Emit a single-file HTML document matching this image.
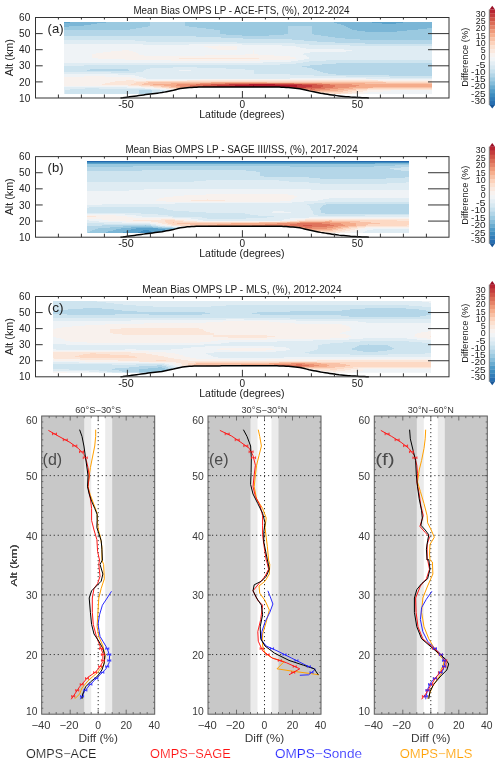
<!DOCTYPE html>
<html><head><meta charset="utf-8"><style>
html,body{margin:0;padding:0;background:#fff;width:500px;height:763px;overflow:hidden}
svg{display:block;font-family:"Liberation Sans", sans-serif;will-change:transform}
</style></head><body>
<svg width="500" height="763" viewBox="0 0 500 763">
<defs></defs>
<g shape-rendering="crispEdges">
<rect x="64.15" y="21.52" width="6.33" height="1" fill="#5aa2cb"/>
<rect x="70.48" y="21.52" width="35.65" height="1" fill="#7bb6d6"/>
<rect x="106.13" y="21.52" width="43.7" height="1" fill="#9ac9e0"/>
<rect x="149.83" y="21.52" width="35.65" height="1" fill="#b4d6e8"/>
<rect x="185.48" y="21.52" width="148.35" height="1" fill="#9ac9e0"/>
<rect x="333.82" y="21.52" width="37.95" height="1" fill="#7bb6d6"/>
<rect x="371.77" y="21.52" width="31.05" height="1" fill="#5aa2cb"/>
<rect x="402.82" y="21.52" width="28.87" height="1" fill="#7bb6d6"/>
<rect x="64.15" y="22.52" width="32.78" height="1" fill="#7bb6d6"/>
<rect x="96.93" y="22.52" width="52.9" height="1" fill="#9ac9e0"/>
<rect x="149.83" y="22.52" width="35.65" height="1" fill="#b4d6e8"/>
<rect x="185.48" y="22.52" width="151.8" height="1" fill="#9ac9e0"/>
<rect x="337.27" y="22.52" width="44.85" height="1" fill="#7bb6d6"/>
<rect x="382.12" y="22.52" width="13.8" height="1" fill="#5aa2cb"/>
<rect x="395.92" y="22.52" width="35.77" height="1" fill="#7bb6d6"/>
<rect x="64.15" y="23.52" width="27.03" height="1" fill="#7bb6d6"/>
<rect x="91.18" y="23.52" width="58.65" height="1" fill="#9ac9e0"/>
<rect x="149.83" y="23.52" width="35.65" height="1" fill="#b4d6e8"/>
<rect x="185.48" y="23.52" width="155.25" height="1" fill="#9ac9e0"/>
<rect x="340.73" y="23.52" width="90.96" height="1" fill="#7bb6d6"/>
<rect x="64.15" y="24.52" width="20.12" height="1" fill="#7bb6d6"/>
<rect x="84.28" y="24.52" width="65.55" height="1" fill="#9ac9e0"/>
<rect x="149.83" y="24.52" width="35.65" height="1" fill="#b4d6e8"/>
<rect x="185.48" y="24.52" width="158.7" height="1" fill="#9ac9e0"/>
<rect x="344.18" y="24.52" width="87.51" height="1" fill="#7bb6d6"/>
<rect x="64.15" y="25.52" width="5.18" height="1" fill="#7bb6d6"/>
<rect x="69.33" y="25.52" width="78.2" height="1" fill="#9ac9e0"/>
<rect x="147.53" y="25.52" width="41.4" height="1" fill="#b4d6e8"/>
<rect x="188.93" y="25.52" width="98.9" height="1" fill="#9ac9e0"/>
<rect x="287.82" y="25.52" width="24.15" height="1" fill="#b4d6e8"/>
<rect x="311.98" y="25.52" width="34.5" height="1" fill="#9ac9e0"/>
<rect x="346.48" y="25.52" width="85.21" height="1" fill="#7bb6d6"/>
<rect x="64.15" y="26.52" width="77.63" height="1" fill="#9ac9e0"/>
<rect x="141.78" y="26.52" width="55.2" height="1" fill="#b4d6e8"/>
<rect x="196.98" y="26.52" width="90.85" height="1" fill="#9ac9e0"/>
<rect x="287.82" y="26.52" width="24.15" height="1" fill="#b4d6e8"/>
<rect x="311.98" y="26.52" width="35.65" height="1" fill="#9ac9e0"/>
<rect x="347.62" y="26.52" width="84.06" height="1" fill="#7bb6d6"/>
<rect x="64.15" y="27.52" width="71.88" height="1" fill="#9ac9e0"/>
<rect x="136.03" y="27.52" width="70.15" height="1" fill="#b4d6e8"/>
<rect x="206.18" y="27.52" width="81.65" height="1" fill="#9ac9e0"/>
<rect x="287.82" y="27.52" width="24.15" height="1" fill="#b4d6e8"/>
<rect x="311.98" y="27.52" width="37.95" height="1" fill="#9ac9e0"/>
<rect x="349.93" y="27.52" width="77.05" height="1" fill="#7bb6d6"/>
<rect x="426.98" y="27.52" width="4.71" height="1" fill="#9ac9e0"/>
<rect x="64.15" y="28.52" width="66.13" height="1" fill="#9ac9e0"/>
<rect x="130.28" y="28.52" width="83.95" height="1" fill="#b4d6e8"/>
<rect x="214.23" y="28.52" width="73.6" height="1" fill="#9ac9e0"/>
<rect x="287.82" y="28.52" width="24.15" height="1" fill="#b4d6e8"/>
<rect x="311.98" y="28.52" width="40.25" height="1" fill="#9ac9e0"/>
<rect x="352.23" y="28.52" width="65.55" height="1" fill="#7bb6d6"/>
<rect x="417.77" y="28.52" width="13.92" height="1" fill="#9ac9e0"/>
<rect x="64.15" y="29.52" width="155.83" height="1" fill="#b4d6e8"/>
<rect x="219.98" y="29.52" width="67.85" height="1" fill="#9ac9e0"/>
<rect x="287.82" y="29.52" width="24.15" height="1" fill="#b4d6e8"/>
<rect x="311.98" y="29.52" width="44.85" height="1" fill="#9ac9e0"/>
<rect x="356.82" y="29.52" width="50.6" height="1" fill="#7bb6d6"/>
<rect x="407.42" y="29.52" width="24.27" height="1" fill="#9ac9e0"/>
<rect x="64.15" y="30.52" width="155.83" height="1" fill="#b4d6e8"/>
<rect x="219.98" y="30.52" width="67.85" height="1" fill="#9ac9e0"/>
<rect x="287.82" y="30.52" width="24.15" height="1" fill="#b4d6e8"/>
<rect x="311.98" y="30.52" width="52.9" height="1" fill="#9ac9e0"/>
<rect x="364.88" y="30.52" width="32.2" height="1" fill="#7bb6d6"/>
<rect x="397.07" y="30.52" width="34.62" height="1" fill="#9ac9e0"/>
<rect x="64.15" y="31.52" width="155.83" height="1" fill="#b4d6e8"/>
<rect x="219.98" y="31.52" width="67.85" height="1" fill="#9ac9e0"/>
<rect x="287.82" y="31.52" width="24.15" height="1" fill="#b4d6e8"/>
<rect x="311.98" y="31.52" width="119.71" height="1" fill="#9ac9e0"/>
<rect x="64.15" y="32.52" width="155.83" height="1" fill="#b4d6e8"/>
<rect x="219.98" y="32.52" width="67.85" height="1" fill="#9ac9e0"/>
<rect x="287.82" y="32.52" width="24.15" height="1" fill="#b4d6e8"/>
<rect x="311.98" y="32.52" width="119.71" height="1" fill="#9ac9e0"/>
<rect x="64.15" y="33.52" width="161.58" height="1" fill="#b4d6e8"/>
<rect x="225.73" y="33.52" width="58.65" height="1" fill="#9ac9e0"/>
<rect x="284.38" y="33.52" width="29.9" height="1" fill="#b4d6e8"/>
<rect x="314.27" y="33.52" width="117.42" height="1" fill="#9ac9e0"/>
<rect x="64.15" y="34.52" width="177.68" height="1" fill="#b4d6e8"/>
<rect x="241.83" y="34.52" width="27.6" height="1" fill="#9ac9e0"/>
<rect x="269.43" y="34.52" width="51.75" height="1" fill="#b4d6e8"/>
<rect x="321.18" y="34.52" width="110.51" height="1" fill="#9ac9e0"/>
<rect x="64.15" y="35.52" width="131.68" height="1" fill="#cee4ef"/>
<rect x="195.83" y="35.52" width="132.25" height="1" fill="#b4d6e8"/>
<rect x="328.07" y="35.52" width="103.62" height="1" fill="#9ac9e0"/>
<rect x="64.15" y="36.52" width="156.97" height="1" fill="#cee4ef"/>
<rect x="221.12" y="36.52" width="113.85" height="1" fill="#b4d6e8"/>
<rect x="334.98" y="36.52" width="96.71" height="1" fill="#9ac9e0"/>
<rect x="64.15" y="37.52" width="178.82" height="1" fill="#cee4ef"/>
<rect x="242.97" y="37.52" width="102.35" height="1" fill="#b4d6e8"/>
<rect x="345.32" y="37.52" width="86.37" height="1" fill="#9ac9e0"/>
<rect x="64.15" y="38.52" width="228.28" height="1" fill="#cee4ef"/>
<rect x="292.43" y="38.52" width="67.85" height="1" fill="#b4d6e8"/>
<rect x="360.27" y="38.52" width="71.42" height="1" fill="#9ac9e0"/>
<rect x="64.15" y="39.52" width="70.72" height="1" fill="#dfecf3"/>
<rect x="134.88" y="39.52" width="169.05" height="1" fill="#cee4ef"/>
<rect x="303.93" y="39.52" width="127.76" height="1" fill="#b4d6e8"/>
<rect x="64.15" y="40.52" width="82.22" height="1" fill="#dfecf3"/>
<rect x="146.38" y="40.52" width="170.2" height="1" fill="#cee4ef"/>
<rect x="316.57" y="40.52" width="115.12" height="1" fill="#b4d6e8"/>
<rect x="64.15" y="41.52" width="173.07" height="1" fill="#dfecf3"/>
<rect x="237.22" y="41.52" width="97.75" height="1" fill="#cee4ef"/>
<rect x="334.98" y="41.52" width="96.71" height="1" fill="#b4d6e8"/>
<rect x="64.15" y="42.52" width="230.58" height="1" fill="#dfecf3"/>
<rect x="294.73" y="42.52" width="70.15" height="1" fill="#cee4ef"/>
<rect x="364.88" y="42.52" width="66.81" height="1" fill="#b4d6e8"/>
<rect x="64.15" y="43.52" width="78.78" height="1" fill="#eff3f6"/>
<rect x="142.93" y="43.52" width="46" height="1" fill="#dfecf3"/>
<rect x="188.93" y="43.52" width="52.9" height="1" fill="#eff3f6"/>
<rect x="241.83" y="43.52" width="66.7" height="1" fill="#dfecf3"/>
<rect x="308.52" y="43.52" width="123.17" height="1" fill="#cee4ef"/>
<rect x="64.15" y="44.52" width="154.68" height="1" fill="#eff3f6"/>
<rect x="218.83" y="44.52" width="1.15" height="1" fill="#f8f1ed"/>
<rect x="219.98" y="44.52" width="62.1" height="1" fill="#eff3f6"/>
<rect x="282.07" y="44.52" width="67.85" height="1" fill="#dfecf3"/>
<rect x="349.93" y="44.52" width="81.76" height="1" fill="#cee4ef"/>
<rect x="64.15" y="45.52" width="139.72" height="1" fill="#eff3f6"/>
<rect x="203.88" y="45.52" width="33.35" height="1" fill="#f8f1ed"/>
<rect x="237.22" y="45.52" width="58.65" height="1" fill="#eff3f6"/>
<rect x="295.88" y="45.52" width="135.81" height="1" fill="#dfecf3"/>
<rect x="64.15" y="46.52" width="144.33" height="1" fill="#eff3f6"/>
<rect x="208.48" y="46.52" width="28.75" height="1" fill="#f8f1ed"/>
<rect x="237.22" y="46.52" width="63.25" height="1" fill="#eff3f6"/>
<rect x="300.48" y="46.52" width="131.21" height="1" fill="#dfecf3"/>
<rect x="64.15" y="47.52" width="147.78" height="1" fill="#eff3f6"/>
<rect x="211.93" y="47.52" width="25.3" height="1" fill="#f8f1ed"/>
<rect x="237.22" y="47.52" width="69" height="1" fill="#eff3f6"/>
<rect x="306.23" y="47.52" width="125.46" height="1" fill="#dfecf3"/>
<rect x="64.15" y="48.52" width="152.38" height="1" fill="#eff3f6"/>
<rect x="216.53" y="48.52" width="20.7" height="1" fill="#f8f1ed"/>
<rect x="237.22" y="48.52" width="106.95" height="1" fill="#eff3f6"/>
<rect x="344.18" y="48.52" width="87.51" height="1" fill="#dfecf3"/>
<rect x="64.15" y="49.52" width="58.08" height="1" fill="#eff3f6"/>
<rect x="122.23" y="49.52" width="6.9" height="1" fill="#f8f1ed"/>
<rect x="129.12" y="49.52" width="124.2" height="1" fill="#eff3f6"/>
<rect x="253.33" y="49.52" width="1.15" height="1" fill="#f8f1ed"/>
<rect x="254.47" y="49.52" width="97.75" height="1" fill="#eff3f6"/>
<rect x="352.23" y="49.52" width="79.46" height="1" fill="#dfecf3"/>
<rect x="64.15" y="50.52" width="46.58" height="1" fill="#eff3f6"/>
<rect x="110.73" y="50.52" width="21.85" height="1" fill="#f8f1ed"/>
<rect x="132.58" y="50.52" width="120.75" height="1" fill="#eff3f6"/>
<rect x="253.33" y="50.52" width="1.15" height="1" fill="#f8f1ed"/>
<rect x="254.47" y="50.52" width="92" height="1" fill="#eff3f6"/>
<rect x="346.48" y="50.52" width="85.21" height="1" fill="#dfecf3"/>
<rect x="64.15" y="51.52" width="38.53" height="1" fill="#eff3f6"/>
<rect x="102.68" y="51.52" width="33.35" height="1" fill="#f8f1ed"/>
<rect x="136.03" y="51.52" width="117.3" height="1" fill="#eff3f6"/>
<rect x="253.33" y="51.52" width="1.15" height="1" fill="#f8f1ed"/>
<rect x="254.47" y="51.52" width="55.2" height="1" fill="#eff3f6"/>
<rect x="309.68" y="51.52" width="122.01" height="1" fill="#dfecf3"/>
<rect x="64.15" y="52.52" width="31.62" height="1" fill="#eff3f6"/>
<rect x="95.78" y="52.52" width="42.55" height="1" fill="#f8f1ed"/>
<rect x="138.33" y="52.52" width="115" height="1" fill="#eff3f6"/>
<rect x="253.33" y="52.52" width="1.15" height="1" fill="#f8f1ed"/>
<rect x="254.47" y="52.52" width="49.45" height="1" fill="#eff3f6"/>
<rect x="303.93" y="52.52" width="127.76" height="1" fill="#dfecf3"/>
<rect x="64.15" y="53.52" width="28.18" height="1" fill="#eff3f6"/>
<rect x="92.33" y="53.52" width="47.15" height="1" fill="#f8f1ed"/>
<rect x="139.48" y="53.52" width="105.8" height="1" fill="#eff3f6"/>
<rect x="245.28" y="53.52" width="12.65" height="1" fill="#f8f1ed"/>
<rect x="257.93" y="53.52" width="44.85" height="1" fill="#eff3f6"/>
<rect x="302.77" y="53.52" width="128.92" height="1" fill="#dfecf3"/>
<rect x="64.15" y="54.52" width="28.18" height="1" fill="#eff3f6"/>
<rect x="92.33" y="54.52" width="51.75" height="1" fill="#f8f1ed"/>
<rect x="144.08" y="54.52" width="60.95" height="1" fill="#eff3f6"/>
<rect x="205.03" y="54.52" width="69" height="1" fill="#f8f1ed"/>
<rect x="274.02" y="54.52" width="32.2" height="1" fill="#eff3f6"/>
<rect x="306.23" y="54.52" width="125.46" height="1" fill="#dfecf3"/>
<rect x="64.15" y="55.52" width="28.18" height="1" fill="#eff3f6"/>
<rect x="92.33" y="55.52" width="197.8" height="1" fill="#f8f1ed"/>
<rect x="290.12" y="55.52" width="17.25" height="1" fill="#eff3f6"/>
<rect x="307.38" y="55.52" width="124.31" height="1" fill="#dfecf3"/>
<rect x="64.15" y="56.52" width="28.18" height="1" fill="#eff3f6"/>
<rect x="92.33" y="56.52" width="202.4" height="1" fill="#f8f1ed"/>
<rect x="294.73" y="56.52" width="13.8" height="1" fill="#eff3f6"/>
<rect x="308.52" y="56.52" width="123.17" height="1" fill="#dfecf3"/>
<rect x="64.15" y="57.52" width="33.93" height="1" fill="#eff3f6"/>
<rect x="98.08" y="57.52" width="80.5" height="1" fill="#f8f1ed"/>
<rect x="178.58" y="57.52" width="80.5" height="1" fill="#fbe6d9"/>
<rect x="259.07" y="57.52" width="36.8" height="1" fill="#f8f1ed"/>
<rect x="295.88" y="57.52" width="12.65" height="1" fill="#eff3f6"/>
<rect x="308.52" y="57.52" width="123.17" height="1" fill="#dfecf3"/>
<rect x="64.15" y="58.52" width="60.38" height="1" fill="#eff3f6"/>
<rect x="124.53" y="58.52" width="165.6" height="1" fill="#f8f1ed"/>
<rect x="290.12" y="58.52" width="13.8" height="1" fill="#eff3f6"/>
<rect x="303.93" y="58.52" width="127.76" height="1" fill="#dfecf3"/>
<rect x="64.15" y="59.52" width="106.38" height="1" fill="#eff3f6"/>
<rect x="170.53" y="59.52" width="89.7" height="1" fill="#f8f1ed"/>
<rect x="260.23" y="59.52" width="37.95" height="1" fill="#eff3f6"/>
<rect x="298.18" y="59.52" width="27.6" height="1" fill="#dfecf3"/>
<rect x="325.77" y="59.52" width="105.92" height="1" fill="#cee4ef"/>
<rect x="64.15" y="60.52" width="227.12" height="1" fill="#eff3f6"/>
<rect x="291.27" y="60.52" width="17.25" height="1" fill="#dfecf3"/>
<rect x="308.52" y="60.52" width="123.17" height="1" fill="#cee4ef"/>
<rect x="64.15" y="61.52" width="198.37" height="1" fill="#eff3f6"/>
<rect x="262.52" y="61.52" width="40.25" height="1" fill="#dfecf3"/>
<rect x="302.77" y="61.52" width="128.92" height="1" fill="#cee4ef"/>
<rect x="64.15" y="62.52" width="231.72" height="1" fill="#dfecf3"/>
<rect x="295.88" y="62.52" width="40.25" height="1" fill="#cee4ef"/>
<rect x="336.12" y="62.52" width="95.56" height="1" fill="#b4d6e8"/>
<rect x="64.15" y="63.52" width="215.62" height="1" fill="#dfecf3"/>
<rect x="279.77" y="63.52" width="42.55" height="1" fill="#cee4ef"/>
<rect x="322.32" y="63.52" width="109.37" height="1" fill="#b4d6e8"/>
<rect x="64.15" y="64.53" width="20.12" height="1" fill="#dfecf3"/>
<rect x="84.28" y="64.53" width="225.4" height="1" fill="#cee4ef"/>
<rect x="309.68" y="64.53" width="122.01" height="1" fill="#b4d6e8"/>
<rect x="64.15" y="65.53" width="237.47" height="1" fill="#cee4ef"/>
<rect x="301.62" y="65.53" width="130.06" height="1" fill="#b4d6e8"/>
<rect x="64.15" y="66.53" width="108.68" height="1" fill="#cee4ef"/>
<rect x="172.83" y="66.53" width="24.15" height="1" fill="#dfecf3"/>
<rect x="196.98" y="66.53" width="110.4" height="1" fill="#cee4ef"/>
<rect x="307.38" y="66.53" width="124.31" height="1" fill="#b4d6e8"/>
<rect x="64.15" y="67.53" width="85.68" height="1" fill="#cee4ef"/>
<rect x="149.83" y="67.53" width="75.9" height="1" fill="#dfecf3"/>
<rect x="225.73" y="67.53" width="86.25" height="1" fill="#cee4ef"/>
<rect x="311.98" y="67.53" width="119.71" height="1" fill="#b4d6e8"/>
<rect x="64.15" y="68.53" width="25.88" height="1" fill="#cee4ef"/>
<rect x="90.03" y="68.53" width="37.95" height="1" fill="#b4d6e8"/>
<rect x="127.98" y="68.53" width="18.4" height="1" fill="#cee4ef"/>
<rect x="146.38" y="68.53" width="98.9" height="1" fill="#dfecf3"/>
<rect x="245.28" y="68.53" width="69" height="1" fill="#cee4ef"/>
<rect x="314.27" y="68.53" width="117.42" height="1" fill="#b4d6e8"/>
<rect x="64.15" y="69.53" width="22.43" height="1" fill="#cee4ef"/>
<rect x="86.58" y="69.53" width="42.55" height="1" fill="#b4d6e8"/>
<rect x="129.12" y="69.53" width="14.95" height="1" fill="#cee4ef"/>
<rect x="144.08" y="69.53" width="34.5" height="1" fill="#dfecf3"/>
<rect x="178.58" y="69.53" width="12.65" height="1" fill="#eff3f6"/>
<rect x="191.23" y="69.53" width="63.25" height="1" fill="#dfecf3"/>
<rect x="254.47" y="69.53" width="62.1" height="1" fill="#cee4ef"/>
<rect x="316.57" y="69.53" width="115.12" height="1" fill="#b4d6e8"/>
<rect x="64.15" y="70.53" width="78.78" height="1" fill="#cee4ef"/>
<rect x="142.93" y="70.53" width="111.55" height="1" fill="#dfecf3"/>
<rect x="254.47" y="70.53" width="65.55" height="1" fill="#cee4ef"/>
<rect x="320.02" y="70.53" width="111.67" height="1" fill="#b4d6e8"/>
<rect x="64.15" y="71.53" width="46.58" height="1" fill="#dfecf3"/>
<rect x="110.73" y="71.53" width="25.3" height="1" fill="#cee4ef"/>
<rect x="136.03" y="71.53" width="118.45" height="1" fill="#dfecf3"/>
<rect x="254.47" y="71.53" width="69" height="1" fill="#cee4ef"/>
<rect x="323.48" y="71.53" width="108.21" height="1" fill="#b4d6e8"/>
<rect x="64.15" y="72.53" width="190.32" height="1" fill="#dfecf3"/>
<rect x="254.47" y="72.53" width="73.6" height="1" fill="#cee4ef"/>
<rect x="328.07" y="72.53" width="103.62" height="1" fill="#b4d6e8"/>
<rect x="64.15" y="73.53" width="53.48" height="1" fill="#eff3f6"/>
<rect x="117.63" y="73.53" width="172.5" height="1" fill="#dfecf3"/>
<rect x="290.12" y="73.53" width="46" height="1" fill="#cee4ef"/>
<rect x="336.12" y="73.53" width="95.56" height="1" fill="#b4d6e8"/>
<rect x="64.15" y="74.53" width="70.72" height="1" fill="#eff3f6"/>
<rect x="134.88" y="74.53" width="179.4" height="1" fill="#dfecf3"/>
<rect x="314.27" y="74.53" width="74.75" height="1" fill="#cee4ef"/>
<rect x="389.02" y="74.53" width="42.67" height="1" fill="#b4d6e8"/>
<rect x="64.15" y="75.53" width="20.12" height="1" fill="#eff3f6"/>
<rect x="84.28" y="75.53" width="20.7" height="1" fill="#f8f1ed"/>
<rect x="104.98" y="75.53" width="34.5" height="1" fill="#eff3f6"/>
<rect x="139.48" y="75.53" width="207" height="1" fill="#dfecf3"/>
<rect x="346.48" y="75.53" width="85.21" height="1" fill="#cee4ef"/>
<rect x="64.15" y="76.53" width="67.28" height="1" fill="#f8f1ed"/>
<rect x="131.43" y="76.53" width="11.5" height="1" fill="#eff3f6"/>
<rect x="142.93" y="76.53" width="247.25" height="1" fill="#dfecf3"/>
<rect x="390.17" y="76.53" width="41.52" height="1" fill="#cee4ef"/>
<rect x="64.15" y="77.53" width="71.88" height="1" fill="#f8f1ed"/>
<rect x="136.03" y="77.53" width="10.35" height="1" fill="#eff3f6"/>
<rect x="146.38" y="77.53" width="143.75" height="1" fill="#dfecf3"/>
<rect x="290.12" y="77.53" width="75.9" height="1" fill="#eff3f6"/>
<rect x="366.02" y="77.53" width="65.67" height="1" fill="#dfecf3"/>
<rect x="64.15" y="78.53" width="82.22" height="1" fill="#f8f1ed"/>
<rect x="146.38" y="78.53" width="54.05" height="1" fill="#eff3f6"/>
<rect x="200.43" y="78.53" width="171.35" height="1" fill="#f8f1ed"/>
<rect x="371.77" y="78.53" width="59.92" height="1" fill="#eff3f6"/>
<rect x="64.15" y="79.53" width="61.53" height="1" fill="#f8f1ed"/>
<rect x="125.68" y="79.53" width="8.05" height="1" fill="#fbe6d9"/>
<rect x="133.73" y="79.53" width="52.9" height="1" fill="#f8f1ed"/>
<rect x="186.62" y="79.53" width="190.9" height="1" fill="#fbe6d9"/>
<rect x="377.52" y="79.53" width="54.17" height="1" fill="#f8f1ed"/>
<rect x="64.15" y="80.53" width="51.18" height="1" fill="#f8f1ed"/>
<rect x="115.33" y="80.53" width="31.05" height="1" fill="#fbe6d9"/>
<rect x="146.38" y="80.53" width="236.9" height="1" fill="#fdd9c4"/>
<rect x="383.27" y="80.53" width="48.42" height="1" fill="#fbe6d9"/>
<rect x="64.15" y="81.53" width="45.43" height="1" fill="#f8f1ed"/>
<rect x="109.58" y="81.53" width="26.45" height="1" fill="#fbe6d9"/>
<rect x="136.03" y="81.53" width="11.5" height="1" fill="#fdd9c4"/>
<rect x="147.53" y="81.53" width="63.25" height="1" fill="#f9c2a7"/>
<rect x="210.78" y="81.53" width="56.35" height="1" fill="#f5ac8b"/>
<rect x="267.12" y="81.53" width="118.45" height="1" fill="#f9c2a7"/>
<rect x="385.57" y="81.53" width="46.12" height="1" fill="#fdd9c4"/>
<rect x="64.15" y="82.53" width="40.83" height="1" fill="#f8f1ed"/>
<rect x="104.98" y="82.53" width="28.75" height="1" fill="#fbe6d9"/>
<rect x="133.73" y="82.53" width="10.35" height="1" fill="#fdd9c4"/>
<rect x="144.08" y="82.53" width="26.45" height="1" fill="#f9c2a7"/>
<rect x="170.53" y="82.53" width="29.9" height="1" fill="#f5ac8b"/>
<rect x="200.43" y="82.53" width="24.15" height="1" fill="#eb9173"/>
<rect x="224.58" y="82.53" width="69" height="1" fill="#df745c"/>
<rect x="293.57" y="82.53" width="28.75" height="1" fill="#eb9173"/>
<rect x="322.32" y="82.53" width="42.55" height="1" fill="#f5ac8b"/>
<rect x="364.88" y="82.53" width="66.81" height="1" fill="#f9c2a7"/>
<rect x="64.15" y="83.53" width="37.38" height="1" fill="#f8f1ed"/>
<rect x="101.53" y="83.53" width="29.9" height="1" fill="#fbe6d9"/>
<rect x="131.43" y="83.53" width="10.35" height="1" fill="#fdd9c4"/>
<rect x="141.78" y="83.53" width="11.5" height="1" fill="#f9c2a7"/>
<rect x="153.28" y="83.53" width="24.15" height="1" fill="#f5ac8b"/>
<rect x="177.43" y="83.53" width="18.4" height="1" fill="#eb9173"/>
<rect x="195.83" y="83.53" width="14.95" height="1" fill="#df745c"/>
<rect x="210.78" y="83.53" width="18.4" height="1" fill="#d25749"/>
<rect x="229.18" y="83.53" width="19.55" height="1" fill="#c3393b"/>
<rect x="248.72" y="83.53" width="26.45" height="1" fill="#b31b2c"/>
<rect x="275.18" y="83.53" width="26.45" height="1" fill="#c3393b"/>
<rect x="301.62" y="83.53" width="14.95" height="1" fill="#d25749"/>
<rect x="316.57" y="83.53" width="13.8" height="1" fill="#df745c"/>
<rect x="330.38" y="83.53" width="21.85" height="1" fill="#eb9173"/>
<rect x="352.23" y="83.53" width="79.46" height="1" fill="#f5ac8b"/>
<rect x="64.15" y="84.53" width="63.83" height="1" fill="#f8f1ed"/>
<rect x="127.98" y="84.53" width="11.5" height="1" fill="#fbe6d9"/>
<rect x="139.48" y="84.53" width="10.35" height="1" fill="#fdd9c4"/>
<rect x="149.83" y="84.53" width="13.8" height="1" fill="#f9c2a7"/>
<rect x="163.62" y="84.53" width="12.65" height="1" fill="#f5ac8b"/>
<rect x="176.28" y="84.53" width="13.8" height="1" fill="#eb9173"/>
<rect x="190.08" y="84.53" width="12.65" height="1" fill="#df745c"/>
<rect x="202.73" y="84.53" width="13.8" height="1" fill="#d25749"/>
<rect x="216.53" y="84.53" width="18.4" height="1" fill="#c3393b"/>
<rect x="234.93" y="84.53" width="18.4" height="1" fill="#b31b2c"/>
<rect x="253.33" y="84.53" width="1.15" height="1" fill="#960f26"/>
<rect x="254.47" y="84.53" width="42.55" height="1" fill="#b31b2c"/>
<rect x="297.02" y="84.53" width="14.95" height="1" fill="#c3393b"/>
<rect x="311.98" y="84.53" width="11.5" height="1" fill="#d25749"/>
<rect x="323.48" y="84.53" width="11.5" height="1" fill="#df745c"/>
<rect x="334.98" y="84.53" width="24.15" height="1" fill="#eb9173"/>
<rect x="359.12" y="84.53" width="72.56" height="1" fill="#f5ac8b"/>
<rect x="64.15" y="85.53" width="64.97" height="1" fill="#eff3f6"/>
<rect x="129.12" y="85.53" width="11.5" height="1" fill="#f8f1ed"/>
<rect x="140.62" y="85.53" width="12.65" height="1" fill="#fbe6d9"/>
<rect x="153.28" y="85.53" width="8.05" height="1" fill="#fdd9c4"/>
<rect x="161.33" y="85.53" width="9.2" height="1" fill="#f9c2a7"/>
<rect x="170.53" y="85.53" width="9.2" height="1" fill="#f5ac8b"/>
<rect x="179.73" y="85.53" width="10.35" height="1" fill="#eb9173"/>
<rect x="190.08" y="85.53" width="11.5" height="1" fill="#df745c"/>
<rect x="201.58" y="85.53" width="11.5" height="1" fill="#d25749"/>
<rect x="213.08" y="85.53" width="17.25" height="1" fill="#c3393b"/>
<rect x="230.33" y="85.53" width="23" height="1" fill="#b31b2c"/>
<rect x="253.33" y="85.53" width="1.15" height="1" fill="#960f26"/>
<rect x="254.47" y="85.53" width="42.55" height="1" fill="#b31b2c"/>
<rect x="297.02" y="85.53" width="14.95" height="1" fill="#c3393b"/>
<rect x="311.98" y="85.53" width="11.5" height="1" fill="#d25749"/>
<rect x="323.48" y="85.53" width="11.5" height="1" fill="#df745c"/>
<rect x="334.98" y="85.53" width="20.7" height="1" fill="#eb9173"/>
<rect x="355.68" y="85.53" width="76.01" height="1" fill="#f5ac8b"/>
<rect x="64.15" y="86.53" width="62.68" height="1" fill="#dfecf3"/>
<rect x="126.83" y="86.53" width="16.1" height="1" fill="#eff3f6"/>
<rect x="142.93" y="86.53" width="11.5" height="1" fill="#f8f1ed"/>
<rect x="154.43" y="86.53" width="8.05" height="1" fill="#fbe6d9"/>
<rect x="162.48" y="86.53" width="6.9" height="1" fill="#fdd9c4"/>
<rect x="169.38" y="86.53" width="6.9" height="1" fill="#f9c2a7"/>
<rect x="176.28" y="86.53" width="8.05" height="1" fill="#f5ac8b"/>
<rect x="184.33" y="86.53" width="11.5" height="1" fill="#eb9173"/>
<rect x="195.83" y="86.53" width="11.5" height="1" fill="#df745c"/>
<rect x="207.33" y="86.53" width="12.65" height="1" fill="#d25749"/>
<rect x="219.98" y="86.53" width="31.05" height="1" fill="#c3393b"/>
<rect x="251.03" y="86.53" width="10.35" height="1" fill="#b31b2c"/>
<rect x="261.38" y="86.53" width="44.85" height="1" fill="#c3393b"/>
<rect x="306.23" y="86.53" width="14.95" height="1" fill="#d25749"/>
<rect x="321.18" y="86.53" width="11.5" height="1" fill="#df745c"/>
<rect x="332.68" y="86.53" width="16.1" height="1" fill="#eb9173"/>
<rect x="348.77" y="86.53" width="24.15" height="1" fill="#f5ac8b"/>
<rect x="372.92" y="86.53" width="58.77" height="1" fill="#f9c2a7"/>
<rect x="64.15" y="87.53" width="21.28" height="1" fill="#dfecf3"/>
<rect x="85.43" y="87.53" width="13.8" height="1" fill="#cee4ef"/>
<rect x="99.23" y="87.53" width="46" height="1" fill="#dfecf3"/>
<rect x="145.23" y="87.53" width="11.5" height="1" fill="#eff3f6"/>
<rect x="156.73" y="87.53" width="9.2" height="1" fill="#f8f1ed"/>
<rect x="165.93" y="87.53" width="8.05" height="1" fill="#fbe6d9"/>
<rect x="173.98" y="87.53" width="8.05" height="1" fill="#fdd9c4"/>
<rect x="182.03" y="87.53" width="14.95" height="1" fill="#f9c2a7"/>
<rect x="196.98" y="87.53" width="17.25" height="1" fill="#f5ac8b"/>
<rect x="214.23" y="87.53" width="79.35" height="1" fill="#eb9173"/>
<rect x="293.57" y="87.53" width="17.25" height="1" fill="#df745c"/>
<rect x="310.82" y="87.53" width="1.15" height="1" fill="#d25749"/>
<rect x="311.98" y="87.53" width="12.65" height="1" fill="#df745c"/>
<rect x="324.62" y="87.53" width="13.8" height="1" fill="#eb9173"/>
<rect x="338.43" y="87.53" width="14.95" height="1" fill="#f5ac8b"/>
<rect x="353.38" y="87.53" width="14.95" height="1" fill="#f9c2a7"/>
<rect x="368.32" y="87.53" width="63.37" height="1" fill="#fdd9c4"/>
<rect x="64.15" y="88.53" width="6.33" height="1" fill="#dfecf3"/>
<rect x="70.48" y="88.53" width="80.5" height="1" fill="#cee4ef"/>
<rect x="150.98" y="88.53" width="9.2" height="1" fill="#dfecf3"/>
<rect x="160.18" y="88.53" width="9.2" height="1" fill="#eff3f6"/>
<rect x="169.38" y="88.53" width="10.35" height="1" fill="#f8f1ed"/>
<rect x="179.73" y="88.53" width="19.55" height="1" fill="#fbe6d9"/>
<rect x="199.28" y="88.53" width="90.85" height="1" fill="#fdd9c4"/>
<rect x="290.12" y="88.53" width="6.9" height="1" fill="#f9c2a7"/>
<rect x="297.02" y="88.53" width="5.75" height="1" fill="#f5ac8b"/>
<rect x="302.77" y="88.53" width="6.9" height="1" fill="#eb9173"/>
<rect x="309.68" y="88.53" width="5.75" height="1" fill="#df745c"/>
<rect x="315.43" y="88.53" width="14.95" height="1" fill="#eb9173"/>
<rect x="330.38" y="88.53" width="13.8" height="1" fill="#f5ac8b"/>
<rect x="344.18" y="88.53" width="11.5" height="1" fill="#f9c2a7"/>
<rect x="355.68" y="88.53" width="11.5" height="1" fill="#fdd9c4"/>
<rect x="367.18" y="88.53" width="64.51" height="1" fill="#fbe6d9"/>
<rect x="64.15" y="89.53" width="0.58" height="1" fill="#dfecf3"/>
<rect x="64.73" y="89.53" width="74.75" height="1" fill="#cee4ef"/>
<rect x="139.48" y="89.53" width="12.65" height="1" fill="#b4d6e8"/>
<rect x="152.12" y="89.53" width="11.5" height="1" fill="#cee4ef"/>
<rect x="163.62" y="89.53" width="10.35" height="1" fill="#dfecf3"/>
<rect x="173.98" y="89.53" width="10.35" height="1" fill="#eff3f6"/>
<rect x="184.33" y="89.53" width="108.1" height="1" fill="#f8f1ed"/>
<rect x="292.43" y="89.53" width="4.6" height="1" fill="#fbe6d9"/>
<rect x="297.02" y="89.53" width="3.45" height="1" fill="#fdd9c4"/>
<rect x="300.48" y="89.53" width="4.6" height="1" fill="#f9c2a7"/>
<rect x="305.07" y="89.53" width="4.6" height="1" fill="#f5ac8b"/>
<rect x="309.68" y="89.53" width="10.35" height="1" fill="#eb9173"/>
<rect x="320.02" y="89.53" width="18.4" height="1" fill="#f5ac8b"/>
<rect x="338.43" y="89.53" width="9.2" height="1" fill="#f9c2a7"/>
<rect x="347.62" y="89.53" width="9.2" height="1" fill="#fdd9c4"/>
<rect x="356.82" y="89.53" width="10.35" height="1" fill="#fbe6d9"/>
<rect x="367.18" y="89.53" width="24.15" height="1" fill="#f8f1ed"/>
<rect x="391.32" y="89.53" width="40.37" height="1" fill="#eff3f6"/>
<rect x="64.15" y="90.53" width="0.58" height="1" fill="#dfecf3"/>
<rect x="64.73" y="90.53" width="74.75" height="1" fill="#cee4ef"/>
<rect x="139.48" y="90.53" width="12.65" height="1" fill="#b4d6e8"/>
<rect x="152.12" y="90.53" width="11.5" height="1" fill="#cee4ef"/>
<rect x="163.62" y="90.53" width="10.35" height="1" fill="#dfecf3"/>
<rect x="173.98" y="90.53" width="10.35" height="1" fill="#eff3f6"/>
<rect x="184.33" y="90.53" width="109.25" height="1" fill="#f8f1ed"/>
<rect x="293.57" y="90.53" width="5.75" height="1" fill="#fbe6d9"/>
<rect x="299.32" y="90.53" width="5.75" height="1" fill="#fdd9c4"/>
<rect x="305.07" y="90.53" width="5.75" height="1" fill="#f9c2a7"/>
<rect x="310.82" y="90.53" width="4.6" height="1" fill="#f5ac8b"/>
<rect x="315.43" y="90.53" width="27.6" height="1" fill="#f9c2a7"/>
<rect x="343.02" y="90.53" width="9.2" height="1" fill="#fdd9c4"/>
<rect x="352.23" y="90.53" width="10.35" height="1" fill="#fbe6d9"/>
<rect x="362.57" y="90.53" width="20.7" height="1" fill="#f8f1ed"/>
<rect x="383.27" y="90.53" width="48.42" height="1" fill="#eff3f6"/>
<rect x="64.15" y="91.53" width="0.58" height="1" fill="#dfecf3"/>
<rect x="64.73" y="91.53" width="74.75" height="1" fill="#cee4ef"/>
<rect x="139.48" y="91.53" width="12.65" height="1" fill="#b4d6e8"/>
<rect x="152.12" y="91.53" width="11.5" height="1" fill="#cee4ef"/>
<rect x="163.62" y="91.53" width="10.35" height="1" fill="#dfecf3"/>
<rect x="173.98" y="91.53" width="10.35" height="1" fill="#eff3f6"/>
<rect x="184.33" y="91.53" width="112.7" height="1" fill="#f8f1ed"/>
<rect x="297.02" y="91.53" width="8.05" height="1" fill="#fbe6d9"/>
<rect x="305.07" y="91.53" width="42.55" height="1" fill="#fdd9c4"/>
<rect x="347.62" y="91.53" width="10.35" height="1" fill="#fbe6d9"/>
<rect x="357.98" y="91.53" width="10.35" height="1" fill="#f8f1ed"/>
<rect x="368.32" y="91.53" width="63.37" height="1" fill="#eff3f6"/>
<rect x="64.15" y="92.53" width="0.58" height="1" fill="#dfecf3"/>
<rect x="64.73" y="92.53" width="74.75" height="1" fill="#cee4ef"/>
<rect x="139.48" y="92.53" width="12.65" height="1" fill="#b4d6e8"/>
<rect x="152.12" y="92.53" width="11.5" height="1" fill="#cee4ef"/>
<rect x="163.62" y="92.53" width="10.35" height="1" fill="#dfecf3"/>
<rect x="173.98" y="92.53" width="10.35" height="1" fill="#eff3f6"/>
<rect x="184.33" y="92.53" width="121.9" height="1" fill="#f8f1ed"/>
<rect x="306.23" y="92.53" width="27.6" height="1" fill="#fbe6d9"/>
<rect x="333.82" y="92.53" width="6.9" height="1" fill="#fdd9c4"/>
<rect x="340.73" y="92.53" width="11.5" height="1" fill="#fbe6d9"/>
<rect x="352.23" y="92.53" width="11.5" height="1" fill="#f8f1ed"/>
<rect x="363.73" y="92.53" width="67.96" height="1" fill="#eff3f6"/>
<rect x="64.15" y="93.53" width="0.58" height="0.45" fill="#dfecf3"/>
<rect x="64.73" y="93.53" width="74.75" height="0.45" fill="#cee4ef"/>
<rect x="139.48" y="93.53" width="12.65" height="0.45" fill="#b4d6e8"/>
<rect x="152.12" y="93.53" width="11.5" height="0.45" fill="#cee4ef"/>
<rect x="163.62" y="93.53" width="10.35" height="0.45" fill="#dfecf3"/>
<rect x="173.98" y="93.53" width="10.35" height="0.45" fill="#eff3f6"/>
<rect x="184.33" y="93.53" width="140.3" height="0.45" fill="#f8f1ed"/>
<rect x="324.62" y="93.53" width="23" height="0.45" fill="#fbe6d9"/>
<rect x="347.62" y="93.53" width="12.65" height="0.45" fill="#f8f1ed"/>
<rect x="360.27" y="93.53" width="71.42" height="0.45" fill="#eff3f6"/>
</g>
<polygon points="64.15,93.98 66.45,93.98 68.75,93.98 71.05,93.98 73.35,93.98 75.65,93.98 77.95,93.98 80.25,93.98 82.55,93.98 84.85,93.98 87.15,93.98 89.45,93.98 91.75,93.98 94.05,93.98 96.35,93.98 98.65,93.98 100.95,93.98 103.25,93.98 105.55,93.98 107.85,93.98 110.15,93.98 112.45,93.98 114.75,93.98 117.05,93.98 119.35,93.98 121.65,93.98 123.95,93.98 126.25,93.98 128.55,93.98 130.85,93.98 133.15,93.98 135.45,93.98 137.75,93.98 140.05,93.98 142.35,93.98 144.65,93.98 146.95,93.98 149.25,93.98 151.55,93.83 153.85,93.55 156.15,93.28 158.45,93.01 160.75,92.73 163.05,92.36 165.35,91.89 167.65,91.43 169.95,90.97 172.25,90.5 174.55,89.95 176.85,89.39 179.15,88.82 181.45,88.44 183.75,88.13 186.05,87.82 188.35,87.61 190.65,87.47 192.95,87.32 195.25,87.18 197.55,87.13 199.85,87.12 202.15,87.11 204.45,87.1 206.75,87.1 209.05,87.09 211.35,87.08 213.65,87.07 215.95,87.06 218.25,87.06 220.55,87.05 222.85,87.04 225.15,87.03 227.45,87.02 229.75,87.02 232.05,87.01 234.35,87 236.65,86.99 238.95,86.98 241.25,86.98 243.55,86.97 245.85,86.98 248.15,86.98 250.45,86.99 252.75,86.99 255.05,87 257.35,87 259.65,87.01 261.95,87.01 264.25,87.02 266.55,87.02 268.85,87.03 271.15,87.03 273.45,87.04 275.75,87.04 278.05,87.05 280.35,87.08 282.65,87.21 284.95,87.33 287.25,87.46 289.55,87.59 291.85,87.81 294.15,88.05 296.45,88.29 298.75,88.53 301.05,88.92 303.35,89.47 305.65,90.03 307.95,90.58 310.25,91.13 312.55,91.59 314.85,92.05 317.15,92.52 319.45,92.98 321.75,93.37 324.05,93.74 326.35,93.98 328.65,93.98 330.95,93.98 333.25,93.98 335.55,93.98 337.85,93.98 340.15,93.98 342.45,93.98 344.75,93.98 347.05,93.98 349.35,93.98 351.65,93.98 353.95,93.98 356.25,93.98 358.55,93.98 360.85,93.98 363.15,93.98 365.45,93.98 367.75,93.98 370.05,93.98 372.35,93.98 374.65,93.98 376.95,93.98 379.25,93.98 381.55,93.98 383.85,93.98 386.15,93.98 388.45,93.98 390.75,93.98 393.05,93.98 395.35,93.98 397.65,93.98 399.95,93.98 402.25,93.98 404.55,93.98 406.85,93.98 409.15,93.98 411.45,93.98 413.75,93.98 416.05,93.98 418.35,93.98 420.65,93.98 422.95,93.98 425.25,93.98 427.55,93.98 429.85,93.98 431.69,94.98 64.15,94.98" fill="#fff"/>
<polyline points="120.5,98 122.8,97.79 125.1,97.48 127.4,97.16 129.7,96.84 132,96.53 134.3,96.21 136.6,95.89 138.9,95.57 141.2,95.25 143.5,94.93 145.8,94.61 148.1,94.3 150.4,93.98 152.7,93.69 155,93.42 157.3,93.14 159.6,92.87 161.9,92.59 164.2,92.12 166.5,91.66 168.8,91.2 171.1,90.73 173.4,90.23 175.7,89.67 178,89.1 180.3,88.59 182.6,88.29 184.9,87.98 187.2,87.68 189.5,87.54 191.8,87.4 194.1,87.25 196.4,87.13 198.7,87.12 201,87.12 203.3,87.11 205.6,87.1 207.9,87.09 210.2,87.08 212.5,87.08 214.8,87.07 217.1,87.06 219.4,87.05 221.7,87.04 224,87.04 226.3,87.03 228.6,87.02 230.9,87.01 233.2,87 235.5,87 237.8,86.99 240.1,86.98 242.4,86.97 244.7,86.98 247,86.98 249.3,86.99 251.6,86.99 253.9,87 256.2,87 258.5,87.01 260.8,87.01 263.1,87.02 265.4,87.02 267.7,87.03 270,87.03 272.3,87.04 274.6,87.04 276.9,87.05 279.2,87.05 281.5,87.14 283.8,87.27 286.1,87.4 288.4,87.53 290.7,87.69 293,87.93 295.3,88.17 297.6,88.41 299.9,88.65 302.2,89.19 304.5,89.75 306.8,90.31 309.1,90.86 311.4,91.36 313.7,91.82 316,92.28 318.3,92.75 320.6,93.19 322.9,93.56 325.2,93.93 327.5,94.3 329.8,94.67 332.1,94.99 334.4,95.3 336.7,95.62 339,95.93 341.3,96.19 343.6,96.42 345.9,96.64 348.2,96.86 350.5,97.06 352.8,97.19 355.1,97.32 357.4,97.45 359.7,97.58 362,97.68 364.3,97.77 366.6,97.86 368.9,97.96" fill="none" stroke="#000" stroke-width="1.5"/>
<rect x="35.5" y="17.5" width="413.5" height="80.5" fill="none" stroke="#333" stroke-width="1"/>
<line x1="35.5" y1="81.9" x2="42.7" y2="81.9" stroke="#333" stroke-width="1"/>
<line x1="428" y1="81.9" x2="449" y2="81.9" stroke="#333" stroke-width="1"/>
<line x1="35.5" y1="65.8" x2="42.7" y2="65.8" stroke="#333" stroke-width="1"/>
<line x1="428" y1="65.8" x2="449" y2="65.8" stroke="#333" stroke-width="1"/>
<line x1="35.5" y1="49.7" x2="42.7" y2="49.7" stroke="#333" stroke-width="1"/>
<line x1="428" y1="49.7" x2="449" y2="49.7" stroke="#333" stroke-width="1"/>
<line x1="35.5" y1="33.6" x2="42.7" y2="33.6" stroke="#333" stroke-width="1"/>
<line x1="428" y1="33.6" x2="449" y2="33.6" stroke="#333" stroke-width="1"/>
<line x1="58.4" y1="17.5" x2="58.4" y2="19.5" stroke="#333" stroke-width="1"/>
<line x1="58.4" y1="98" x2="58.4" y2="94.5" stroke="#333" stroke-width="1"/>
<line x1="81.4" y1="17.5" x2="81.4" y2="19.5" stroke="#333" stroke-width="1"/>
<line x1="81.4" y1="98" x2="81.4" y2="94.5" stroke="#333" stroke-width="1"/>
<line x1="104.4" y1="17.5" x2="104.4" y2="19.5" stroke="#333" stroke-width="1"/>
<line x1="104.4" y1="98" x2="104.4" y2="94.5" stroke="#333" stroke-width="1"/>
<line x1="127.4" y1="17.5" x2="127.4" y2="21" stroke="#333" stroke-width="1"/>
<line x1="127.4" y1="98" x2="127.4" y2="91" stroke="#333" stroke-width="1"/>
<line x1="150.4" y1="17.5" x2="150.4" y2="19.5" stroke="#333" stroke-width="1"/>
<line x1="150.4" y1="98" x2="150.4" y2="94.5" stroke="#333" stroke-width="1"/>
<line x1="173.4" y1="17.5" x2="173.4" y2="19.5" stroke="#333" stroke-width="1"/>
<line x1="173.4" y1="98" x2="173.4" y2="94.5" stroke="#333" stroke-width="1"/>
<line x1="196.4" y1="17.5" x2="196.4" y2="19.5" stroke="#333" stroke-width="1"/>
<line x1="196.4" y1="98" x2="196.4" y2="94.5" stroke="#333" stroke-width="1"/>
<line x1="219.4" y1="17.5" x2="219.4" y2="19.5" stroke="#333" stroke-width="1"/>
<line x1="219.4" y1="98" x2="219.4" y2="94.5" stroke="#333" stroke-width="1"/>
<line x1="242.4" y1="17.5" x2="242.4" y2="21" stroke="#333" stroke-width="1"/>
<line x1="242.4" y1="98" x2="242.4" y2="91" stroke="#333" stroke-width="1"/>
<line x1="265.4" y1="17.5" x2="265.4" y2="19.5" stroke="#333" stroke-width="1"/>
<line x1="265.4" y1="98" x2="265.4" y2="94.5" stroke="#333" stroke-width="1"/>
<line x1="288.4" y1="17.5" x2="288.4" y2="19.5" stroke="#333" stroke-width="1"/>
<line x1="288.4" y1="98" x2="288.4" y2="94.5" stroke="#333" stroke-width="1"/>
<line x1="311.4" y1="17.5" x2="311.4" y2="19.5" stroke="#333" stroke-width="1"/>
<line x1="311.4" y1="98" x2="311.4" y2="94.5" stroke="#333" stroke-width="1"/>
<line x1="334.4" y1="17.5" x2="334.4" y2="19.5" stroke="#333" stroke-width="1"/>
<line x1="334.4" y1="98" x2="334.4" y2="94.5" stroke="#333" stroke-width="1"/>
<line x1="357.4" y1="17.5" x2="357.4" y2="21" stroke="#333" stroke-width="1"/>
<line x1="357.4" y1="98" x2="357.4" y2="91" stroke="#333" stroke-width="1"/>
<line x1="380.4" y1="17.5" x2="380.4" y2="19.5" stroke="#333" stroke-width="1"/>
<line x1="380.4" y1="98" x2="380.4" y2="94.5" stroke="#333" stroke-width="1"/>
<line x1="403.4" y1="17.5" x2="403.4" y2="19.5" stroke="#333" stroke-width="1"/>
<line x1="403.4" y1="98" x2="403.4" y2="94.5" stroke="#333" stroke-width="1"/>
<line x1="426.4" y1="17.5" x2="426.4" y2="19.5" stroke="#333" stroke-width="1"/>
<line x1="426.4" y1="98" x2="426.4" y2="94.5" stroke="#333" stroke-width="1"/>
<text x="30.3" y="101.6" font-size="10.4" text-anchor="end" fill="#222" textLength="11.2" lengthAdjust="spacingAndGlyphs">10</text>
<text x="30.3" y="85.5" font-size="10.4" text-anchor="end" fill="#222" textLength="11.2" lengthAdjust="spacingAndGlyphs">20</text>
<text x="30.3" y="69.4" font-size="10.4" text-anchor="end" fill="#222" textLength="11.2" lengthAdjust="spacingAndGlyphs">30</text>
<text x="30.3" y="53.3" font-size="10.4" text-anchor="end" fill="#222" textLength="11.2" lengthAdjust="spacingAndGlyphs">40</text>
<text x="30.3" y="37.2" font-size="10.4" text-anchor="end" fill="#222" textLength="11.2" lengthAdjust="spacingAndGlyphs">50</text>
<text x="30.3" y="21.1" font-size="10.4" text-anchor="end" fill="#222" textLength="11.2" lengthAdjust="spacingAndGlyphs">60</text>
<text x="13.1" y="58" font-size="10.2" text-anchor="middle" fill="#222" textLength="37" lengthAdjust="spacingAndGlyphs" transform="rotate(-90 12.8 58)">Alt (km)</text>
<text x="125.9" y="108.2" font-size="10.4" text-anchor="middle" fill="#222" textLength="15.5" lengthAdjust="spacingAndGlyphs">-50</text>
<text x="242.4" y="108.2" font-size="10.4" text-anchor="middle" fill="#222" textLength="5.6" lengthAdjust="spacingAndGlyphs">0</text>
<text x="357.4" y="108.2" font-size="10.4" text-anchor="middle" fill="#222" textLength="11.2" lengthAdjust="spacingAndGlyphs">50</text>
<text x="241.9" y="118.1" font-size="10.2" text-anchor="middle" fill="#222" textLength="85.4" lengthAdjust="spacingAndGlyphs">Latitude (degrees)</text>
<text x="241.5" y="13.9" font-size="10.2" text-anchor="middle" fill="#222" textLength="216.2" lengthAdjust="spacingAndGlyphs">Mean Bias OMPS LP - ACE-FTS, (%), 2012-2024</text>
<text x="47.6" y="32.5" font-size="12.6" text-anchor="start" fill="#222" textLength="16" lengthAdjust="spacingAndGlyphs">(a)</text>
<rect x="489.5" y="9.5" width="5.5" height="4.18" fill="#b82431"/>
<rect x="489.5" y="13.48" width="5.5" height="4.18" fill="#c43c3c"/>
<rect x="489.5" y="17.46" width="5.5" height="4.18" fill="#d05447"/>
<rect x="489.5" y="21.44" width="5.5" height="4.18" fill="#db6c56"/>
<rect x="489.5" y="25.42" width="5.5" height="4.18" fill="#e58268"/>
<rect x="489.5" y="29.4" width="5.5" height="4.18" fill="#ef9979"/>
<rect x="489.5" y="33.38" width="5.5" height="4.18" fill="#f6ae8d"/>
<rect x="489.5" y="37.35" width="5.5" height="4.18" fill="#f8c0a4"/>
<rect x="489.5" y="41.33" width="5.5" height="4.18" fill="#fcd2bb"/>
<rect x="489.5" y="45.31" width="5.5" height="4.18" fill="#fce0cf"/>
<rect x="489.5" y="49.29" width="5.5" height="4.18" fill="#fae9df"/>
<rect x="489.5" y="53.27" width="5.5" height="4.18" fill="#f8f2ef"/>
<rect x="489.5" y="57.25" width="5.5" height="4.18" fill="#f1f4f6"/>
<rect x="489.5" y="61.23" width="5.5" height="4.18" fill="#e4eef4"/>
<rect x="489.5" y="65.21" width="5.5" height="4.18" fill="#d7e8f1"/>
<rect x="489.5" y="69.19" width="5.5" height="4.18" fill="#c6e0ed"/>
<rect x="489.5" y="73.17" width="5.5" height="4.18" fill="#b2d5e7"/>
<rect x="489.5" y="77.15" width="5.5" height="4.18" fill="#9ccae1"/>
<rect x="489.5" y="81.12" width="5.5" height="4.18" fill="#85bdda"/>
<rect x="489.5" y="85.1" width="5.5" height="4.18" fill="#6aacd0"/>
<rect x="489.5" y="89.08" width="5.5" height="4.18" fill="#509bc7"/>
<rect x="489.5" y="93.06" width="5.5" height="4.18" fill="#3d8cbf"/>
<rect x="489.5" y="97.04" width="5.5" height="4.18" fill="#327db8"/>
<rect x="489.5" y="101.02" width="5.5" height="4.18" fill="#276eb0"/>
<polygon points="489.5,9.6 495,9.6 492.25,5.7" fill="#9b1127"/>
<polygon points="489.5,104.9 495,104.9 492.25,108.6" fill="#195696"/>
<line x1="489.3" y1="9.5" x2="489.3" y2="105" stroke="#666" stroke-width="0.8"/>
<text x="485.6" y="16.7" font-size="8.5" text-anchor="end" fill="#222" textLength="9.8" lengthAdjust="spacingAndGlyphs">30</text>
<text x="485.6" y="23.97" font-size="8.5" text-anchor="end" fill="#222" textLength="9.8" lengthAdjust="spacingAndGlyphs">25</text>
<text x="485.6" y="31.24" font-size="8.5" text-anchor="end" fill="#222" textLength="9.8" lengthAdjust="spacingAndGlyphs">20</text>
<text x="485.6" y="38.51" font-size="8.5" text-anchor="end" fill="#222" textLength="9.8" lengthAdjust="spacingAndGlyphs">15</text>
<text x="485.6" y="45.78" font-size="8.5" text-anchor="end" fill="#222" textLength="9.8" lengthAdjust="spacingAndGlyphs">10</text>
<text x="485.6" y="53.05" font-size="8.5" text-anchor="end" fill="#222" textLength="4.9" lengthAdjust="spacingAndGlyphs">5</text>
<text x="485.6" y="60.33" font-size="8.5" text-anchor="end" fill="#222" textLength="4.9" lengthAdjust="spacingAndGlyphs">0</text>
<text x="485.6" y="67.6" font-size="8.5" text-anchor="end" fill="#222" textLength="9.6" lengthAdjust="spacingAndGlyphs">-5</text>
<text x="485.6" y="74.87" font-size="8.5" text-anchor="end" fill="#222" textLength="14.5" lengthAdjust="spacingAndGlyphs">-10</text>
<text x="485.6" y="82.14" font-size="8.5" text-anchor="end" fill="#222" textLength="14.5" lengthAdjust="spacingAndGlyphs">-15</text>
<text x="485.6" y="89.41" font-size="8.5" text-anchor="end" fill="#222" textLength="14.5" lengthAdjust="spacingAndGlyphs">-20</text>
<text x="485.6" y="96.68" font-size="8.5" text-anchor="end" fill="#222" textLength="14.5" lengthAdjust="spacingAndGlyphs">-25</text>
<text x="485.6" y="103.95" font-size="8.5" text-anchor="end" fill="#222" textLength="14.5" lengthAdjust="spacingAndGlyphs">-30</text>
<text x="467.6" y="57.25" font-size="9.6" text-anchor="middle" fill="#222" textLength="59" lengthAdjust="spacingAndGlyphs" transform="rotate(-90 467.6 57.25)">Difference (%)</text>
<g shape-rendering="crispEdges">
<rect x="87.15" y="161.44" width="321.77" height="1" fill="#2268ad"/>
<rect x="87.15" y="162.44" width="321.77" height="1" fill="#3f8dc0"/>
<rect x="87.15" y="163.44" width="288.08" height="1" fill="#5aa2cb"/>
<rect x="375.23" y="163.44" width="33.69" height="1" fill="#7bb6d6"/>
<rect x="87.15" y="164.44" width="321.77" height="1" fill="#9ac9e0"/>
<rect x="87.15" y="165.44" width="307.62" height="1" fill="#9ac9e0"/>
<rect x="394.77" y="165.44" width="14.15" height="1" fill="#b4d6e8"/>
<rect x="87.15" y="166.44" width="45.43" height="1" fill="#9ac9e0"/>
<rect x="132.58" y="166.44" width="157.55" height="1" fill="#b4d6e8"/>
<rect x="290.12" y="166.44" width="83.95" height="1" fill="#9ac9e0"/>
<rect x="374.07" y="166.44" width="34.85" height="1" fill="#b4d6e8"/>
<rect x="87.15" y="167.44" width="313.38" height="1" fill="#b4d6e8"/>
<rect x="400.52" y="167.44" width="8.4" height="1" fill="#cee4ef"/>
<rect x="87.15" y="168.44" width="303.02" height="1" fill="#b4d6e8"/>
<rect x="390.17" y="168.44" width="18.75" height="1" fill="#cee4ef"/>
<rect x="87.15" y="169.44" width="306.48" height="1" fill="#b4d6e8"/>
<rect x="393.62" y="169.44" width="15.3" height="1" fill="#cee4ef"/>
<rect x="87.15" y="170.44" width="54.63" height="1" fill="#b4d6e8"/>
<rect x="141.78" y="170.44" width="104.65" height="1" fill="#cee4ef"/>
<rect x="246.43" y="170.44" width="154.1" height="1" fill="#b4d6e8"/>
<rect x="400.52" y="170.44" width="8.4" height="1" fill="#cee4ef"/>
<rect x="87.15" y="171.44" width="168.47" height="1" fill="#cee4ef"/>
<rect x="255.62" y="171.44" width="153.3" height="1" fill="#b4d6e8"/>
<rect x="87.15" y="172.44" width="173.08" height="1" fill="#cee4ef"/>
<rect x="260.23" y="172.44" width="148.69" height="1" fill="#b4d6e8"/>
<rect x="87.15" y="173.44" width="173.08" height="1" fill="#cee4ef"/>
<rect x="260.23" y="173.44" width="148.69" height="1" fill="#b4d6e8"/>
<rect x="87.15" y="174.44" width="173.08" height="1" fill="#cee4ef"/>
<rect x="260.23" y="174.44" width="148.69" height="1" fill="#b4d6e8"/>
<rect x="87.15" y="175.44" width="173.08" height="1" fill="#cee4ef"/>
<rect x="260.23" y="175.44" width="148.69" height="1" fill="#b4d6e8"/>
<rect x="87.15" y="176.44" width="176.53" height="1" fill="#cee4ef"/>
<rect x="263.68" y="176.44" width="145.25" height="1" fill="#b4d6e8"/>
<rect x="87.15" y="177.44" width="221.37" height="1" fill="#cee4ef"/>
<rect x="308.52" y="177.44" width="96.6" height="1" fill="#b4d6e8"/>
<rect x="405.12" y="177.44" width="3.8" height="1" fill="#cee4ef"/>
<rect x="87.15" y="178.44" width="232.87" height="1" fill="#cee4ef"/>
<rect x="320.02" y="178.44" width="65.55" height="1" fill="#b4d6e8"/>
<rect x="385.57" y="178.44" width="23.35" height="1" fill="#cee4ef"/>
<rect x="87.15" y="179.44" width="321.77" height="1" fill="#cee4ef"/>
<rect x="87.15" y="180.44" width="119.03" height="1" fill="#cee4ef"/>
<rect x="206.18" y="180.44" width="72.45" height="1" fill="#dfecf3"/>
<rect x="278.62" y="180.44" width="130.3" height="1" fill="#cee4ef"/>
<rect x="87.15" y="181.44" width="106.38" height="1" fill="#cee4ef"/>
<rect x="193.53" y="181.44" width="95.45" height="1" fill="#dfecf3"/>
<rect x="288.98" y="181.44" width="119.94" height="1" fill="#cee4ef"/>
<rect x="87.15" y="182.44" width="221.37" height="1" fill="#dfecf3"/>
<rect x="308.52" y="182.44" width="97.75" height="1" fill="#cee4ef"/>
<rect x="406.27" y="182.44" width="2.65" height="1" fill="#dfecf3"/>
<rect x="87.15" y="183.44" width="232.87" height="1" fill="#dfecf3"/>
<rect x="320.02" y="183.44" width="66.7" height="1" fill="#cee4ef"/>
<rect x="386.73" y="183.44" width="22.19" height="1" fill="#dfecf3"/>
<rect x="87.15" y="184.44" width="321.77" height="1" fill="#dfecf3"/>
<rect x="87.15" y="185.44" width="321.77" height="1" fill="#dfecf3"/>
<rect x="87.15" y="186.44" width="321.77" height="1" fill="#dfecf3"/>
<rect x="87.15" y="187.44" width="321.77" height="1" fill="#dfecf3"/>
<rect x="87.15" y="188.44" width="321.77" height="1" fill="#dfecf3"/>
<rect x="87.15" y="189.44" width="56.93" height="1" fill="#dfecf3"/>
<rect x="144.08" y="189.44" width="166.75" height="1" fill="#eff3f6"/>
<rect x="310.82" y="189.44" width="98.1" height="1" fill="#dfecf3"/>
<rect x="87.15" y="190.44" width="41.97" height="1" fill="#dfecf3"/>
<rect x="129.12" y="190.44" width="279.8" height="1" fill="#eff3f6"/>
<rect x="87.15" y="191.44" width="321.77" height="1" fill="#eff3f6"/>
<rect x="87.15" y="192.44" width="321.77" height="1" fill="#eff3f6"/>
<rect x="87.15" y="193.44" width="321.77" height="1" fill="#eff3f6"/>
<rect x="87.15" y="194.44" width="119.03" height="1" fill="#eff3f6"/>
<rect x="206.18" y="194.44" width="81.65" height="1" fill="#f8f1ed"/>
<rect x="287.82" y="194.44" width="121.1" height="1" fill="#eff3f6"/>
<rect x="87.15" y="195.44" width="97.18" height="1" fill="#eff3f6"/>
<rect x="184.33" y="195.44" width="109.25" height="1" fill="#f8f1ed"/>
<rect x="293.57" y="195.44" width="115.35" height="1" fill="#eff3f6"/>
<rect x="87.15" y="196.44" width="85.68" height="1" fill="#eff3f6"/>
<rect x="172.83" y="196.44" width="124.2" height="1" fill="#f8f1ed"/>
<rect x="297.02" y="196.44" width="111.9" height="1" fill="#eff3f6"/>
<rect x="87.15" y="197.44" width="76.47" height="1" fill="#eff3f6"/>
<rect x="163.62" y="197.44" width="131.1" height="1" fill="#f8f1ed"/>
<rect x="294.73" y="197.44" width="114.19" height="1" fill="#eff3f6"/>
<rect x="87.15" y="198.44" width="71.88" height="1" fill="#eff3f6"/>
<rect x="159.03" y="198.44" width="134.55" height="1" fill="#f8f1ed"/>
<rect x="293.57" y="198.44" width="35.65" height="1" fill="#eff3f6"/>
<rect x="329.23" y="198.44" width="79.69" height="1" fill="#dfecf3"/>
<rect x="87.15" y="199.44" width="69.58" height="1" fill="#eff3f6"/>
<rect x="156.73" y="199.44" width="50.6" height="1" fill="#f8f1ed"/>
<rect x="207.33" y="199.44" width="1.15" height="1" fill="#fbe6d9"/>
<rect x="208.48" y="199.44" width="83.95" height="1" fill="#f8f1ed"/>
<rect x="292.43" y="199.44" width="31.05" height="1" fill="#eff3f6"/>
<rect x="323.48" y="199.44" width="85.44" height="1" fill="#dfecf3"/>
<rect x="87.15" y="200.44" width="68.43" height="1" fill="#eff3f6"/>
<rect x="155.58" y="200.44" width="35.65" height="1" fill="#f8f1ed"/>
<rect x="191.23" y="200.44" width="33.35" height="1" fill="#fbe6d9"/>
<rect x="224.58" y="200.44" width="66.7" height="1" fill="#f8f1ed"/>
<rect x="291.27" y="200.44" width="26.45" height="1" fill="#eff3f6"/>
<rect x="317.73" y="200.44" width="91.19" height="1" fill="#dfecf3"/>
<rect x="87.15" y="201.44" width="78.78" height="1" fill="#eff3f6"/>
<rect x="165.93" y="201.44" width="113.85" height="1" fill="#f8f1ed"/>
<rect x="279.77" y="201.44" width="24.15" height="1" fill="#eff3f6"/>
<rect x="303.93" y="201.44" width="105" height="1" fill="#dfecf3"/>
<rect x="87.15" y="202.44" width="205.28" height="1" fill="#eff3f6"/>
<rect x="292.43" y="202.44" width="32.2" height="1" fill="#dfecf3"/>
<rect x="324.62" y="202.44" width="84.3" height="1" fill="#cee4ef"/>
<rect x="87.15" y="203.44" width="87.97" height="1" fill="#eff3f6"/>
<rect x="175.12" y="203.44" width="139.15" height="1" fill="#dfecf3"/>
<rect x="314.27" y="203.44" width="94.65" height="1" fill="#cee4ef"/>
<rect x="87.15" y="204.44" width="14.38" height="1" fill="#eff3f6"/>
<rect x="101.53" y="204.44" width="205.85" height="1" fill="#dfecf3"/>
<rect x="307.38" y="204.44" width="18.4" height="1" fill="#cee4ef"/>
<rect x="325.77" y="204.44" width="83.15" height="1" fill="#b4d6e8"/>
<rect x="87.15" y="205.44" width="221.37" height="1" fill="#dfecf3"/>
<rect x="308.52" y="205.44" width="14.95" height="1" fill="#cee4ef"/>
<rect x="323.48" y="205.44" width="85.44" height="1" fill="#b4d6e8"/>
<rect x="87.15" y="206.44" width="222.53" height="1" fill="#dfecf3"/>
<rect x="309.68" y="206.44" width="12.65" height="1" fill="#cee4ef"/>
<rect x="322.32" y="206.44" width="86.6" height="1" fill="#b4d6e8"/>
<rect x="87.15" y="207.44" width="1.73" height="1" fill="#dfecf3"/>
<rect x="88.88" y="207.44" width="70.15" height="1" fill="#cee4ef"/>
<rect x="159.03" y="207.44" width="150.65" height="1" fill="#dfecf3"/>
<rect x="309.68" y="207.44" width="11.5" height="1" fill="#cee4ef"/>
<rect x="321.18" y="207.44" width="87.75" height="1" fill="#b4d6e8"/>
<rect x="87.15" y="208.44" width="76.47" height="1" fill="#cee4ef"/>
<rect x="163.62" y="208.44" width="147.2" height="1" fill="#dfecf3"/>
<rect x="310.82" y="208.44" width="9.2" height="1" fill="#cee4ef"/>
<rect x="320.02" y="208.44" width="88.9" height="1" fill="#b4d6e8"/>
<rect x="87.15" y="209.44" width="79.93" height="1" fill="#cee4ef"/>
<rect x="167.08" y="209.44" width="143.75" height="1" fill="#dfecf3"/>
<rect x="310.82" y="209.44" width="9.2" height="1" fill="#cee4ef"/>
<rect x="320.02" y="209.44" width="88.9" height="1" fill="#b4d6e8"/>
<rect x="87.15" y="210.44" width="85.68" height="1" fill="#cee4ef"/>
<rect x="172.83" y="210.44" width="139.15" height="1" fill="#dfecf3"/>
<rect x="311.98" y="210.44" width="9.2" height="1" fill="#cee4ef"/>
<rect x="321.18" y="210.44" width="87.75" height="1" fill="#b4d6e8"/>
<rect x="87.15" y="211.44" width="101.78" height="1" fill="#cee4ef"/>
<rect x="188.93" y="211.44" width="83.95" height="1" fill="#dfecf3"/>
<rect x="272.88" y="211.44" width="11.5" height="1" fill="#eff3f6"/>
<rect x="284.38" y="211.44" width="28.75" height="1" fill="#dfecf3"/>
<rect x="313.12" y="211.44" width="8.05" height="1" fill="#cee4ef"/>
<rect x="321.18" y="211.44" width="87.75" height="1" fill="#b4d6e8"/>
<rect x="87.15" y="212.44" width="119.03" height="1" fill="#cee4ef"/>
<rect x="206.18" y="212.44" width="65.55" height="1" fill="#dfecf3"/>
<rect x="271.73" y="212.44" width="19.55" height="1" fill="#eff3f6"/>
<rect x="291.27" y="212.44" width="21.85" height="1" fill="#dfecf3"/>
<rect x="313.12" y="212.44" width="8.05" height="1" fill="#cee4ef"/>
<rect x="321.18" y="212.44" width="87.75" height="1" fill="#b4d6e8"/>
<rect x="87.15" y="213.44" width="53.47" height="1" fill="#dfecf3"/>
<rect x="140.62" y="213.44" width="104.65" height="1" fill="#cee4ef"/>
<rect x="245.28" y="213.44" width="67.85" height="1" fill="#dfecf3"/>
<rect x="313.12" y="213.44" width="11.5" height="1" fill="#cee4ef"/>
<rect x="324.62" y="213.44" width="84.3" height="1" fill="#b4d6e8"/>
<rect x="87.15" y="214.44" width="37.38" height="1" fill="#eff3f6"/>
<rect x="124.53" y="214.44" width="33.35" height="1" fill="#dfecf3"/>
<rect x="157.88" y="214.44" width="92" height="1" fill="#cee4ef"/>
<rect x="249.88" y="214.44" width="64.4" height="1" fill="#dfecf3"/>
<rect x="314.27" y="214.44" width="94.65" height="1" fill="#cee4ef"/>
<rect x="87.15" y="215.44" width="29.33" height="1" fill="#f8f1ed"/>
<rect x="116.48" y="215.44" width="19.55" height="1" fill="#eff3f6"/>
<rect x="136.03" y="215.44" width="32.2" height="1" fill="#dfecf3"/>
<rect x="168.23" y="215.44" width="89.7" height="1" fill="#cee4ef"/>
<rect x="257.93" y="215.44" width="59.8" height="1" fill="#dfecf3"/>
<rect x="317.73" y="215.44" width="47.15" height="1" fill="#cee4ef"/>
<rect x="364.88" y="215.44" width="44.05" height="1" fill="#dfecf3"/>
<rect x="87.15" y="216.44" width="8.62" height="1" fill="#fbe6d9"/>
<rect x="95.78" y="216.44" width="31.05" height="1" fill="#f8f1ed"/>
<rect x="126.83" y="216.44" width="14.95" height="1" fill="#eff3f6"/>
<rect x="141.78" y="216.44" width="31.05" height="1" fill="#dfecf3"/>
<rect x="172.83" y="216.44" width="101.2" height="1" fill="#cee4ef"/>
<rect x="274.02" y="216.44" width="134.9" height="1" fill="#dfecf3"/>
<rect x="87.15" y="217.44" width="45.43" height="1" fill="#f8f1ed"/>
<rect x="132.58" y="217.44" width="39.1" height="1" fill="#eff3f6"/>
<rect x="171.68" y="217.44" width="29.9" height="1" fill="#dfecf3"/>
<rect x="201.58" y="217.44" width="65.55" height="1" fill="#cee4ef"/>
<rect x="267.12" y="217.44" width="41.4" height="1" fill="#dfecf3"/>
<rect x="308.52" y="217.44" width="100.4" height="1" fill="#eff3f6"/>
<rect x="87.15" y="218.44" width="86.83" height="1" fill="#f8f1ed"/>
<rect x="173.98" y="218.44" width="17.25" height="1" fill="#eff3f6"/>
<rect x="191.23" y="218.44" width="16.1" height="1" fill="#dfecf3"/>
<rect x="207.33" y="218.44" width="39.1" height="1" fill="#cee4ef"/>
<rect x="246.43" y="218.44" width="43.7" height="1" fill="#dfecf3"/>
<rect x="290.12" y="218.44" width="16.1" height="1" fill="#eff3f6"/>
<rect x="306.23" y="218.44" width="102.69" height="1" fill="#f8f1ed"/>
<rect x="87.15" y="219.44" width="14.38" height="1" fill="#eff3f6"/>
<rect x="101.53" y="219.44" width="59.8" height="1" fill="#f8f1ed"/>
<rect x="161.33" y="219.44" width="13.8" height="1" fill="#fbe6d9"/>
<rect x="175.12" y="219.44" width="11.5" height="1" fill="#f8f1ed"/>
<rect x="186.62" y="219.44" width="11.5" height="1" fill="#eff3f6"/>
<rect x="198.12" y="219.44" width="86.25" height="1" fill="#dfecf3"/>
<rect x="284.38" y="219.44" width="10.35" height="1" fill="#eff3f6"/>
<rect x="294.73" y="219.44" width="10.35" height="1" fill="#f8f1ed"/>
<rect x="305.07" y="219.44" width="103.85" height="1" fill="#fbe6d9"/>
<rect x="87.15" y="220.44" width="1.73" height="1" fill="#dfecf3"/>
<rect x="88.88" y="220.44" width="19.55" height="1" fill="#eff3f6"/>
<rect x="108.43" y="220.44" width="24.15" height="1" fill="#f8f1ed"/>
<rect x="132.58" y="220.44" width="32.2" height="1" fill="#fbe6d9"/>
<rect x="164.78" y="220.44" width="10.35" height="1" fill="#fdd9c4"/>
<rect x="175.12" y="220.44" width="9.2" height="1" fill="#fbe6d9"/>
<rect x="184.33" y="220.44" width="9.2" height="1" fill="#f8f1ed"/>
<rect x="193.53" y="220.44" width="9.2" height="1" fill="#eff3f6"/>
<rect x="202.73" y="220.44" width="79.35" height="1" fill="#dfecf3"/>
<rect x="282.07" y="220.44" width="6.9" height="1" fill="#eff3f6"/>
<rect x="288.98" y="220.44" width="8.05" height="1" fill="#f8f1ed"/>
<rect x="297.02" y="220.44" width="8.05" height="1" fill="#fbe6d9"/>
<rect x="305.07" y="220.44" width="24.15" height="1" fill="#fdd9c4"/>
<rect x="329.23" y="220.44" width="2.3" height="1" fill="#f9c2a7"/>
<rect x="331.52" y="220.44" width="65.55" height="1" fill="#fdd9c4"/>
<rect x="397.07" y="220.44" width="11.85" height="1" fill="#fbe6d9"/>
<rect x="87.15" y="221.44" width="12.08" height="1" fill="#dfecf3"/>
<rect x="99.23" y="221.44" width="26.45" height="1" fill="#eff3f6"/>
<rect x="125.68" y="221.44" width="25.3" height="1" fill="#f8f1ed"/>
<rect x="150.98" y="221.44" width="13.8" height="1" fill="#fbe6d9"/>
<rect x="164.78" y="221.44" width="18.4" height="1" fill="#fdd9c4"/>
<rect x="183.18" y="221.44" width="13.8" height="1" fill="#fbe6d9"/>
<rect x="196.98" y="221.44" width="82.8" height="1" fill="#f8f1ed"/>
<rect x="279.77" y="221.44" width="10.35" height="1" fill="#fbe6d9"/>
<rect x="290.12" y="221.44" width="9.2" height="1" fill="#fdd9c4"/>
<rect x="299.32" y="221.44" width="25.3" height="1" fill="#f9c2a7"/>
<rect x="324.62" y="221.44" width="6.9" height="1" fill="#f5ac8b"/>
<rect x="331.52" y="221.44" width="28.75" height="1" fill="#f9c2a7"/>
<rect x="360.27" y="221.44" width="48.65" height="1" fill="#fdd9c4"/>
<rect x="87.15" y="222.44" width="35.08" height="1" fill="#dfecf3"/>
<rect x="122.23" y="222.44" width="27.6" height="1" fill="#eff3f6"/>
<rect x="149.83" y="222.44" width="8.05" height="1" fill="#f8f1ed"/>
<rect x="157.88" y="222.44" width="8.05" height="1" fill="#fbe6d9"/>
<rect x="165.93" y="222.44" width="6.9" height="1" fill="#fdd9c4"/>
<rect x="172.83" y="222.44" width="1.15" height="1" fill="#f9c2a7"/>
<rect x="173.98" y="222.44" width="85.1" height="1" fill="#fdd9c4"/>
<rect x="259.07" y="222.44" width="27.6" height="1" fill="#f9c2a7"/>
<rect x="286.68" y="222.44" width="13.8" height="1" fill="#f5ac8b"/>
<rect x="300.48" y="222.44" width="29.9" height="1" fill="#eb9173"/>
<rect x="330.38" y="222.44" width="19.55" height="1" fill="#f5ac8b"/>
<rect x="349.93" y="222.44" width="20.7" height="1" fill="#f9c2a7"/>
<rect x="370.62" y="222.44" width="38.3" height="1" fill="#fdd9c4"/>
<rect x="87.15" y="223.44" width="16.68" height="1" fill="#cee4ef"/>
<rect x="103.83" y="223.44" width="46" height="1" fill="#dfecf3"/>
<rect x="149.83" y="223.44" width="5.75" height="1" fill="#eff3f6"/>
<rect x="155.58" y="223.44" width="6.9" height="1" fill="#f8f1ed"/>
<rect x="162.48" y="223.44" width="5.75" height="1" fill="#fbe6d9"/>
<rect x="168.23" y="223.44" width="9.2" height="1" fill="#fdd9c4"/>
<rect x="177.43" y="223.44" width="54.05" height="1" fill="#f9c2a7"/>
<rect x="231.47" y="223.44" width="46" height="1" fill="#f5ac8b"/>
<rect x="277.48" y="223.44" width="19.55" height="1" fill="#eb9173"/>
<rect x="297.02" y="223.44" width="25.3" height="1" fill="#df745c"/>
<rect x="322.32" y="223.44" width="18.4" height="1" fill="#eb9173"/>
<rect x="340.73" y="223.44" width="14.95" height="1" fill="#f5ac8b"/>
<rect x="355.68" y="223.44" width="24.15" height="1" fill="#f9c2a7"/>
<rect x="379.82" y="223.44" width="29.1" height="1" fill="#fdd9c4"/>
<rect x="87.15" y="224.44" width="63.83" height="1" fill="#cee4ef"/>
<rect x="150.98" y="224.44" width="4.6" height="1" fill="#dfecf3"/>
<rect x="155.58" y="224.44" width="5.75" height="1" fill="#eff3f6"/>
<rect x="161.33" y="224.44" width="5.75" height="1" fill="#f8f1ed"/>
<rect x="167.08" y="224.44" width="4.6" height="1" fill="#fbe6d9"/>
<rect x="171.68" y="224.44" width="18.4" height="1" fill="#fdd9c4"/>
<rect x="190.08" y="224.44" width="26.45" height="1" fill="#f9c2a7"/>
<rect x="216.53" y="224.44" width="48.3" height="1" fill="#f5ac8b"/>
<rect x="264.82" y="224.44" width="25.3" height="1" fill="#eb9173"/>
<rect x="290.12" y="224.44" width="40.25" height="1" fill="#df745c"/>
<rect x="330.38" y="224.44" width="12.65" height="1" fill="#eb9173"/>
<rect x="343.02" y="224.44" width="12.65" height="1" fill="#f5ac8b"/>
<rect x="355.68" y="224.44" width="12.65" height="1" fill="#f9c2a7"/>
<rect x="368.32" y="224.44" width="40.6" height="1" fill="#fdd9c4"/>
<rect x="87.15" y="225.44" width="14.38" height="1" fill="#cee4ef"/>
<rect x="101.53" y="225.44" width="43.7" height="1" fill="#b4d6e8"/>
<rect x="145.23" y="225.44" width="1.15" height="1" fill="#9ac9e0"/>
<rect x="146.38" y="225.44" width="4.6" height="1" fill="#b4d6e8"/>
<rect x="150.98" y="225.44" width="4.6" height="1" fill="#cee4ef"/>
<rect x="155.58" y="225.44" width="4.6" height="1" fill="#dfecf3"/>
<rect x="160.18" y="225.44" width="5.75" height="1" fill="#eff3f6"/>
<rect x="165.93" y="225.44" width="4.6" height="1" fill="#f8f1ed"/>
<rect x="170.53" y="225.44" width="9.2" height="1" fill="#fbe6d9"/>
<rect x="179.73" y="225.44" width="13.8" height="1" fill="#fdd9c4"/>
<rect x="193.53" y="225.44" width="14.95" height="1" fill="#f9c2a7"/>
<rect x="208.48" y="225.44" width="43.7" height="1" fill="#f5ac8b"/>
<rect x="252.18" y="225.44" width="32.2" height="1" fill="#eb9173"/>
<rect x="284.38" y="225.44" width="18.4" height="1" fill="#df745c"/>
<rect x="302.77" y="225.44" width="9.2" height="1" fill="#d25749"/>
<rect x="311.98" y="225.44" width="21.85" height="1" fill="#df745c"/>
<rect x="333.82" y="225.44" width="11.5" height="1" fill="#eb9173"/>
<rect x="345.32" y="225.44" width="10.35" height="1" fill="#f5ac8b"/>
<rect x="355.68" y="225.44" width="10.35" height="1" fill="#f9c2a7"/>
<rect x="366.02" y="225.44" width="41.4" height="1" fill="#fdd9c4"/>
<rect x="407.42" y="225.44" width="1.5" height="1" fill="#fbe6d9"/>
<rect x="87.15" y="226.44" width="36.23" height="1" fill="#b4d6e8"/>
<rect x="123.38" y="226.44" width="28.75" height="1" fill="#9ac9e0"/>
<rect x="152.12" y="226.44" width="5.75" height="1" fill="#b4d6e8"/>
<rect x="157.88" y="226.44" width="6.9" height="1" fill="#cee4ef"/>
<rect x="164.78" y="226.44" width="6.9" height="1" fill="#dfecf3"/>
<rect x="171.68" y="226.44" width="8.05" height="1" fill="#eff3f6"/>
<rect x="179.73" y="226.44" width="10.35" height="1" fill="#f8f1ed"/>
<rect x="190.08" y="226.44" width="10.35" height="1" fill="#fbe6d9"/>
<rect x="200.43" y="226.44" width="24.15" height="1" fill="#fdd9c4"/>
<rect x="224.58" y="226.44" width="54.05" height="1" fill="#f9c2a7"/>
<rect x="278.62" y="226.44" width="10.35" height="1" fill="#f5ac8b"/>
<rect x="288.98" y="226.44" width="10.35" height="1" fill="#eb9173"/>
<rect x="299.32" y="226.44" width="27.6" height="1" fill="#df745c"/>
<rect x="326.93" y="226.44" width="11.5" height="1" fill="#eb9173"/>
<rect x="338.43" y="226.44" width="9.2" height="1" fill="#f5ac8b"/>
<rect x="347.62" y="226.44" width="9.2" height="1" fill="#f9c2a7"/>
<rect x="356.82" y="226.44" width="9.2" height="1" fill="#fdd9c4"/>
<rect x="366.02" y="226.44" width="42.9" height="1" fill="#fbe6d9"/>
<rect x="87.15" y="227.44" width="22.43" height="1" fill="#b4d6e8"/>
<rect x="109.58" y="227.44" width="21.85" height="1" fill="#9ac9e0"/>
<rect x="131.43" y="227.44" width="21.85" height="1" fill="#7bb6d6"/>
<rect x="153.28" y="227.44" width="9.2" height="1" fill="#9ac9e0"/>
<rect x="162.48" y="227.44" width="10.35" height="1" fill="#b4d6e8"/>
<rect x="172.83" y="227.44" width="8.05" height="1" fill="#cee4ef"/>
<rect x="180.88" y="227.44" width="8.05" height="1" fill="#dfecf3"/>
<rect x="188.93" y="227.44" width="6.9" height="1" fill="#eff3f6"/>
<rect x="195.83" y="227.44" width="8.05" height="1" fill="#f8f1ed"/>
<rect x="203.88" y="227.44" width="62.1" height="1" fill="#fbe6d9"/>
<rect x="265.98" y="227.44" width="17.25" height="1" fill="#fdd9c4"/>
<rect x="283.23" y="227.44" width="8.05" height="1" fill="#f9c2a7"/>
<rect x="291.27" y="227.44" width="6.9" height="1" fill="#f5ac8b"/>
<rect x="298.18" y="227.44" width="6.9" height="1" fill="#eb9173"/>
<rect x="305.07" y="227.44" width="6.9" height="1" fill="#df745c"/>
<rect x="311.98" y="227.44" width="20.7" height="1" fill="#eb9173"/>
<rect x="332.68" y="227.44" width="8.05" height="1" fill="#f5ac8b"/>
<rect x="340.73" y="227.44" width="8.05" height="1" fill="#f9c2a7"/>
<rect x="348.77" y="227.44" width="8.05" height="1" fill="#fdd9c4"/>
<rect x="356.82" y="227.44" width="8.05" height="1" fill="#fbe6d9"/>
<rect x="364.88" y="227.44" width="44.05" height="1" fill="#f8f1ed"/>
<rect x="87.15" y="228.44" width="10.93" height="1" fill="#b4d6e8"/>
<rect x="98.08" y="228.44" width="23" height="1" fill="#9ac9e0"/>
<rect x="121.08" y="228.44" width="14.95" height="1" fill="#7bb6d6"/>
<rect x="136.03" y="228.44" width="21.85" height="1" fill="#5aa2cb"/>
<rect x="157.88" y="228.44" width="16.1" height="1" fill="#7bb6d6"/>
<rect x="173.98" y="228.44" width="6.9" height="1" fill="#9ac9e0"/>
<rect x="180.88" y="228.44" width="5.75" height="1" fill="#b4d6e8"/>
<rect x="186.62" y="228.44" width="6.9" height="1" fill="#cee4ef"/>
<rect x="193.53" y="228.44" width="6.9" height="1" fill="#dfecf3"/>
<rect x="200.43" y="228.44" width="5.75" height="1" fill="#eff3f6"/>
<rect x="206.18" y="228.44" width="74.75" height="1" fill="#f8f1ed"/>
<rect x="280.93" y="228.44" width="5.75" height="1" fill="#fbe6d9"/>
<rect x="286.68" y="228.44" width="4.6" height="1" fill="#fdd9c4"/>
<rect x="291.27" y="228.44" width="5.75" height="1" fill="#f9c2a7"/>
<rect x="297.02" y="228.44" width="5.75" height="1" fill="#f5ac8b"/>
<rect x="302.77" y="228.44" width="24.15" height="1" fill="#eb9173"/>
<rect x="326.93" y="228.44" width="9.2" height="1" fill="#f5ac8b"/>
<rect x="336.12" y="228.44" width="6.9" height="1" fill="#f9c2a7"/>
<rect x="343.02" y="228.44" width="8.05" height="1" fill="#fdd9c4"/>
<rect x="351.07" y="228.44" width="6.9" height="1" fill="#fbe6d9"/>
<rect x="357.98" y="228.44" width="6.9" height="1" fill="#f8f1ed"/>
<rect x="364.88" y="228.44" width="44.05" height="1" fill="#eff3f6"/>
<rect x="87.15" y="229.44" width="7.48" height="1" fill="#b4d6e8"/>
<rect x="94.63" y="229.44" width="21.85" height="1" fill="#9ac9e0"/>
<rect x="116.48" y="229.44" width="14.95" height="1" fill="#7bb6d6"/>
<rect x="131.43" y="229.44" width="33.35" height="1" fill="#5aa2cb"/>
<rect x="164.78" y="229.44" width="12.65" height="1" fill="#7bb6d6"/>
<rect x="177.43" y="229.44" width="5.75" height="1" fill="#9ac9e0"/>
<rect x="183.18" y="229.44" width="5.75" height="1" fill="#b4d6e8"/>
<rect x="188.93" y="229.44" width="6.9" height="1" fill="#cee4ef"/>
<rect x="195.83" y="229.44" width="5.75" height="1" fill="#dfecf3"/>
<rect x="201.58" y="229.44" width="5.75" height="1" fill="#eff3f6"/>
<rect x="207.33" y="229.44" width="75.9" height="1" fill="#f8f1ed"/>
<rect x="283.23" y="229.44" width="6.9" height="1" fill="#fbe6d9"/>
<rect x="290.12" y="229.44" width="6.9" height="1" fill="#fdd9c4"/>
<rect x="297.02" y="229.44" width="6.9" height="1" fill="#f9c2a7"/>
<rect x="303.93" y="229.44" width="27.6" height="1" fill="#f5ac8b"/>
<rect x="331.52" y="229.44" width="6.9" height="1" fill="#f9c2a7"/>
<rect x="338.43" y="229.44" width="8.05" height="1" fill="#fdd9c4"/>
<rect x="346.48" y="229.44" width="8.05" height="1" fill="#fbe6d9"/>
<rect x="354.52" y="229.44" width="6.9" height="1" fill="#f8f1ed"/>
<rect x="361.43" y="229.44" width="11.5" height="1" fill="#eff3f6"/>
<rect x="372.92" y="229.44" width="36" height="1" fill="#dfecf3"/>
<rect x="87.15" y="230.44" width="5.18" height="1" fill="#b4d6e8"/>
<rect x="92.33" y="230.44" width="20.7" height="1" fill="#9ac9e0"/>
<rect x="113.03" y="230.44" width="14.95" height="1" fill="#7bb6d6"/>
<rect x="127.98" y="230.44" width="14.95" height="1" fill="#5aa2cb"/>
<rect x="142.93" y="230.44" width="5.75" height="1" fill="#3f8dc0"/>
<rect x="148.68" y="230.44" width="17.25" height="1" fill="#5aa2cb"/>
<rect x="165.93" y="230.44" width="11.5" height="1" fill="#7bb6d6"/>
<rect x="177.43" y="230.44" width="5.75" height="1" fill="#9ac9e0"/>
<rect x="183.18" y="230.44" width="5.75" height="1" fill="#b4d6e8"/>
<rect x="188.93" y="230.44" width="6.9" height="1" fill="#cee4ef"/>
<rect x="195.83" y="230.44" width="5.75" height="1" fill="#dfecf3"/>
<rect x="201.58" y="230.44" width="5.75" height="1" fill="#eff3f6"/>
<rect x="207.33" y="230.44" width="79.35" height="1" fill="#f8f1ed"/>
<rect x="286.68" y="230.44" width="9.2" height="1" fill="#fbe6d9"/>
<rect x="295.88" y="230.44" width="10.35" height="1" fill="#fdd9c4"/>
<rect x="306.23" y="230.44" width="26.45" height="1" fill="#f9c2a7"/>
<rect x="332.68" y="230.44" width="9.2" height="1" fill="#fdd9c4"/>
<rect x="341.88" y="230.44" width="8.05" height="1" fill="#fbe6d9"/>
<rect x="349.93" y="230.44" width="9.2" height="1" fill="#f8f1ed"/>
<rect x="359.12" y="230.44" width="8.05" height="1" fill="#eff3f6"/>
<rect x="367.18" y="230.44" width="41.75" height="1" fill="#dfecf3"/>
<rect x="87.15" y="231.44" width="2.88" height="1" fill="#b4d6e8"/>
<rect x="90.03" y="231.44" width="18.4" height="1" fill="#9ac9e0"/>
<rect x="108.43" y="231.44" width="17.25" height="1" fill="#7bb6d6"/>
<rect x="125.68" y="231.44" width="14.95" height="1" fill="#5aa2cb"/>
<rect x="140.62" y="231.44" width="10.35" height="1" fill="#3f8dc0"/>
<rect x="150.98" y="231.44" width="16.1" height="1" fill="#5aa2cb"/>
<rect x="167.08" y="231.44" width="10.35" height="1" fill="#7bb6d6"/>
<rect x="177.43" y="231.44" width="5.75" height="1" fill="#9ac9e0"/>
<rect x="183.18" y="231.44" width="5.75" height="1" fill="#b4d6e8"/>
<rect x="188.93" y="231.44" width="6.9" height="1" fill="#cee4ef"/>
<rect x="195.83" y="231.44" width="5.75" height="1" fill="#dfecf3"/>
<rect x="201.58" y="231.44" width="5.75" height="1" fill="#eff3f6"/>
<rect x="207.33" y="231.44" width="87.4" height="1" fill="#f8f1ed"/>
<rect x="294.73" y="231.44" width="19.55" height="1" fill="#fbe6d9"/>
<rect x="314.27" y="231.44" width="21.85" height="1" fill="#fdd9c4"/>
<rect x="336.12" y="231.44" width="9.2" height="1" fill="#fbe6d9"/>
<rect x="345.32" y="231.44" width="10.35" height="1" fill="#f8f1ed"/>
<rect x="355.68" y="231.44" width="9.2" height="1" fill="#eff3f6"/>
<rect x="364.88" y="231.44" width="44.05" height="1" fill="#dfecf3"/>
<rect x="87.15" y="232.44" width="0.58" height="0.73" fill="#b4d6e8"/>
<rect x="87.73" y="232.44" width="18.4" height="0.73" fill="#9ac9e0"/>
<rect x="106.13" y="232.44" width="17.25" height="0.73" fill="#7bb6d6"/>
<rect x="123.38" y="232.44" width="14.95" height="0.73" fill="#5aa2cb"/>
<rect x="138.33" y="232.44" width="14.95" height="0.73" fill="#3f8dc0"/>
<rect x="153.28" y="232.44" width="14.95" height="0.73" fill="#5aa2cb"/>
<rect x="168.23" y="232.44" width="9.2" height="0.73" fill="#7bb6d6"/>
<rect x="177.43" y="232.44" width="5.75" height="0.73" fill="#9ac9e0"/>
<rect x="183.18" y="232.44" width="5.75" height="0.73" fill="#b4d6e8"/>
<rect x="188.93" y="232.44" width="6.9" height="0.73" fill="#cee4ef"/>
<rect x="195.83" y="232.44" width="5.75" height="0.73" fill="#dfecf3"/>
<rect x="201.58" y="232.44" width="5.75" height="0.73" fill="#eff3f6"/>
<rect x="207.33" y="232.44" width="108.1" height="0.73" fill="#f8f1ed"/>
<rect x="315.43" y="232.44" width="24.15" height="0.73" fill="#fbe6d9"/>
<rect x="339.57" y="232.44" width="11.5" height="0.73" fill="#f8f1ed"/>
<rect x="351.07" y="232.44" width="11.5" height="0.73" fill="#eff3f6"/>
<rect x="362.57" y="232.44" width="46.35" height="0.73" fill="#dfecf3"/>
</g>
<polygon points="87.15,233.17 89.45,233.17 91.75,233.17 94.05,233.17 96.35,233.17 98.65,233.17 100.95,233.17 103.25,233.17 105.55,233.17 107.85,233.17 110.15,233.17 112.45,233.17 114.75,233.17 117.05,233.17 119.35,233.17 121.65,233.17 123.95,233.17 126.25,233.17 128.55,233.17 130.85,233.17 133.15,233.17 135.45,233.17 137.75,233.17 140.05,233.17 142.35,233.17 144.65,233.17 146.95,233.17 149.25,233.17 151.55,233.02 153.85,232.75 156.15,232.47 158.45,232.2 160.75,231.93 163.05,231.55 165.35,231.09 167.65,230.62 169.95,230.16 172.25,229.69 174.55,229.14 176.85,228.58 179.15,228.01 181.45,227.63 183.75,227.32 186.05,227.01 188.35,226.8 190.65,226.65 192.95,226.51 195.25,226.37 197.55,226.31 199.85,226.31 202.15,226.3 204.45,226.29 206.75,226.28 209.05,226.27 211.35,226.27 213.65,226.26 215.95,226.25 218.25,226.24 220.55,226.23 222.85,226.23 225.15,226.22 227.45,226.21 229.75,226.2 232.05,226.19 234.35,226.19 236.65,226.18 238.95,226.17 241.25,226.16 243.55,226.16 245.85,226.17 248.15,226.17 250.45,226.18 252.75,226.18 255.05,226.18 257.35,226.19 259.65,226.19 261.95,226.2 264.25,226.2 266.55,226.21 268.85,226.21 271.15,226.22 273.45,226.22 275.75,226.23 278.05,226.23 280.35,226.26 282.65,226.39 284.95,226.52 287.25,226.65 289.55,226.78 291.85,227 294.15,227.24 296.45,227.48 298.75,227.72 301.05,228.11 303.35,228.66 305.65,229.22 307.95,229.77 310.25,230.32 312.55,230.78 314.85,231.25 317.15,231.71 319.45,232.17 321.75,232.57 324.05,232.94 326.35,233.17 328.65,233.17 330.95,233.17 333.25,233.17 335.55,233.17 337.85,233.17 340.15,233.17 342.45,233.17 344.75,233.17 347.05,233.17 349.35,233.17 351.65,233.17 353.95,233.17 356.25,233.17 358.55,233.17 360.85,233.17 363.15,233.17 365.45,233.17 367.75,233.17 370.05,233.17 372.35,233.17 374.65,233.17 376.95,233.17 379.25,233.17 381.55,233.17 383.85,233.17 386.15,233.17 388.45,233.17 390.75,233.17 393.05,233.17 395.35,233.17 397.65,233.17 399.95,233.17 402.25,233.17 404.55,233.17 406.85,233.17 408.92,234.17 87.15,234.17" fill="#fff"/>
<polyline points="120.5,237.2 122.8,236.99 125.1,236.68 127.4,236.36 129.7,236.04 132,235.72 134.3,235.41 136.6,235.09 138.9,234.77 141.2,234.45 143.5,234.13 145.8,233.81 148.1,233.49 150.4,233.17 152.7,232.89 155,232.61 157.3,232.34 159.6,232.06 161.9,231.78 164.2,231.32 166.5,230.85 168.8,230.39 171.1,229.93 173.4,229.43 175.7,228.86 178,228.29 180.3,227.78 182.6,227.47 184.9,227.16 187.2,226.87 189.5,226.73 191.8,226.58 194.1,226.44 196.4,226.32 198.7,226.31 201,226.3 203.3,226.29 205.6,226.29 207.9,226.28 210.2,226.27 212.5,226.26 214.8,226.25 217.1,226.25 219.4,226.24 221.7,226.23 224,226.22 226.3,226.21 228.6,226.21 230.9,226.2 233.2,226.19 235.5,226.18 237.8,226.17 240.1,226.17 242.4,226.16 244.7,226.16 247,226.17 249.3,226.17 251.6,226.18 253.9,226.18 256.2,226.19 258.5,226.19 260.8,226.2 263.1,226.2 265.4,226.21 267.7,226.21 270,226.22 272.3,226.22 274.6,226.23 276.9,226.23 279.2,226.24 281.5,226.33 283.8,226.46 286.1,226.58 288.4,226.71 290.7,226.88 293,227.12 295.3,227.36 297.6,227.6 299.9,227.84 302.2,228.38 304.5,228.94 306.8,229.5 309.1,230.05 311.4,230.55 313.7,231.01 316,231.48 318.3,231.94 320.6,232.38 322.9,232.75 325.2,233.12 327.5,233.49 329.8,233.86 332.1,234.18 334.4,234.5 336.7,234.81 339,235.13 341.3,235.39 343.6,235.61 345.9,235.84 348.2,236.06 350.5,236.26 352.8,236.39 355.1,236.52 357.4,236.65 359.7,236.78 362,236.88 364.3,236.97 366.6,237.06 368.9,237.16" fill="none" stroke="#000" stroke-width="1.5"/>
<rect x="35.5" y="156.6" width="413.5" height="80.6" fill="none" stroke="#333" stroke-width="1"/>
<line x1="35.5" y1="221.08" x2="42.7" y2="221.08" stroke="#333" stroke-width="1"/>
<line x1="428" y1="221.08" x2="449" y2="221.08" stroke="#333" stroke-width="1"/>
<line x1="35.5" y1="204.96" x2="42.7" y2="204.96" stroke="#333" stroke-width="1"/>
<line x1="428" y1="204.96" x2="449" y2="204.96" stroke="#333" stroke-width="1"/>
<line x1="35.5" y1="188.84" x2="42.7" y2="188.84" stroke="#333" stroke-width="1"/>
<line x1="428" y1="188.84" x2="449" y2="188.84" stroke="#333" stroke-width="1"/>
<line x1="35.5" y1="172.72" x2="42.7" y2="172.72" stroke="#333" stroke-width="1"/>
<line x1="428" y1="172.72" x2="449" y2="172.72" stroke="#333" stroke-width="1"/>
<line x1="58.4" y1="156.6" x2="58.4" y2="158.6" stroke="#333" stroke-width="1"/>
<line x1="58.4" y1="237.2" x2="58.4" y2="233.7" stroke="#333" stroke-width="1"/>
<line x1="81.4" y1="156.6" x2="81.4" y2="158.6" stroke="#333" stroke-width="1"/>
<line x1="81.4" y1="237.2" x2="81.4" y2="233.7" stroke="#333" stroke-width="1"/>
<line x1="104.4" y1="156.6" x2="104.4" y2="158.6" stroke="#333" stroke-width="1"/>
<line x1="104.4" y1="237.2" x2="104.4" y2="233.7" stroke="#333" stroke-width="1"/>
<line x1="127.4" y1="156.6" x2="127.4" y2="160.1" stroke="#333" stroke-width="1"/>
<line x1="127.4" y1="237.2" x2="127.4" y2="230.2" stroke="#333" stroke-width="1"/>
<line x1="150.4" y1="156.6" x2="150.4" y2="158.6" stroke="#333" stroke-width="1"/>
<line x1="150.4" y1="237.2" x2="150.4" y2="233.7" stroke="#333" stroke-width="1"/>
<line x1="173.4" y1="156.6" x2="173.4" y2="158.6" stroke="#333" stroke-width="1"/>
<line x1="173.4" y1="237.2" x2="173.4" y2="233.7" stroke="#333" stroke-width="1"/>
<line x1="196.4" y1="156.6" x2="196.4" y2="158.6" stroke="#333" stroke-width="1"/>
<line x1="196.4" y1="237.2" x2="196.4" y2="233.7" stroke="#333" stroke-width="1"/>
<line x1="219.4" y1="156.6" x2="219.4" y2="158.6" stroke="#333" stroke-width="1"/>
<line x1="219.4" y1="237.2" x2="219.4" y2="233.7" stroke="#333" stroke-width="1"/>
<line x1="242.4" y1="156.6" x2="242.4" y2="160.1" stroke="#333" stroke-width="1"/>
<line x1="242.4" y1="237.2" x2="242.4" y2="230.2" stroke="#333" stroke-width="1"/>
<line x1="265.4" y1="156.6" x2="265.4" y2="158.6" stroke="#333" stroke-width="1"/>
<line x1="265.4" y1="237.2" x2="265.4" y2="233.7" stroke="#333" stroke-width="1"/>
<line x1="288.4" y1="156.6" x2="288.4" y2="158.6" stroke="#333" stroke-width="1"/>
<line x1="288.4" y1="237.2" x2="288.4" y2="233.7" stroke="#333" stroke-width="1"/>
<line x1="311.4" y1="156.6" x2="311.4" y2="158.6" stroke="#333" stroke-width="1"/>
<line x1="311.4" y1="237.2" x2="311.4" y2="233.7" stroke="#333" stroke-width="1"/>
<line x1="334.4" y1="156.6" x2="334.4" y2="158.6" stroke="#333" stroke-width="1"/>
<line x1="334.4" y1="237.2" x2="334.4" y2="233.7" stroke="#333" stroke-width="1"/>
<line x1="357.4" y1="156.6" x2="357.4" y2="160.1" stroke="#333" stroke-width="1"/>
<line x1="357.4" y1="237.2" x2="357.4" y2="230.2" stroke="#333" stroke-width="1"/>
<line x1="380.4" y1="156.6" x2="380.4" y2="158.6" stroke="#333" stroke-width="1"/>
<line x1="380.4" y1="237.2" x2="380.4" y2="233.7" stroke="#333" stroke-width="1"/>
<line x1="403.4" y1="156.6" x2="403.4" y2="158.6" stroke="#333" stroke-width="1"/>
<line x1="403.4" y1="237.2" x2="403.4" y2="233.7" stroke="#333" stroke-width="1"/>
<line x1="426.4" y1="156.6" x2="426.4" y2="158.6" stroke="#333" stroke-width="1"/>
<line x1="426.4" y1="237.2" x2="426.4" y2="233.7" stroke="#333" stroke-width="1"/>
<text x="30.3" y="240.8" font-size="10.4" text-anchor="end" fill="#222" textLength="11.2" lengthAdjust="spacingAndGlyphs">10</text>
<text x="30.3" y="224.68" font-size="10.4" text-anchor="end" fill="#222" textLength="11.2" lengthAdjust="spacingAndGlyphs">20</text>
<text x="30.3" y="208.56" font-size="10.4" text-anchor="end" fill="#222" textLength="11.2" lengthAdjust="spacingAndGlyphs">30</text>
<text x="30.3" y="192.44" font-size="10.4" text-anchor="end" fill="#222" textLength="11.2" lengthAdjust="spacingAndGlyphs">40</text>
<text x="30.3" y="176.32" font-size="10.4" text-anchor="end" fill="#222" textLength="11.2" lengthAdjust="spacingAndGlyphs">50</text>
<text x="30.3" y="160.2" font-size="10.4" text-anchor="end" fill="#222" textLength="11.2" lengthAdjust="spacingAndGlyphs">60</text>
<text x="13.1" y="197.1" font-size="10.2" text-anchor="middle" fill="#222" textLength="37" lengthAdjust="spacingAndGlyphs" transform="rotate(-90 12.8 197.1)">Alt (km)</text>
<text x="125.9" y="247.4" font-size="10.4" text-anchor="middle" fill="#222" textLength="15.5" lengthAdjust="spacingAndGlyphs">-50</text>
<text x="242.4" y="247.4" font-size="10.4" text-anchor="middle" fill="#222" textLength="5.6" lengthAdjust="spacingAndGlyphs">0</text>
<text x="357.4" y="247.4" font-size="10.4" text-anchor="middle" fill="#222" textLength="11.2" lengthAdjust="spacingAndGlyphs">50</text>
<text x="241.9" y="257.3" font-size="10.2" text-anchor="middle" fill="#222" textLength="85.4" lengthAdjust="spacingAndGlyphs">Latitude (degrees)</text>
<text x="241.6" y="153.4" font-size="10.2" text-anchor="middle" fill="#222" textLength="232.4" lengthAdjust="spacingAndGlyphs">Mean Bias OMPS LP - SAGE III/ISS, (%), 2017-2024</text>
<text x="47.6" y="171.6" font-size="12.6" text-anchor="start" fill="#222" textLength="16" lengthAdjust="spacingAndGlyphs">(b)</text>
<rect x="489.5" y="146.7" width="5.5" height="4.24" fill="#b82431"/>
<rect x="489.5" y="150.74" width="5.5" height="4.24" fill="#c43c3c"/>
<rect x="489.5" y="154.77" width="5.5" height="4.24" fill="#d05447"/>
<rect x="489.5" y="158.81" width="5.5" height="4.24" fill="#db6c56"/>
<rect x="489.5" y="162.85" width="5.5" height="4.24" fill="#e58268"/>
<rect x="489.5" y="166.89" width="5.5" height="4.24" fill="#ef9979"/>
<rect x="489.5" y="170.92" width="5.5" height="4.24" fill="#f6ae8d"/>
<rect x="489.5" y="174.96" width="5.5" height="4.24" fill="#f8c0a4"/>
<rect x="489.5" y="179" width="5.5" height="4.24" fill="#fcd2bb"/>
<rect x="489.5" y="183.04" width="5.5" height="4.24" fill="#fce0cf"/>
<rect x="489.5" y="187.07" width="5.5" height="4.24" fill="#fae9df"/>
<rect x="489.5" y="191.11" width="5.5" height="4.24" fill="#f8f2ef"/>
<rect x="489.5" y="195.15" width="5.5" height="4.24" fill="#f1f4f6"/>
<rect x="489.5" y="199.19" width="5.5" height="4.24" fill="#e4eef4"/>
<rect x="489.5" y="203.22" width="5.5" height="4.24" fill="#d7e8f1"/>
<rect x="489.5" y="207.26" width="5.5" height="4.24" fill="#c6e0ed"/>
<rect x="489.5" y="211.3" width="5.5" height="4.24" fill="#b2d5e7"/>
<rect x="489.5" y="215.34" width="5.5" height="4.24" fill="#9ccae1"/>
<rect x="489.5" y="219.38" width="5.5" height="4.24" fill="#85bdda"/>
<rect x="489.5" y="223.41" width="5.5" height="4.24" fill="#6aacd0"/>
<rect x="489.5" y="227.45" width="5.5" height="4.24" fill="#509bc7"/>
<rect x="489.5" y="231.49" width="5.5" height="4.24" fill="#3d8cbf"/>
<rect x="489.5" y="235.52" width="5.5" height="4.24" fill="#327db8"/>
<rect x="489.5" y="239.56" width="5.5" height="4.24" fill="#276eb0"/>
<polygon points="489.5,146.8 495,146.8 492.25,142.9" fill="#9b1127"/>
<polygon points="489.5,243.5 495,243.5 492.25,247.2" fill="#195696"/>
<line x1="489.3" y1="146.7" x2="489.3" y2="243.6" stroke="#666" stroke-width="0.8"/>
<text x="485.6" y="153.45" font-size="8.5" text-anchor="end" fill="#222" textLength="9.8" lengthAdjust="spacingAndGlyphs">30</text>
<text x="485.6" y="160.92" font-size="8.5" text-anchor="end" fill="#222" textLength="9.8" lengthAdjust="spacingAndGlyphs">25</text>
<text x="485.6" y="168.4" font-size="8.5" text-anchor="end" fill="#222" textLength="9.8" lengthAdjust="spacingAndGlyphs">20</text>
<text x="485.6" y="175.88" font-size="8.5" text-anchor="end" fill="#222" textLength="9.8" lengthAdjust="spacingAndGlyphs">15</text>
<text x="485.6" y="183.35" font-size="8.5" text-anchor="end" fill="#222" textLength="9.8" lengthAdjust="spacingAndGlyphs">10</text>
<text x="485.6" y="190.82" font-size="8.5" text-anchor="end" fill="#222" textLength="4.9" lengthAdjust="spacingAndGlyphs">5</text>
<text x="485.6" y="198.3" font-size="8.5" text-anchor="end" fill="#222" textLength="4.9" lengthAdjust="spacingAndGlyphs">0</text>
<text x="485.6" y="205.77" font-size="8.5" text-anchor="end" fill="#222" textLength="9.6" lengthAdjust="spacingAndGlyphs">-5</text>
<text x="485.6" y="213.25" font-size="8.5" text-anchor="end" fill="#222" textLength="14.5" lengthAdjust="spacingAndGlyphs">-10</text>
<text x="485.6" y="220.72" font-size="8.5" text-anchor="end" fill="#222" textLength="14.5" lengthAdjust="spacingAndGlyphs">-15</text>
<text x="485.6" y="228.2" font-size="8.5" text-anchor="end" fill="#222" textLength="14.5" lengthAdjust="spacingAndGlyphs">-20</text>
<text x="485.6" y="235.67" font-size="8.5" text-anchor="end" fill="#222" textLength="14.5" lengthAdjust="spacingAndGlyphs">-25</text>
<text x="485.6" y="243.15" font-size="8.5" text-anchor="end" fill="#222" textLength="14.5" lengthAdjust="spacingAndGlyphs">-30</text>
<text x="467.6" y="195.15" font-size="9.6" text-anchor="middle" fill="#222" textLength="59" lengthAdjust="spacingAndGlyphs" transform="rotate(-90 467.6 195.15)">Difference (%)</text>
<g shape-rendering="crispEdges">
<rect x="52.65" y="300.51" width="0.57" height="1" fill="#dfecf3"/>
<rect x="53.23" y="300.51" width="43.7" height="1" fill="#cee4ef"/>
<rect x="96.93" y="300.51" width="325.45" height="1" fill="#dfecf3"/>
<rect x="422.38" y="300.51" width="9.09" height="1" fill="#eff3f6"/>
<rect x="52.65" y="301.51" width="0.57" height="1" fill="#dfecf3"/>
<rect x="53.23" y="301.51" width="52.9" height="1" fill="#cee4ef"/>
<rect x="106.13" y="301.51" width="323.15" height="1" fill="#dfecf3"/>
<rect x="429.27" y="301.51" width="2.19" height="1" fill="#eff3f6"/>
<rect x="52.65" y="302.51" width="0.57" height="1" fill="#dfecf3"/>
<rect x="53.23" y="302.51" width="60.95" height="1" fill="#cee4ef"/>
<rect x="114.18" y="302.51" width="317.29" height="1" fill="#dfecf3"/>
<rect x="52.65" y="303.51" width="0.57" height="1" fill="#dfecf3"/>
<rect x="53.23" y="303.51" width="70.15" height="1" fill="#cee4ef"/>
<rect x="123.38" y="303.51" width="308.09" height="1" fill="#dfecf3"/>
<rect x="52.65" y="304.51" width="83.38" height="1" fill="#cee4ef"/>
<rect x="136.03" y="304.51" width="89.7" height="1" fill="#dfecf3"/>
<rect x="225.73" y="304.51" width="182.85" height="1" fill="#cee4ef"/>
<rect x="408.57" y="304.51" width="22.89" height="1" fill="#dfecf3"/>
<rect x="52.65" y="305.51" width="100.62" height="1" fill="#cee4ef"/>
<rect x="153.28" y="305.51" width="57.5" height="1" fill="#dfecf3"/>
<rect x="210.78" y="305.51" width="211.6" height="1" fill="#cee4ef"/>
<rect x="422.38" y="305.51" width="9.09" height="1" fill="#dfecf3"/>
<rect x="52.65" y="306.51" width="378.81" height="1" fill="#cee4ef"/>
<rect x="52.65" y="307.51" width="30.47" height="1" fill="#cee4ef"/>
<rect x="83.13" y="307.51" width="18.4" height="1" fill="#b4d6e8"/>
<rect x="101.53" y="307.51" width="263.35" height="1" fill="#cee4ef"/>
<rect x="364.88" y="307.51" width="41.4" height="1" fill="#b4d6e8"/>
<rect x="406.27" y="307.51" width="25.19" height="1" fill="#cee4ef"/>
<rect x="52.65" y="308.51" width="15.52" height="1" fill="#cee4ef"/>
<rect x="68.18" y="308.51" width="46" height="1" fill="#b4d6e8"/>
<rect x="114.18" y="308.51" width="235.75" height="1" fill="#cee4ef"/>
<rect x="349.93" y="308.51" width="69" height="1" fill="#b4d6e8"/>
<rect x="418.92" y="308.51" width="12.54" height="1" fill="#cee4ef"/>
<rect x="52.65" y="309.51" width="5.17" height="1" fill="#cee4ef"/>
<rect x="57.83" y="309.51" width="64.4" height="1" fill="#b4d6e8"/>
<rect x="122.23" y="309.51" width="219.65" height="1" fill="#cee4ef"/>
<rect x="341.88" y="309.51" width="83.95" height="1" fill="#b4d6e8"/>
<rect x="425.82" y="309.51" width="5.64" height="1" fill="#cee4ef"/>
<rect x="52.65" y="310.51" width="84.52" height="1" fill="#b4d6e8"/>
<rect x="137.18" y="310.51" width="152.95" height="1" fill="#cee4ef"/>
<rect x="290.12" y="310.51" width="141.34" height="1" fill="#b4d6e8"/>
<rect x="52.65" y="311.51" width="152.37" height="1" fill="#b4d6e8"/>
<rect x="205.03" y="311.51" width="51.75" height="1" fill="#cee4ef"/>
<rect x="256.77" y="311.51" width="174.69" height="1" fill="#b4d6e8"/>
<rect x="52.65" y="312.51" width="156.97" height="1" fill="#b4d6e8"/>
<rect x="209.62" y="312.51" width="42.55" height="1" fill="#cee4ef"/>
<rect x="252.18" y="312.51" width="179.29" height="1" fill="#b4d6e8"/>
<rect x="52.65" y="313.51" width="14.37" height="1" fill="#cee4ef"/>
<rect x="67.03" y="313.51" width="48.3" height="1" fill="#b4d6e8"/>
<rect x="115.33" y="313.51" width="33.35" height="1" fill="#cee4ef"/>
<rect x="148.68" y="313.51" width="52.9" height="1" fill="#b4d6e8"/>
<rect x="201.58" y="313.51" width="58.65" height="1" fill="#cee4ef"/>
<rect x="260.23" y="313.51" width="171.24" height="1" fill="#b4d6e8"/>
<rect x="52.65" y="314.51" width="288.07" height="1" fill="#cee4ef"/>
<rect x="340.73" y="314.51" width="85.1" height="1" fill="#b4d6e8"/>
<rect x="425.82" y="314.51" width="5.64" height="1" fill="#cee4ef"/>
<rect x="52.65" y="315.51" width="296.12" height="1" fill="#cee4ef"/>
<rect x="348.77" y="315.51" width="71.3" height="1" fill="#b4d6e8"/>
<rect x="420.07" y="315.51" width="11.39" height="1" fill="#cee4ef"/>
<rect x="52.65" y="316.51" width="378.81" height="1" fill="#cee4ef"/>
<rect x="52.65" y="317.51" width="237.47" height="1" fill="#dfecf3"/>
<rect x="290.12" y="317.51" width="141.34" height="1" fill="#cee4ef"/>
<rect x="52.65" y="318.51" width="173.07" height="1" fill="#dfecf3"/>
<rect x="225.73" y="318.51" width="18.4" height="1" fill="#eff3f6"/>
<rect x="244.12" y="318.51" width="187.34" height="1" fill="#dfecf3"/>
<rect x="52.65" y="319.51" width="78.77" height="1" fill="#dfecf3"/>
<rect x="131.43" y="319.51" width="164.45" height="1" fill="#eff3f6"/>
<rect x="295.88" y="319.51" width="135.59" height="1" fill="#dfecf3"/>
<rect x="52.65" y="320.51" width="170.77" height="1" fill="#eff3f6"/>
<rect x="223.43" y="320.51" width="46" height="1" fill="#f8f1ed"/>
<rect x="269.43" y="320.51" width="88.55" height="1" fill="#eff3f6"/>
<rect x="357.98" y="320.51" width="73.49" height="1" fill="#dfecf3"/>
<rect x="52.65" y="321.51" width="153.52" height="1" fill="#eff3f6"/>
<rect x="206.18" y="321.51" width="73.6" height="1" fill="#f8f1ed"/>
<rect x="279.77" y="321.51" width="86.25" height="1" fill="#eff3f6"/>
<rect x="366.02" y="321.51" width="65.44" height="1" fill="#dfecf3"/>
<rect x="52.65" y="322.51" width="91.42" height="1" fill="#eff3f6"/>
<rect x="144.08" y="322.51" width="150.65" height="1" fill="#f8f1ed"/>
<rect x="294.73" y="322.51" width="136.74" height="1" fill="#eff3f6"/>
<rect x="52.65" y="323.51" width="52.32" height="1" fill="#eff3f6"/>
<rect x="104.98" y="323.51" width="236.9" height="1" fill="#f8f1ed"/>
<rect x="341.88" y="323.51" width="89.59" height="1" fill="#eff3f6"/>
<rect x="52.65" y="324.51" width="32.77" height="1" fill="#eff3f6"/>
<rect x="85.43" y="324.51" width="261.05" height="1" fill="#f8f1ed"/>
<rect x="346.48" y="324.51" width="84.99" height="1" fill="#eff3f6"/>
<rect x="52.65" y="325.51" width="18.97" height="1" fill="#eff3f6"/>
<rect x="71.63" y="325.51" width="277.15" height="1" fill="#f8f1ed"/>
<rect x="348.77" y="325.51" width="82.69" height="1" fill="#eff3f6"/>
<rect x="52.65" y="326.51" width="9.77" height="1" fill="#eff3f6"/>
<rect x="62.43" y="326.51" width="287.5" height="1" fill="#f8f1ed"/>
<rect x="349.93" y="326.51" width="81.54" height="1" fill="#eff3f6"/>
<rect x="52.65" y="327.51" width="2.88" height="1" fill="#eff3f6"/>
<rect x="55.53" y="327.51" width="65.55" height="1" fill="#f8f1ed"/>
<rect x="121.08" y="327.51" width="78.2" height="1" fill="#fbe6d9"/>
<rect x="199.28" y="327.51" width="151.8" height="1" fill="#f8f1ed"/>
<rect x="351.07" y="327.51" width="80.39" height="1" fill="#eff3f6"/>
<rect x="52.65" y="328.51" width="56.92" height="1" fill="#f8f1ed"/>
<rect x="109.58" y="328.51" width="93.15" height="1" fill="#fbe6d9"/>
<rect x="202.73" y="328.51" width="148.35" height="1" fill="#f8f1ed"/>
<rect x="351.07" y="328.51" width="80.39" height="1" fill="#eff3f6"/>
<rect x="52.65" y="329.51" width="56.92" height="1" fill="#f8f1ed"/>
<rect x="109.58" y="329.51" width="94.3" height="1" fill="#fbe6d9"/>
<rect x="203.88" y="329.51" width="146.05" height="1" fill="#f8f1ed"/>
<rect x="349.93" y="329.51" width="81.54" height="1" fill="#eff3f6"/>
<rect x="52.65" y="330.51" width="56.92" height="1" fill="#f8f1ed"/>
<rect x="109.58" y="330.51" width="96.6" height="1" fill="#fbe6d9"/>
<rect x="206.18" y="330.51" width="140.3" height="1" fill="#f8f1ed"/>
<rect x="346.48" y="330.51" width="81.65" height="1" fill="#eff3f6"/>
<rect x="428.12" y="330.51" width="3.34" height="1" fill="#f8f1ed"/>
<rect x="52.65" y="331.51" width="56.92" height="1" fill="#f8f1ed"/>
<rect x="109.58" y="331.51" width="100.05" height="1" fill="#fbe6d9"/>
<rect x="209.62" y="331.51" width="132.25" height="1" fill="#f8f1ed"/>
<rect x="341.88" y="331.51" width="79.35" height="1" fill="#eff3f6"/>
<rect x="421.23" y="331.51" width="10.24" height="1" fill="#f8f1ed"/>
<rect x="52.65" y="332.51" width="60.37" height="1" fill="#f8f1ed"/>
<rect x="113.03" y="332.51" width="101.2" height="1" fill="#fbe6d9"/>
<rect x="214.23" y="332.51" width="125.35" height="1" fill="#f8f1ed"/>
<rect x="339.57" y="332.51" width="77.05" height="1" fill="#eff3f6"/>
<rect x="416.62" y="332.51" width="14.84" height="1" fill="#f8f1ed"/>
<rect x="52.65" y="333.51" width="69.57" height="1" fill="#f8f1ed"/>
<rect x="122.23" y="333.51" width="92" height="1" fill="#fbe6d9"/>
<rect x="214.23" y="333.51" width="132.25" height="1" fill="#f8f1ed"/>
<rect x="346.48" y="333.51" width="69" height="1" fill="#eff3f6"/>
<rect x="415.48" y="333.51" width="15.99" height="1" fill="#f8f1ed"/>
<rect x="52.65" y="334.51" width="160.42" height="1" fill="#f8f1ed"/>
<rect x="213.08" y="334.51" width="54.05" height="1" fill="#fbe6d9"/>
<rect x="267.12" y="334.51" width="81.65" height="1" fill="#f8f1ed"/>
<rect x="348.77" y="334.51" width="66.7" height="1" fill="#eff3f6"/>
<rect x="415.48" y="334.51" width="15.99" height="1" fill="#f8f1ed"/>
<rect x="52.65" y="335.51" width="160.42" height="1" fill="#f8f1ed"/>
<rect x="213.08" y="335.51" width="62.1" height="1" fill="#fbe6d9"/>
<rect x="275.18" y="335.51" width="75.9" height="1" fill="#f8f1ed"/>
<rect x="351.07" y="335.51" width="63.25" height="1" fill="#eff3f6"/>
<rect x="414.32" y="335.51" width="16.1" height="1" fill="#f8f1ed"/>
<rect x="430.42" y="335.51" width="1.04" height="1" fill="#fbe6d9"/>
<rect x="52.65" y="336.51" width="2.88" height="1" fill="#eff3f6"/>
<rect x="55.53" y="336.51" width="172.5" height="1" fill="#f8f1ed"/>
<rect x="228.03" y="336.51" width="39.1" height="1" fill="#fbe6d9"/>
<rect x="267.12" y="336.51" width="80.5" height="1" fill="#f8f1ed"/>
<rect x="347.62" y="336.51" width="69" height="1" fill="#eff3f6"/>
<rect x="416.62" y="336.51" width="14.84" height="1" fill="#f8f1ed"/>
<rect x="52.65" y="337.51" width="8.62" height="1" fill="#eff3f6"/>
<rect x="61.28" y="337.51" width="269.1" height="1" fill="#f8f1ed"/>
<rect x="330.38" y="337.51" width="32.2" height="1" fill="#eff3f6"/>
<rect x="362.57" y="337.51" width="44.85" height="1" fill="#dfecf3"/>
<rect x="407.42" y="337.51" width="19.55" height="1" fill="#eff3f6"/>
<rect x="426.98" y="337.51" width="4.49" height="1" fill="#f8f1ed"/>
<rect x="52.65" y="338.51" width="10.92" height="1" fill="#eff3f6"/>
<rect x="63.58" y="338.51" width="203.55" height="1" fill="#f8f1ed"/>
<rect x="267.12" y="338.51" width="81.65" height="1" fill="#eff3f6"/>
<rect x="348.77" y="338.51" width="67.85" height="1" fill="#dfecf3"/>
<rect x="416.62" y="338.51" width="14.84" height="1" fill="#eff3f6"/>
<rect x="52.65" y="339.51" width="12.07" height="1" fill="#eff3f6"/>
<rect x="64.73" y="339.51" width="152.95" height="1" fill="#f8f1ed"/>
<rect x="217.68" y="339.51" width="95.45" height="1" fill="#eff3f6"/>
<rect x="313.12" y="339.51" width="118.34" height="1" fill="#dfecf3"/>
<rect x="52.65" y="340.51" width="17.82" height="1" fill="#eff3f6"/>
<rect x="70.48" y="340.51" width="140.3" height="1" fill="#f8f1ed"/>
<rect x="210.78" y="340.51" width="66.7" height="1" fill="#eff3f6"/>
<rect x="277.48" y="340.51" width="82.8" height="1" fill="#dfecf3"/>
<rect x="360.27" y="340.51" width="48.3" height="1" fill="#cee4ef"/>
<rect x="408.57" y="340.51" width="22.89" height="1" fill="#dfecf3"/>
<rect x="52.65" y="341.51" width="33.92" height="1" fill="#eff3f6"/>
<rect x="86.58" y="341.51" width="113.85" height="1" fill="#f8f1ed"/>
<rect x="200.43" y="341.51" width="28.75" height="1" fill="#eff3f6"/>
<rect x="229.18" y="341.51" width="113.85" height="1" fill="#dfecf3"/>
<rect x="343.02" y="341.51" width="79.35" height="1" fill="#cee4ef"/>
<rect x="422.38" y="341.51" width="9.09" height="1" fill="#dfecf3"/>
<rect x="52.65" y="342.51" width="168.47" height="1" fill="#eff3f6"/>
<rect x="221.12" y="342.51" width="109.25" height="1" fill="#dfecf3"/>
<rect x="330.38" y="342.51" width="101.09" height="1" fill="#cee4ef"/>
<rect x="52.65" y="343.51" width="13.22" height="1" fill="#dfecf3"/>
<rect x="65.88" y="343.51" width="138" height="1" fill="#eff3f6"/>
<rect x="203.88" y="343.51" width="118.45" height="1" fill="#dfecf3"/>
<rect x="322.32" y="343.51" width="46" height="1" fill="#cee4ef"/>
<rect x="368.32" y="343.51" width="1.15" height="1" fill="#b4d6e8"/>
<rect x="369.48" y="343.51" width="61.99" height="1" fill="#cee4ef"/>
<rect x="52.65" y="344.51" width="265.07" height="1" fill="#dfecf3"/>
<rect x="317.73" y="344.51" width="41.4" height="1" fill="#cee4ef"/>
<rect x="359.12" y="344.51" width="28.75" height="1" fill="#b4d6e8"/>
<rect x="387.88" y="344.51" width="43.59" height="1" fill="#cee4ef"/>
<rect x="52.65" y="345.51" width="152.37" height="1" fill="#dfecf3"/>
<rect x="205.03" y="345.51" width="69" height="1" fill="#eff3f6"/>
<rect x="274.02" y="345.51" width="43.7" height="1" fill="#dfecf3"/>
<rect x="317.73" y="345.51" width="39.1" height="1" fill="#cee4ef"/>
<rect x="356.82" y="345.51" width="33.35" height="1" fill="#b4d6e8"/>
<rect x="390.17" y="345.51" width="41.29" height="1" fill="#cee4ef"/>
<rect x="52.65" y="346.51" width="138.57" height="1" fill="#dfecf3"/>
<rect x="191.23" y="346.51" width="94.3" height="1" fill="#eff3f6"/>
<rect x="285.52" y="346.51" width="32.2" height="1" fill="#dfecf3"/>
<rect x="317.73" y="346.51" width="36.8" height="1" fill="#cee4ef"/>
<rect x="354.52" y="346.51" width="37.95" height="1" fill="#b4d6e8"/>
<rect x="392.48" y="346.51" width="38.99" height="1" fill="#cee4ef"/>
<rect x="52.65" y="347.51" width="130.52" height="1" fill="#dfecf3"/>
<rect x="183.18" y="347.51" width="36.8" height="1" fill="#eff3f6"/>
<rect x="219.98" y="347.51" width="51.75" height="1" fill="#f8f1ed"/>
<rect x="271.73" y="347.51" width="17.25" height="1" fill="#eff3f6"/>
<rect x="288.98" y="347.51" width="28.75" height="1" fill="#dfecf3"/>
<rect x="317.73" y="347.51" width="34.5" height="1" fill="#cee4ef"/>
<rect x="352.23" y="347.51" width="41.4" height="1" fill="#b4d6e8"/>
<rect x="393.62" y="347.51" width="37.84" height="1" fill="#cee4ef"/>
<rect x="52.65" y="348.51" width="2.88" height="1" fill="#eff3f6"/>
<rect x="55.53" y="348.51" width="69" height="1" fill="#dfecf3"/>
<rect x="124.53" y="348.51" width="11.5" height="1" fill="#eff3f6"/>
<rect x="136.03" y="348.51" width="34.5" height="1" fill="#dfecf3"/>
<rect x="170.53" y="348.51" width="46" height="1" fill="#eff3f6"/>
<rect x="216.53" y="348.51" width="58.65" height="1" fill="#f8f1ed"/>
<rect x="275.18" y="348.51" width="14.95" height="1" fill="#eff3f6"/>
<rect x="290.12" y="348.51" width="26.45" height="1" fill="#dfecf3"/>
<rect x="316.57" y="348.51" width="35.65" height="1" fill="#cee4ef"/>
<rect x="352.23" y="348.51" width="40.25" height="1" fill="#b4d6e8"/>
<rect x="392.48" y="348.51" width="38.99" height="1" fill="#cee4ef"/>
<rect x="52.65" y="349.51" width="177.67" height="1" fill="#eff3f6"/>
<rect x="230.33" y="349.51" width="35.65" height="1" fill="#f8f1ed"/>
<rect x="265.98" y="349.51" width="19.55" height="1" fill="#eff3f6"/>
<rect x="285.52" y="349.51" width="28.75" height="1" fill="#dfecf3"/>
<rect x="314.27" y="349.51" width="42.55" height="1" fill="#cee4ef"/>
<rect x="356.82" y="349.51" width="29.9" height="1" fill="#b4d6e8"/>
<rect x="386.73" y="349.51" width="44.74" height="1" fill="#cee4ef"/>
<rect x="52.65" y="350.51" width="96.02" height="1" fill="#f8f1ed"/>
<rect x="148.68" y="350.51" width="127.65" height="1" fill="#eff3f6"/>
<rect x="276.32" y="350.51" width="33.35" height="1" fill="#dfecf3"/>
<rect x="309.68" y="350.51" width="52.9" height="1" fill="#cee4ef"/>
<rect x="362.57" y="350.51" width="14.95" height="1" fill="#b4d6e8"/>
<rect x="377.52" y="350.51" width="53.94" height="1" fill="#cee4ef"/>
<rect x="52.65" y="351.51" width="78.77" height="1" fill="#fbe6d9"/>
<rect x="131.43" y="351.51" width="34.5" height="1" fill="#f8f1ed"/>
<rect x="165.93" y="351.51" width="48.3" height="1" fill="#eff3f6"/>
<rect x="214.23" y="351.51" width="90.85" height="1" fill="#dfecf3"/>
<rect x="305.07" y="351.51" width="126.39" height="1" fill="#cee4ef"/>
<rect x="52.65" y="352.51" width="37.37" height="1" fill="#fbe6d9"/>
<rect x="90.03" y="352.51" width="5.75" height="1" fill="#fdd9c4"/>
<rect x="95.78" y="352.51" width="50.6" height="1" fill="#fbe6d9"/>
<rect x="146.38" y="352.51" width="28.75" height="1" fill="#f8f1ed"/>
<rect x="175.12" y="352.51" width="31.05" height="1" fill="#eff3f6"/>
<rect x="206.18" y="352.51" width="102.35" height="1" fill="#dfecf3"/>
<rect x="308.52" y="352.51" width="116.15" height="1" fill="#cee4ef"/>
<rect x="424.67" y="352.51" width="6.79" height="1" fill="#dfecf3"/>
<rect x="52.65" y="353.51" width="30.47" height="1" fill="#fbe6d9"/>
<rect x="83.13" y="353.51" width="26.45" height="1" fill="#fdd9c4"/>
<rect x="109.58" y="353.51" width="42.55" height="1" fill="#fbe6d9"/>
<rect x="152.12" y="353.51" width="26.45" height="1" fill="#f8f1ed"/>
<rect x="178.58" y="353.51" width="29.9" height="1" fill="#eff3f6"/>
<rect x="208.48" y="353.51" width="141.45" height="1" fill="#dfecf3"/>
<rect x="349.93" y="353.51" width="37.95" height="1" fill="#cee4ef"/>
<rect x="387.88" y="353.51" width="43.59" height="1" fill="#dfecf3"/>
<rect x="52.65" y="354.51" width="25.87" height="1" fill="#fbe6d9"/>
<rect x="78.53" y="354.51" width="50.6" height="1" fill="#fdd9c4"/>
<rect x="129.12" y="354.51" width="28.75" height="1" fill="#fbe6d9"/>
<rect x="157.88" y="354.51" width="25.3" height="1" fill="#f8f1ed"/>
<rect x="183.18" y="354.51" width="27.6" height="1" fill="#eff3f6"/>
<rect x="210.78" y="354.51" width="220.69" height="1" fill="#dfecf3"/>
<rect x="52.65" y="355.51" width="22.42" height="1" fill="#fbe6d9"/>
<rect x="75.08" y="355.51" width="59.8" height="1" fill="#fdd9c4"/>
<rect x="134.88" y="355.51" width="28.75" height="1" fill="#fbe6d9"/>
<rect x="163.62" y="355.51" width="21.85" height="1" fill="#f8f1ed"/>
<rect x="185.48" y="355.51" width="27.6" height="1" fill="#eff3f6"/>
<rect x="213.08" y="355.51" width="218.39" height="1" fill="#dfecf3"/>
<rect x="52.65" y="356.51" width="27.02" height="1" fill="#fbe6d9"/>
<rect x="79.68" y="356.51" width="57.5" height="1" fill="#fdd9c4"/>
<rect x="137.18" y="356.51" width="31.05" height="1" fill="#fbe6d9"/>
<rect x="168.23" y="356.51" width="21.85" height="1" fill="#f8f1ed"/>
<rect x="190.08" y="356.51" width="27.6" height="1" fill="#eff3f6"/>
<rect x="217.68" y="356.51" width="66.7" height="1" fill="#dfecf3"/>
<rect x="284.38" y="356.51" width="147.09" height="1" fill="#eff3f6"/>
<rect x="52.65" y="357.51" width="1.72" height="1" fill="#f8f1ed"/>
<rect x="54.38" y="357.51" width="119.6" height="1" fill="#fbe6d9"/>
<rect x="173.98" y="357.51" width="21.85" height="1" fill="#f8f1ed"/>
<rect x="195.83" y="357.51" width="235.64" height="1" fill="#eff3f6"/>
<rect x="52.65" y="358.51" width="27.02" height="1" fill="#f8f1ed"/>
<rect x="79.68" y="358.51" width="101.2" height="1" fill="#fbe6d9"/>
<rect x="180.88" y="358.51" width="49.45" height="1" fill="#f8f1ed"/>
<rect x="230.33" y="358.51" width="35.65" height="1" fill="#eff3f6"/>
<rect x="265.98" y="358.51" width="165.49" height="1" fill="#f8f1ed"/>
<rect x="52.65" y="359.51" width="1.72" height="1" fill="#eff3f6"/>
<rect x="54.38" y="359.51" width="63.25" height="1" fill="#f8f1ed"/>
<rect x="117.63" y="359.51" width="37.95" height="1" fill="#fbe6d9"/>
<rect x="155.58" y="359.51" width="10.35" height="1" fill="#fdd9c4"/>
<rect x="165.93" y="359.51" width="21.85" height="1" fill="#fbe6d9"/>
<rect x="187.78" y="359.51" width="128.8" height="1" fill="#f8f1ed"/>
<rect x="316.57" y="359.51" width="114.89" height="1" fill="#fbe6d9"/>
<rect x="52.65" y="360.51" width="32.77" height="1" fill="#eff3f6"/>
<rect x="85.43" y="360.51" width="54.05" height="1" fill="#f8f1ed"/>
<rect x="139.48" y="360.51" width="291.99" height="1" fill="#fbe6d9"/>
<rect x="52.65" y="361.51" width="25.87" height="1" fill="#dfecf3"/>
<rect x="78.53" y="361.51" width="70.15" height="1" fill="#eff3f6"/>
<rect x="148.68" y="361.51" width="27.6" height="1" fill="#f8f1ed"/>
<rect x="176.28" y="361.51" width="18.4" height="1" fill="#fbe6d9"/>
<rect x="194.68" y="361.51" width="83.95" height="1" fill="#fdd9c4"/>
<rect x="278.62" y="361.51" width="37.95" height="1" fill="#f9c2a7"/>
<rect x="316.57" y="361.51" width="114.89" height="1" fill="#fdd9c4"/>
<rect x="52.65" y="362.51" width="112.12" height="1" fill="#dfecf3"/>
<rect x="164.78" y="362.51" width="8.05" height="1" fill="#eff3f6"/>
<rect x="172.83" y="362.51" width="8.05" height="1" fill="#f8f1ed"/>
<rect x="180.88" y="362.51" width="6.9" height="1" fill="#fbe6d9"/>
<rect x="187.78" y="362.51" width="8.05" height="1" fill="#fdd9c4"/>
<rect x="195.83" y="362.51" width="73.6" height="1" fill="#f9c2a7"/>
<rect x="269.43" y="362.51" width="21.85" height="1" fill="#f5ac8b"/>
<rect x="291.27" y="362.51" width="13.8" height="1" fill="#eb9173"/>
<rect x="305.07" y="362.51" width="16.1" height="1" fill="#f5ac8b"/>
<rect x="321.18" y="362.51" width="18.4" height="1" fill="#f9c2a7"/>
<rect x="339.57" y="362.51" width="91.89" height="1" fill="#fdd9c4"/>
<rect x="52.65" y="363.51" width="59.22" height="1" fill="#cee4ef"/>
<rect x="111.88" y="363.51" width="24.15" height="1" fill="#dfecf3"/>
<rect x="136.03" y="363.51" width="27.6" height="1" fill="#cee4ef"/>
<rect x="163.62" y="363.51" width="5.75" height="1" fill="#dfecf3"/>
<rect x="169.38" y="363.51" width="5.75" height="1" fill="#eff3f6"/>
<rect x="175.12" y="363.51" width="6.9" height="1" fill="#f8f1ed"/>
<rect x="182.03" y="363.51" width="5.75" height="1" fill="#fbe6d9"/>
<rect x="187.78" y="363.51" width="5.75" height="1" fill="#fdd9c4"/>
<rect x="193.53" y="363.51" width="47.15" height="1" fill="#f9c2a7"/>
<rect x="240.68" y="363.51" width="33.35" height="1" fill="#f5ac8b"/>
<rect x="274.02" y="363.51" width="21.85" height="1" fill="#eb9173"/>
<rect x="295.88" y="363.51" width="5.75" height="1" fill="#df745c"/>
<rect x="301.62" y="363.51" width="12.65" height="1" fill="#eb9173"/>
<rect x="314.27" y="363.51" width="12.65" height="1" fill="#f5ac8b"/>
<rect x="326.93" y="363.51" width="19.55" height="1" fill="#f9c2a7"/>
<rect x="346.48" y="363.51" width="84.99" height="1" fill="#fdd9c4"/>
<rect x="52.65" y="364.51" width="104.07" height="1" fill="#cee4ef"/>
<rect x="156.73" y="364.51" width="5.75" height="1" fill="#b4d6e8"/>
<rect x="162.48" y="364.51" width="4.6" height="1" fill="#cee4ef"/>
<rect x="167.08" y="364.51" width="5.75" height="1" fill="#dfecf3"/>
<rect x="172.83" y="364.51" width="4.6" height="1" fill="#eff3f6"/>
<rect x="177.43" y="364.51" width="4.6" height="1" fill="#f8f1ed"/>
<rect x="182.03" y="364.51" width="5.75" height="1" fill="#fbe6d9"/>
<rect x="187.78" y="364.51" width="4.6" height="1" fill="#fdd9c4"/>
<rect x="192.38" y="364.51" width="13.8" height="1" fill="#f9c2a7"/>
<rect x="206.18" y="364.51" width="49.45" height="1" fill="#f5ac8b"/>
<rect x="255.62" y="364.51" width="26.45" height="1" fill="#eb9173"/>
<rect x="282.07" y="364.51" width="26.45" height="1" fill="#df745c"/>
<rect x="308.52" y="364.51" width="10.35" height="1" fill="#eb9173"/>
<rect x="318.88" y="364.51" width="10.35" height="1" fill="#f5ac8b"/>
<rect x="329.23" y="364.51" width="20.7" height="1" fill="#f9c2a7"/>
<rect x="349.93" y="364.51" width="81.54" height="1" fill="#fdd9c4"/>
<rect x="52.65" y="365.51" width="86.82" height="1" fill="#cee4ef"/>
<rect x="139.48" y="365.51" width="26.45" height="1" fill="#b4d6e8"/>
<rect x="165.93" y="365.51" width="4.6" height="1" fill="#cee4ef"/>
<rect x="170.53" y="365.51" width="4.6" height="1" fill="#dfecf3"/>
<rect x="175.12" y="365.51" width="4.6" height="1" fill="#eff3f6"/>
<rect x="179.73" y="365.51" width="4.6" height="1" fill="#f8f1ed"/>
<rect x="184.33" y="365.51" width="5.75" height="1" fill="#fbe6d9"/>
<rect x="190.08" y="365.51" width="4.6" height="1" fill="#fdd9c4"/>
<rect x="194.68" y="365.51" width="29.9" height="1" fill="#f9c2a7"/>
<rect x="224.58" y="365.51" width="46" height="1" fill="#f5ac8b"/>
<rect x="270.57" y="365.51" width="25.3" height="1" fill="#eb9173"/>
<rect x="295.88" y="365.51" width="5.75" height="1" fill="#df745c"/>
<rect x="301.62" y="365.51" width="12.65" height="1" fill="#eb9173"/>
<rect x="314.27" y="365.51" width="12.65" height="1" fill="#f5ac8b"/>
<rect x="326.93" y="365.51" width="18.4" height="1" fill="#f9c2a7"/>
<rect x="345.32" y="365.51" width="86.14" height="1" fill="#fdd9c4"/>
<rect x="52.65" y="366.51" width="76.47" height="1" fill="#cee4ef"/>
<rect x="129.12" y="366.51" width="28.75" height="1" fill="#b4d6e8"/>
<rect x="157.88" y="366.51" width="4.6" height="1" fill="#9ac9e0"/>
<rect x="162.48" y="366.51" width="5.75" height="1" fill="#b4d6e8"/>
<rect x="168.23" y="366.51" width="5.75" height="1" fill="#cee4ef"/>
<rect x="173.98" y="366.51" width="4.6" height="1" fill="#dfecf3"/>
<rect x="178.58" y="366.51" width="5.75" height="1" fill="#eff3f6"/>
<rect x="184.33" y="366.51" width="5.75" height="1" fill="#f8f1ed"/>
<rect x="190.08" y="366.51" width="5.75" height="1" fill="#fbe6d9"/>
<rect x="195.83" y="366.51" width="64.4" height="1" fill="#fdd9c4"/>
<rect x="260.23" y="366.51" width="74.75" height="1" fill="#f9c2a7"/>
<rect x="334.98" y="366.51" width="18.4" height="1" fill="#fdd9c4"/>
<rect x="353.38" y="366.51" width="78.09" height="1" fill="#fbe6d9"/>
<rect x="52.65" y="367.51" width="62.67" height="1" fill="#cee4ef"/>
<rect x="115.33" y="367.51" width="32.2" height="1" fill="#b4d6e8"/>
<rect x="147.53" y="367.51" width="17.25" height="1" fill="#9ac9e0"/>
<rect x="164.78" y="367.51" width="6.9" height="1" fill="#b4d6e8"/>
<rect x="171.68" y="367.51" width="5.75" height="1" fill="#cee4ef"/>
<rect x="177.43" y="367.51" width="6.9" height="1" fill="#dfecf3"/>
<rect x="184.33" y="367.51" width="5.75" height="1" fill="#eff3f6"/>
<rect x="190.08" y="367.51" width="17.25" height="1" fill="#f8f1ed"/>
<rect x="207.33" y="367.51" width="103.5" height="1" fill="#fbe6d9"/>
<rect x="310.82" y="367.51" width="33.35" height="1" fill="#fdd9c4"/>
<rect x="344.18" y="367.51" width="13.8" height="1" fill="#fbe6d9"/>
<rect x="357.98" y="367.51" width="73.49" height="1" fill="#f8f1ed"/>
<rect x="52.65" y="368.51" width="16.67" height="1" fill="#dfecf3"/>
<rect x="69.33" y="368.51" width="42.55" height="1" fill="#cee4ef"/>
<rect x="111.88" y="368.51" width="27.6" height="1" fill="#b4d6e8"/>
<rect x="139.48" y="368.51" width="28.75" height="1" fill="#9ac9e0"/>
<rect x="168.23" y="368.51" width="6.9" height="1" fill="#b4d6e8"/>
<rect x="175.12" y="368.51" width="6.9" height="1" fill="#cee4ef"/>
<rect x="182.03" y="368.51" width="6.9" height="1" fill="#dfecf3"/>
<rect x="188.93" y="368.51" width="6.9" height="1" fill="#eff3f6"/>
<rect x="195.83" y="368.51" width="119.6" height="1" fill="#f8f1ed"/>
<rect x="315.43" y="368.51" width="14.95" height="1" fill="#fbe6d9"/>
<rect x="330.38" y="368.51" width="6.9" height="1" fill="#fdd9c4"/>
<rect x="337.27" y="368.51" width="13.8" height="1" fill="#fbe6d9"/>
<rect x="351.07" y="368.51" width="12.65" height="1" fill="#f8f1ed"/>
<rect x="363.73" y="368.51" width="67.74" height="1" fill="#eff3f6"/>
<rect x="52.65" y="369.51" width="46.57" height="1" fill="#dfecf3"/>
<rect x="99.23" y="369.51" width="19.55" height="1" fill="#cee4ef"/>
<rect x="118.78" y="369.51" width="20.7" height="1" fill="#b4d6e8"/>
<rect x="139.48" y="369.51" width="21.85" height="1" fill="#9ac9e0"/>
<rect x="161.33" y="369.51" width="1.15" height="1" fill="#7bb6d6"/>
<rect x="162.48" y="369.51" width="6.9" height="1" fill="#9ac9e0"/>
<rect x="169.38" y="369.51" width="6.9" height="1" fill="#b4d6e8"/>
<rect x="176.28" y="369.51" width="6.9" height="1" fill="#cee4ef"/>
<rect x="183.18" y="369.51" width="6.9" height="1" fill="#dfecf3"/>
<rect x="190.08" y="369.51" width="5.75" height="1" fill="#eff3f6"/>
<rect x="195.83" y="369.51" width="125.35" height="1" fill="#f8f1ed"/>
<rect x="321.18" y="369.51" width="24.15" height="1" fill="#fbe6d9"/>
<rect x="345.32" y="369.51" width="17.25" height="1" fill="#f8f1ed"/>
<rect x="362.57" y="369.51" width="68.89" height="1" fill="#eff3f6"/>
<rect x="52.65" y="370.51" width="36.22" height="1" fill="#eff3f6"/>
<rect x="88.88" y="370.51" width="18.4" height="1" fill="#dfecf3"/>
<rect x="107.28" y="370.51" width="14.95" height="1" fill="#cee4ef"/>
<rect x="122.23" y="370.51" width="17.25" height="1" fill="#b4d6e8"/>
<rect x="139.48" y="370.51" width="18.4" height="1" fill="#9ac9e0"/>
<rect x="157.88" y="370.51" width="5.75" height="1" fill="#7bb6d6"/>
<rect x="163.62" y="370.51" width="6.9" height="1" fill="#9ac9e0"/>
<rect x="170.53" y="370.51" width="5.75" height="1" fill="#b4d6e8"/>
<rect x="176.28" y="370.51" width="6.9" height="1" fill="#cee4ef"/>
<rect x="183.18" y="370.51" width="6.9" height="1" fill="#dfecf3"/>
<rect x="190.08" y="370.51" width="5.75" height="1" fill="#eff3f6"/>
<rect x="195.83" y="370.51" width="136.85" height="1" fill="#f8f1ed"/>
<rect x="332.68" y="370.51" width="3.45" height="1" fill="#fbe6d9"/>
<rect x="336.12" y="370.51" width="23" height="1" fill="#f8f1ed"/>
<rect x="359.12" y="370.51" width="72.34" height="1" fill="#eff3f6"/>
<rect x="52.65" y="371.51" width="14.37" height="1" fill="#f8f1ed"/>
<rect x="67.03" y="371.51" width="32.2" height="1" fill="#eff3f6"/>
<rect x="99.23" y="371.51" width="12.65" height="1" fill="#dfecf3"/>
<rect x="111.88" y="371.51" width="12.65" height="1" fill="#cee4ef"/>
<rect x="124.53" y="371.51" width="14.95" height="1" fill="#b4d6e8"/>
<rect x="139.48" y="371.51" width="14.95" height="1" fill="#9ac9e0"/>
<rect x="154.43" y="371.51" width="10.35" height="1" fill="#7bb6d6"/>
<rect x="164.78" y="371.51" width="5.75" height="1" fill="#9ac9e0"/>
<rect x="170.53" y="371.51" width="6.9" height="1" fill="#b4d6e8"/>
<rect x="177.43" y="371.51" width="5.75" height="1" fill="#cee4ef"/>
<rect x="183.18" y="371.51" width="6.9" height="1" fill="#dfecf3"/>
<rect x="190.08" y="371.51" width="5.75" height="1" fill="#eff3f6"/>
<rect x="195.83" y="371.51" width="157.55" height="1" fill="#f8f1ed"/>
<rect x="353.38" y="371.51" width="78.09" height="1" fill="#eff3f6"/>
<rect x="52.65" y="372.51" width="36.22" height="0.27" fill="#f8f1ed"/>
<rect x="88.88" y="372.51" width="13.8" height="0.27" fill="#eff3f6"/>
<rect x="102.68" y="372.51" width="11.5" height="0.27" fill="#dfecf3"/>
<rect x="114.18" y="372.51" width="10.35" height="0.27" fill="#cee4ef"/>
<rect x="124.53" y="372.51" width="14.95" height="0.27" fill="#b4d6e8"/>
<rect x="139.48" y="372.51" width="13.8" height="0.27" fill="#9ac9e0"/>
<rect x="153.28" y="372.51" width="12.65" height="0.27" fill="#7bb6d6"/>
<rect x="165.93" y="372.51" width="5.75" height="0.27" fill="#9ac9e0"/>
<rect x="171.68" y="372.51" width="5.75" height="0.27" fill="#b4d6e8"/>
<rect x="177.43" y="372.51" width="6.9" height="0.27" fill="#cee4ef"/>
<rect x="184.33" y="372.51" width="5.75" height="0.27" fill="#dfecf3"/>
<rect x="190.08" y="372.51" width="5.75" height="0.27" fill="#eff3f6"/>
<rect x="195.83" y="372.51" width="144.9" height="0.27" fill="#f8f1ed"/>
<rect x="340.73" y="372.51" width="90.74" height="0.27" fill="#eff3f6"/>
</g>
<polygon points="52.65,372.79 54.95,372.79 57.25,372.79 59.55,372.79 61.85,372.79 64.15,372.79 66.45,372.79 68.75,372.79 71.05,372.79 73.35,372.79 75.65,372.79 77.95,372.79 80.25,372.79 82.55,372.79 84.85,372.79 87.15,372.79 89.45,372.79 91.75,372.79 94.05,372.79 96.35,372.79 98.65,372.79 100.95,372.79 103.25,372.79 105.55,372.79 107.85,372.79 110.15,372.79 112.45,372.79 114.75,372.79 117.05,372.79 119.35,372.79 121.65,372.79 123.95,372.79 126.25,372.79 128.55,372.79 130.85,372.79 133.15,372.79 135.45,372.79 137.75,372.79 140.05,372.79 142.35,372.79 144.65,372.79 146.95,372.79 149.25,372.79 151.55,372.64 153.85,372.37 156.15,372.09 158.45,371.82 160.75,371.55 163.05,371.17 165.35,370.71 167.65,370.25 169.95,369.78 172.25,369.32 174.55,368.77 176.85,368.21 179.15,367.64 181.45,367.26 183.75,366.96 186.05,366.65 188.35,366.44 190.65,366.29 192.95,366.15 195.25,366.01 197.55,365.95 199.85,365.95 202.15,365.94 204.45,365.93 206.75,365.92 209.05,365.91 211.35,365.91 213.65,365.9 215.95,365.89 218.25,365.88 220.55,365.87 222.85,365.87 225.15,365.86 227.45,365.85 229.75,365.84 232.05,365.83 234.35,365.83 236.65,365.82 238.95,365.81 241.25,365.8 243.55,365.8 245.85,365.81 248.15,365.81 250.45,365.82 252.75,365.82 255.05,365.83 257.35,365.83 259.65,365.84 261.95,365.84 264.25,365.85 266.55,365.85 268.85,365.86 271.15,365.86 273.45,365.87 275.75,365.87 278.05,365.88 280.35,365.9 282.65,366.03 284.95,366.16 287.25,366.29 289.55,366.42 291.85,366.63 294.15,366.87 296.45,367.11 298.75,367.36 301.05,367.74 303.35,368.29 305.65,368.85 307.95,369.4 310.25,369.94 312.55,370.41 314.85,370.87 317.15,371.33 319.45,371.79 321.75,372.18 324.05,372.55 326.35,372.79 328.65,372.79 330.95,372.79 333.25,372.79 335.55,372.79 337.85,372.79 340.15,372.79 342.45,372.79 344.75,372.79 347.05,372.79 349.35,372.79 351.65,372.79 353.95,372.79 356.25,372.79 358.55,372.79 360.85,372.79 363.15,372.79 365.45,372.79 367.75,372.79 370.05,372.79 372.35,372.79 374.65,372.79 376.95,372.79 379.25,372.79 381.55,372.79 383.85,372.79 386.15,372.79 388.45,372.79 390.75,372.79 393.05,372.79 395.35,372.79 397.65,372.79 399.95,372.79 402.25,372.79 404.55,372.79 406.85,372.79 409.15,372.79 411.45,372.79 413.75,372.79 416.05,372.79 418.35,372.79 420.65,372.79 422.95,372.79 425.25,372.79 427.55,372.79 429.85,372.79 431.46,373.79 52.65,373.79" fill="#fff"/>
<polyline points="120.5,376.8 122.8,376.59 125.1,376.28 127.4,375.96 129.7,375.65 132,375.33 134.3,375.01 136.6,374.69 138.9,374.38 141.2,374.06 143.5,373.74 145.8,373.42 148.1,373.11 150.4,372.79 152.7,372.5 155,372.23 157.3,371.96 159.6,371.68 161.9,371.4 164.2,370.94 166.5,370.48 168.8,370.01 171.1,369.55 173.4,369.05 175.7,368.49 178,367.93 180.3,367.42 182.6,367.11 184.9,366.8 187.2,366.51 189.5,366.37 191.8,366.22 194.1,366.08 196.4,365.96 198.7,365.95 201,365.94 203.3,365.93 205.6,365.93 207.9,365.92 210.2,365.91 212.5,365.9 214.8,365.89 217.1,365.89 219.4,365.88 221.7,365.87 224,365.86 226.3,365.85 228.6,365.85 230.9,365.84 233.2,365.83 235.5,365.82 237.8,365.81 240.1,365.81 242.4,365.8 244.7,365.8 247,365.81 249.3,365.81 251.6,365.82 253.9,365.82 256.2,365.83 258.5,365.83 260.8,365.84 263.1,365.84 265.4,365.85 267.7,365.85 270,365.86 272.3,365.86 274.6,365.87 276.9,365.87 279.2,365.88 281.5,365.97 283.8,366.1 286.1,366.22 288.4,366.35 290.7,366.51 293,366.75 295.3,366.99 297.6,367.24 299.9,367.48 302.2,368.02 304.5,368.57 306.8,369.12 309.1,369.68 311.4,370.18 313.7,370.64 316,371.1 318.3,371.56 320.6,372 322.9,372.37 325.2,372.74 327.5,373.11 329.8,373.47 332.1,373.79 334.4,374.11 336.7,374.42 339,374.74 341.3,375 343.6,375.22 345.9,375.44 348.2,375.66 350.5,375.86 352.8,375.99 355.1,376.12 357.4,376.25 359.7,376.38 362,376.48 364.3,376.57 366.6,376.66 368.9,376.76" fill="none" stroke="#000" stroke-width="1.5"/>
<rect x="35.5" y="296.5" width="413.5" height="80.3" fill="none" stroke="#333" stroke-width="1"/>
<line x1="35.5" y1="360.74" x2="42.7" y2="360.74" stroke="#333" stroke-width="1"/>
<line x1="428" y1="360.74" x2="449" y2="360.74" stroke="#333" stroke-width="1"/>
<line x1="35.5" y1="344.68" x2="42.7" y2="344.68" stroke="#333" stroke-width="1"/>
<line x1="428" y1="344.68" x2="449" y2="344.68" stroke="#333" stroke-width="1"/>
<line x1="35.5" y1="328.62" x2="42.7" y2="328.62" stroke="#333" stroke-width="1"/>
<line x1="428" y1="328.62" x2="449" y2="328.62" stroke="#333" stroke-width="1"/>
<line x1="35.5" y1="312.56" x2="42.7" y2="312.56" stroke="#333" stroke-width="1"/>
<line x1="428" y1="312.56" x2="449" y2="312.56" stroke="#333" stroke-width="1"/>
<line x1="58.4" y1="296.5" x2="58.4" y2="298.5" stroke="#333" stroke-width="1"/>
<line x1="58.4" y1="376.8" x2="58.4" y2="373.3" stroke="#333" stroke-width="1"/>
<line x1="81.4" y1="296.5" x2="81.4" y2="298.5" stroke="#333" stroke-width="1"/>
<line x1="81.4" y1="376.8" x2="81.4" y2="373.3" stroke="#333" stroke-width="1"/>
<line x1="104.4" y1="296.5" x2="104.4" y2="298.5" stroke="#333" stroke-width="1"/>
<line x1="104.4" y1="376.8" x2="104.4" y2="373.3" stroke="#333" stroke-width="1"/>
<line x1="127.4" y1="296.5" x2="127.4" y2="300" stroke="#333" stroke-width="1"/>
<line x1="127.4" y1="376.8" x2="127.4" y2="369.8" stroke="#333" stroke-width="1"/>
<line x1="150.4" y1="296.5" x2="150.4" y2="298.5" stroke="#333" stroke-width="1"/>
<line x1="150.4" y1="376.8" x2="150.4" y2="373.3" stroke="#333" stroke-width="1"/>
<line x1="173.4" y1="296.5" x2="173.4" y2="298.5" stroke="#333" stroke-width="1"/>
<line x1="173.4" y1="376.8" x2="173.4" y2="373.3" stroke="#333" stroke-width="1"/>
<line x1="196.4" y1="296.5" x2="196.4" y2="298.5" stroke="#333" stroke-width="1"/>
<line x1="196.4" y1="376.8" x2="196.4" y2="373.3" stroke="#333" stroke-width="1"/>
<line x1="219.4" y1="296.5" x2="219.4" y2="298.5" stroke="#333" stroke-width="1"/>
<line x1="219.4" y1="376.8" x2="219.4" y2="373.3" stroke="#333" stroke-width="1"/>
<line x1="242.4" y1="296.5" x2="242.4" y2="300" stroke="#333" stroke-width="1"/>
<line x1="242.4" y1="376.8" x2="242.4" y2="369.8" stroke="#333" stroke-width="1"/>
<line x1="265.4" y1="296.5" x2="265.4" y2="298.5" stroke="#333" stroke-width="1"/>
<line x1="265.4" y1="376.8" x2="265.4" y2="373.3" stroke="#333" stroke-width="1"/>
<line x1="288.4" y1="296.5" x2="288.4" y2="298.5" stroke="#333" stroke-width="1"/>
<line x1="288.4" y1="376.8" x2="288.4" y2="373.3" stroke="#333" stroke-width="1"/>
<line x1="311.4" y1="296.5" x2="311.4" y2="298.5" stroke="#333" stroke-width="1"/>
<line x1="311.4" y1="376.8" x2="311.4" y2="373.3" stroke="#333" stroke-width="1"/>
<line x1="334.4" y1="296.5" x2="334.4" y2="298.5" stroke="#333" stroke-width="1"/>
<line x1="334.4" y1="376.8" x2="334.4" y2="373.3" stroke="#333" stroke-width="1"/>
<line x1="357.4" y1="296.5" x2="357.4" y2="300" stroke="#333" stroke-width="1"/>
<line x1="357.4" y1="376.8" x2="357.4" y2="369.8" stroke="#333" stroke-width="1"/>
<line x1="380.4" y1="296.5" x2="380.4" y2="298.5" stroke="#333" stroke-width="1"/>
<line x1="380.4" y1="376.8" x2="380.4" y2="373.3" stroke="#333" stroke-width="1"/>
<line x1="403.4" y1="296.5" x2="403.4" y2="298.5" stroke="#333" stroke-width="1"/>
<line x1="403.4" y1="376.8" x2="403.4" y2="373.3" stroke="#333" stroke-width="1"/>
<line x1="426.4" y1="296.5" x2="426.4" y2="298.5" stroke="#333" stroke-width="1"/>
<line x1="426.4" y1="376.8" x2="426.4" y2="373.3" stroke="#333" stroke-width="1"/>
<text x="30.3" y="380.4" font-size="10.4" text-anchor="end" fill="#222" textLength="11.2" lengthAdjust="spacingAndGlyphs">10</text>
<text x="30.3" y="364.34" font-size="10.4" text-anchor="end" fill="#222" textLength="11.2" lengthAdjust="spacingAndGlyphs">20</text>
<text x="30.3" y="348.28" font-size="10.4" text-anchor="end" fill="#222" textLength="11.2" lengthAdjust="spacingAndGlyphs">30</text>
<text x="30.3" y="332.22" font-size="10.4" text-anchor="end" fill="#222" textLength="11.2" lengthAdjust="spacingAndGlyphs">40</text>
<text x="30.3" y="316.16" font-size="10.4" text-anchor="end" fill="#222" textLength="11.2" lengthAdjust="spacingAndGlyphs">50</text>
<text x="30.3" y="300.1" font-size="10.4" text-anchor="end" fill="#222" textLength="11.2" lengthAdjust="spacingAndGlyphs">60</text>
<text x="13.1" y="337" font-size="10.2" text-anchor="middle" fill="#222" textLength="37" lengthAdjust="spacingAndGlyphs" transform="rotate(-90 12.8 337)">Alt (km)</text>
<text x="125.9" y="387" font-size="10.4" text-anchor="middle" fill="#222" textLength="15.5" lengthAdjust="spacingAndGlyphs">-50</text>
<text x="242.4" y="387" font-size="10.4" text-anchor="middle" fill="#222" textLength="5.6" lengthAdjust="spacingAndGlyphs">0</text>
<text x="357.4" y="387" font-size="10.4" text-anchor="middle" fill="#222" textLength="11.2" lengthAdjust="spacingAndGlyphs">50</text>
<text x="241.9" y="396.9" font-size="10.2" text-anchor="middle" fill="#222" textLength="85.4" lengthAdjust="spacingAndGlyphs">Latitude (degrees)</text>
<text x="241.9" y="293.4" font-size="10.2" text-anchor="middle" fill="#222" textLength="199.2" lengthAdjust="spacingAndGlyphs">Mean Bias OMPS LP - MLS, (%), 2012-2024</text>
<text x="47.6" y="311.5" font-size="12.6" text-anchor="start" fill="#222" textLength="16" lengthAdjust="spacingAndGlyphs">(c)</text>
<rect x="489.5" y="284.7" width="5.5" height="4.24" fill="#b82431"/>
<rect x="489.5" y="288.74" width="5.5" height="4.24" fill="#c43c3c"/>
<rect x="489.5" y="292.77" width="5.5" height="4.24" fill="#d05447"/>
<rect x="489.5" y="296.81" width="5.5" height="4.24" fill="#db6c56"/>
<rect x="489.5" y="300.85" width="5.5" height="4.24" fill="#e58268"/>
<rect x="489.5" y="304.89" width="5.5" height="4.24" fill="#ef9979"/>
<rect x="489.5" y="308.93" width="5.5" height="4.24" fill="#f6ae8d"/>
<rect x="489.5" y="312.96" width="5.5" height="4.24" fill="#f8c0a4"/>
<rect x="489.5" y="317" width="5.5" height="4.24" fill="#fcd2bb"/>
<rect x="489.5" y="321.04" width="5.5" height="4.24" fill="#fce0cf"/>
<rect x="489.5" y="325.07" width="5.5" height="4.24" fill="#fae9df"/>
<rect x="489.5" y="329.11" width="5.5" height="4.24" fill="#f8f2ef"/>
<rect x="489.5" y="333.15" width="5.5" height="4.24" fill="#f1f4f6"/>
<rect x="489.5" y="337.19" width="5.5" height="4.24" fill="#e4eef4"/>
<rect x="489.5" y="341.23" width="5.5" height="4.24" fill="#d7e8f1"/>
<rect x="489.5" y="345.26" width="5.5" height="4.24" fill="#c6e0ed"/>
<rect x="489.5" y="349.3" width="5.5" height="4.24" fill="#b2d5e7"/>
<rect x="489.5" y="353.34" width="5.5" height="4.24" fill="#9ccae1"/>
<rect x="489.5" y="357.38" width="5.5" height="4.24" fill="#85bdda"/>
<rect x="489.5" y="361.41" width="5.5" height="4.24" fill="#6aacd0"/>
<rect x="489.5" y="365.45" width="5.5" height="4.24" fill="#509bc7"/>
<rect x="489.5" y="369.49" width="5.5" height="4.24" fill="#3d8cbf"/>
<rect x="489.5" y="373.53" width="5.5" height="4.24" fill="#327db8"/>
<rect x="489.5" y="377.56" width="5.5" height="4.24" fill="#276eb0"/>
<polygon points="489.5,284.8 495,284.8 492.25,280.9" fill="#9b1127"/>
<polygon points="489.5,381.5 495,381.5 492.25,385.2" fill="#195696"/>
<line x1="489.3" y1="284.7" x2="489.3" y2="381.6" stroke="#666" stroke-width="0.8"/>
<text x="485.6" y="292.95" font-size="8.5" text-anchor="end" fill="#222" textLength="9.8" lengthAdjust="spacingAndGlyphs">30</text>
<text x="485.6" y="300.2" font-size="8.5" text-anchor="end" fill="#222" textLength="9.8" lengthAdjust="spacingAndGlyphs">25</text>
<text x="485.6" y="307.45" font-size="8.5" text-anchor="end" fill="#222" textLength="9.8" lengthAdjust="spacingAndGlyphs">20</text>
<text x="485.6" y="314.7" font-size="8.5" text-anchor="end" fill="#222" textLength="9.8" lengthAdjust="spacingAndGlyphs">15</text>
<text x="485.6" y="321.95" font-size="8.5" text-anchor="end" fill="#222" textLength="9.8" lengthAdjust="spacingAndGlyphs">10</text>
<text x="485.6" y="329.2" font-size="8.5" text-anchor="end" fill="#222" textLength="4.9" lengthAdjust="spacingAndGlyphs">5</text>
<text x="485.6" y="336.45" font-size="8.5" text-anchor="end" fill="#222" textLength="4.9" lengthAdjust="spacingAndGlyphs">0</text>
<text x="485.6" y="343.7" font-size="8.5" text-anchor="end" fill="#222" textLength="9.6" lengthAdjust="spacingAndGlyphs">-5</text>
<text x="485.6" y="350.95" font-size="8.5" text-anchor="end" fill="#222" textLength="14.5" lengthAdjust="spacingAndGlyphs">-10</text>
<text x="485.6" y="358.2" font-size="8.5" text-anchor="end" fill="#222" textLength="14.5" lengthAdjust="spacingAndGlyphs">-15</text>
<text x="485.6" y="365.45" font-size="8.5" text-anchor="end" fill="#222" textLength="14.5" lengthAdjust="spacingAndGlyphs">-20</text>
<text x="485.6" y="372.7" font-size="8.5" text-anchor="end" fill="#222" textLength="14.5" lengthAdjust="spacingAndGlyphs">-25</text>
<text x="485.6" y="379.95" font-size="8.5" text-anchor="end" fill="#222" textLength="14.5" lengthAdjust="spacingAndGlyphs">-30</text>
<text x="467.6" y="333.15" font-size="9.6" text-anchor="middle" fill="#222" textLength="59" lengthAdjust="spacingAndGlyphs" transform="rotate(-90 467.6 333.15)">Difference (%)</text>
<rect x="41.7" y="416" width="113" height="298.2" fill="#c8c8c8"/>
<rect x="84.2" y="416" width="28" height="298.2" fill="#ebebeb"/>
<rect x="91.2" y="416" width="14" height="298.2" fill="#fff"/>
<line x1="41.7" y1="654.56" x2="154.7" y2="654.56" stroke="#333" stroke-width="1" stroke-dasharray="1.2 2.8"/>
<line x1="41.7" y1="594.92" x2="154.7" y2="594.92" stroke="#333" stroke-width="1" stroke-dasharray="1.2 2.8"/>
<line x1="41.7" y1="535.28" x2="154.7" y2="535.28" stroke="#333" stroke-width="1" stroke-dasharray="1.2 2.8"/>
<line x1="41.7" y1="475.64" x2="154.7" y2="475.64" stroke="#333" stroke-width="1" stroke-dasharray="1.2 2.8"/>
<line x1="98.2" y1="416" x2="98.2" y2="714.2" stroke="#333" stroke-width="1" stroke-dasharray="1.2 2.8"/>
<line x1="41.7" y1="708.24" x2="43.3" y2="708.24" stroke="#555" stroke-width="0.8"/>
<line x1="154.7" y1="708.24" x2="153.1" y2="708.24" stroke="#555" stroke-width="0.8"/>
<line x1="41.7" y1="702.27" x2="43.3" y2="702.27" stroke="#555" stroke-width="0.8"/>
<line x1="154.7" y1="702.27" x2="153.1" y2="702.27" stroke="#555" stroke-width="0.8"/>
<line x1="41.7" y1="696.31" x2="43.3" y2="696.31" stroke="#555" stroke-width="0.8"/>
<line x1="154.7" y1="696.31" x2="153.1" y2="696.31" stroke="#555" stroke-width="0.8"/>
<line x1="41.7" y1="690.34" x2="43.3" y2="690.34" stroke="#555" stroke-width="0.8"/>
<line x1="154.7" y1="690.34" x2="153.1" y2="690.34" stroke="#555" stroke-width="0.8"/>
<line x1="41.7" y1="684.38" x2="43.3" y2="684.38" stroke="#555" stroke-width="0.8"/>
<line x1="154.7" y1="684.38" x2="153.1" y2="684.38" stroke="#555" stroke-width="0.8"/>
<line x1="41.7" y1="678.42" x2="43.3" y2="678.42" stroke="#555" stroke-width="0.8"/>
<line x1="154.7" y1="678.42" x2="153.1" y2="678.42" stroke="#555" stroke-width="0.8"/>
<line x1="41.7" y1="672.45" x2="43.3" y2="672.45" stroke="#555" stroke-width="0.8"/>
<line x1="154.7" y1="672.45" x2="153.1" y2="672.45" stroke="#555" stroke-width="0.8"/>
<line x1="41.7" y1="666.49" x2="43.3" y2="666.49" stroke="#555" stroke-width="0.8"/>
<line x1="154.7" y1="666.49" x2="153.1" y2="666.49" stroke="#555" stroke-width="0.8"/>
<line x1="41.7" y1="660.52" x2="43.3" y2="660.52" stroke="#555" stroke-width="0.8"/>
<line x1="154.7" y1="660.52" x2="153.1" y2="660.52" stroke="#555" stroke-width="0.8"/>
<line x1="41.7" y1="654.56" x2="44.7" y2="654.56" stroke="#555" stroke-width="0.8"/>
<line x1="154.7" y1="654.56" x2="151.7" y2="654.56" stroke="#555" stroke-width="0.8"/>
<line x1="41.7" y1="648.6" x2="43.3" y2="648.6" stroke="#555" stroke-width="0.8"/>
<line x1="154.7" y1="648.6" x2="153.1" y2="648.6" stroke="#555" stroke-width="0.8"/>
<line x1="41.7" y1="642.63" x2="43.3" y2="642.63" stroke="#555" stroke-width="0.8"/>
<line x1="154.7" y1="642.63" x2="153.1" y2="642.63" stroke="#555" stroke-width="0.8"/>
<line x1="41.7" y1="636.67" x2="43.3" y2="636.67" stroke="#555" stroke-width="0.8"/>
<line x1="154.7" y1="636.67" x2="153.1" y2="636.67" stroke="#555" stroke-width="0.8"/>
<line x1="41.7" y1="630.7" x2="43.3" y2="630.7" stroke="#555" stroke-width="0.8"/>
<line x1="154.7" y1="630.7" x2="153.1" y2="630.7" stroke="#555" stroke-width="0.8"/>
<line x1="41.7" y1="624.74" x2="43.3" y2="624.74" stroke="#555" stroke-width="0.8"/>
<line x1="154.7" y1="624.74" x2="153.1" y2="624.74" stroke="#555" stroke-width="0.8"/>
<line x1="41.7" y1="618.78" x2="43.3" y2="618.78" stroke="#555" stroke-width="0.8"/>
<line x1="154.7" y1="618.78" x2="153.1" y2="618.78" stroke="#555" stroke-width="0.8"/>
<line x1="41.7" y1="612.81" x2="43.3" y2="612.81" stroke="#555" stroke-width="0.8"/>
<line x1="154.7" y1="612.81" x2="153.1" y2="612.81" stroke="#555" stroke-width="0.8"/>
<line x1="41.7" y1="606.85" x2="43.3" y2="606.85" stroke="#555" stroke-width="0.8"/>
<line x1="154.7" y1="606.85" x2="153.1" y2="606.85" stroke="#555" stroke-width="0.8"/>
<line x1="41.7" y1="600.88" x2="43.3" y2="600.88" stroke="#555" stroke-width="0.8"/>
<line x1="154.7" y1="600.88" x2="153.1" y2="600.88" stroke="#555" stroke-width="0.8"/>
<line x1="41.7" y1="594.92" x2="44.7" y2="594.92" stroke="#555" stroke-width="0.8"/>
<line x1="154.7" y1="594.92" x2="151.7" y2="594.92" stroke="#555" stroke-width="0.8"/>
<line x1="41.7" y1="588.96" x2="43.3" y2="588.96" stroke="#555" stroke-width="0.8"/>
<line x1="154.7" y1="588.96" x2="153.1" y2="588.96" stroke="#555" stroke-width="0.8"/>
<line x1="41.7" y1="582.99" x2="43.3" y2="582.99" stroke="#555" stroke-width="0.8"/>
<line x1="154.7" y1="582.99" x2="153.1" y2="582.99" stroke="#555" stroke-width="0.8"/>
<line x1="41.7" y1="577.03" x2="43.3" y2="577.03" stroke="#555" stroke-width="0.8"/>
<line x1="154.7" y1="577.03" x2="153.1" y2="577.03" stroke="#555" stroke-width="0.8"/>
<line x1="41.7" y1="571.06" x2="43.3" y2="571.06" stroke="#555" stroke-width="0.8"/>
<line x1="154.7" y1="571.06" x2="153.1" y2="571.06" stroke="#555" stroke-width="0.8"/>
<line x1="41.7" y1="565.1" x2="43.3" y2="565.1" stroke="#555" stroke-width="0.8"/>
<line x1="154.7" y1="565.1" x2="153.1" y2="565.1" stroke="#555" stroke-width="0.8"/>
<line x1="41.7" y1="559.14" x2="43.3" y2="559.14" stroke="#555" stroke-width="0.8"/>
<line x1="154.7" y1="559.14" x2="153.1" y2="559.14" stroke="#555" stroke-width="0.8"/>
<line x1="41.7" y1="553.17" x2="43.3" y2="553.17" stroke="#555" stroke-width="0.8"/>
<line x1="154.7" y1="553.17" x2="153.1" y2="553.17" stroke="#555" stroke-width="0.8"/>
<line x1="41.7" y1="547.21" x2="43.3" y2="547.21" stroke="#555" stroke-width="0.8"/>
<line x1="154.7" y1="547.21" x2="153.1" y2="547.21" stroke="#555" stroke-width="0.8"/>
<line x1="41.7" y1="541.24" x2="43.3" y2="541.24" stroke="#555" stroke-width="0.8"/>
<line x1="154.7" y1="541.24" x2="153.1" y2="541.24" stroke="#555" stroke-width="0.8"/>
<line x1="41.7" y1="535.28" x2="44.7" y2="535.28" stroke="#555" stroke-width="0.8"/>
<line x1="154.7" y1="535.28" x2="151.7" y2="535.28" stroke="#555" stroke-width="0.8"/>
<line x1="41.7" y1="529.32" x2="43.3" y2="529.32" stroke="#555" stroke-width="0.8"/>
<line x1="154.7" y1="529.32" x2="153.1" y2="529.32" stroke="#555" stroke-width="0.8"/>
<line x1="41.7" y1="523.35" x2="43.3" y2="523.35" stroke="#555" stroke-width="0.8"/>
<line x1="154.7" y1="523.35" x2="153.1" y2="523.35" stroke="#555" stroke-width="0.8"/>
<line x1="41.7" y1="517.39" x2="43.3" y2="517.39" stroke="#555" stroke-width="0.8"/>
<line x1="154.7" y1="517.39" x2="153.1" y2="517.39" stroke="#555" stroke-width="0.8"/>
<line x1="41.7" y1="511.42" x2="43.3" y2="511.42" stroke="#555" stroke-width="0.8"/>
<line x1="154.7" y1="511.42" x2="153.1" y2="511.42" stroke="#555" stroke-width="0.8"/>
<line x1="41.7" y1="505.46" x2="43.3" y2="505.46" stroke="#555" stroke-width="0.8"/>
<line x1="154.7" y1="505.46" x2="153.1" y2="505.46" stroke="#555" stroke-width="0.8"/>
<line x1="41.7" y1="499.5" x2="43.3" y2="499.5" stroke="#555" stroke-width="0.8"/>
<line x1="154.7" y1="499.5" x2="153.1" y2="499.5" stroke="#555" stroke-width="0.8"/>
<line x1="41.7" y1="493.53" x2="43.3" y2="493.53" stroke="#555" stroke-width="0.8"/>
<line x1="154.7" y1="493.53" x2="153.1" y2="493.53" stroke="#555" stroke-width="0.8"/>
<line x1="41.7" y1="487.57" x2="43.3" y2="487.57" stroke="#555" stroke-width="0.8"/>
<line x1="154.7" y1="487.57" x2="153.1" y2="487.57" stroke="#555" stroke-width="0.8"/>
<line x1="41.7" y1="481.6" x2="43.3" y2="481.6" stroke="#555" stroke-width="0.8"/>
<line x1="154.7" y1="481.6" x2="153.1" y2="481.6" stroke="#555" stroke-width="0.8"/>
<line x1="41.7" y1="475.64" x2="44.7" y2="475.64" stroke="#555" stroke-width="0.8"/>
<line x1="154.7" y1="475.64" x2="151.7" y2="475.64" stroke="#555" stroke-width="0.8"/>
<line x1="41.7" y1="469.68" x2="43.3" y2="469.68" stroke="#555" stroke-width="0.8"/>
<line x1="154.7" y1="469.68" x2="153.1" y2="469.68" stroke="#555" stroke-width="0.8"/>
<line x1="41.7" y1="463.71" x2="43.3" y2="463.71" stroke="#555" stroke-width="0.8"/>
<line x1="154.7" y1="463.71" x2="153.1" y2="463.71" stroke="#555" stroke-width="0.8"/>
<line x1="41.7" y1="457.75" x2="43.3" y2="457.75" stroke="#555" stroke-width="0.8"/>
<line x1="154.7" y1="457.75" x2="153.1" y2="457.75" stroke="#555" stroke-width="0.8"/>
<line x1="41.7" y1="451.78" x2="43.3" y2="451.78" stroke="#555" stroke-width="0.8"/>
<line x1="154.7" y1="451.78" x2="153.1" y2="451.78" stroke="#555" stroke-width="0.8"/>
<line x1="41.7" y1="445.82" x2="43.3" y2="445.82" stroke="#555" stroke-width="0.8"/>
<line x1="154.7" y1="445.82" x2="153.1" y2="445.82" stroke="#555" stroke-width="0.8"/>
<line x1="41.7" y1="439.86" x2="43.3" y2="439.86" stroke="#555" stroke-width="0.8"/>
<line x1="154.7" y1="439.86" x2="153.1" y2="439.86" stroke="#555" stroke-width="0.8"/>
<line x1="41.7" y1="433.89" x2="43.3" y2="433.89" stroke="#555" stroke-width="0.8"/>
<line x1="154.7" y1="433.89" x2="153.1" y2="433.89" stroke="#555" stroke-width="0.8"/>
<line x1="41.7" y1="427.93" x2="43.3" y2="427.93" stroke="#555" stroke-width="0.8"/>
<line x1="154.7" y1="427.93" x2="153.1" y2="427.93" stroke="#555" stroke-width="0.8"/>
<line x1="41.7" y1="421.96" x2="43.3" y2="421.96" stroke="#555" stroke-width="0.8"/>
<line x1="154.7" y1="421.96" x2="153.1" y2="421.96" stroke="#555" stroke-width="0.8"/>
<line x1="49.2" y1="416" x2="49.2" y2="418.2" stroke="#555" stroke-width="0.8"/>
<line x1="49.2" y1="714.2" x2="49.2" y2="712" stroke="#555" stroke-width="0.8"/>
<line x1="56.2" y1="416" x2="56.2" y2="418.2" stroke="#555" stroke-width="0.8"/>
<line x1="56.2" y1="714.2" x2="56.2" y2="712" stroke="#555" stroke-width="0.8"/>
<line x1="63.2" y1="416" x2="63.2" y2="418.2" stroke="#555" stroke-width="0.8"/>
<line x1="63.2" y1="714.2" x2="63.2" y2="712" stroke="#555" stroke-width="0.8"/>
<line x1="70.2" y1="416" x2="70.2" y2="420.5" stroke="#555" stroke-width="0.8"/>
<line x1="70.2" y1="714.2" x2="70.2" y2="709.7" stroke="#555" stroke-width="0.8"/>
<line x1="77.2" y1="416" x2="77.2" y2="418.2" stroke="#555" stroke-width="0.8"/>
<line x1="77.2" y1="714.2" x2="77.2" y2="712" stroke="#555" stroke-width="0.8"/>
<line x1="84.2" y1="416" x2="84.2" y2="418.2" stroke="#555" stroke-width="0.8"/>
<line x1="84.2" y1="714.2" x2="84.2" y2="712" stroke="#555" stroke-width="0.8"/>
<line x1="91.2" y1="416" x2="91.2" y2="418.2" stroke="#555" stroke-width="0.8"/>
<line x1="91.2" y1="714.2" x2="91.2" y2="712" stroke="#555" stroke-width="0.8"/>
<line x1="98.2" y1="416" x2="98.2" y2="420.5" stroke="#555" stroke-width="0.8"/>
<line x1="98.2" y1="714.2" x2="98.2" y2="709.7" stroke="#555" stroke-width="0.8"/>
<line x1="105.2" y1="416" x2="105.2" y2="418.2" stroke="#555" stroke-width="0.8"/>
<line x1="105.2" y1="714.2" x2="105.2" y2="712" stroke="#555" stroke-width="0.8"/>
<line x1="112.2" y1="416" x2="112.2" y2="418.2" stroke="#555" stroke-width="0.8"/>
<line x1="112.2" y1="714.2" x2="112.2" y2="712" stroke="#555" stroke-width="0.8"/>
<line x1="119.2" y1="416" x2="119.2" y2="418.2" stroke="#555" stroke-width="0.8"/>
<line x1="119.2" y1="714.2" x2="119.2" y2="712" stroke="#555" stroke-width="0.8"/>
<line x1="126.2" y1="416" x2="126.2" y2="420.5" stroke="#555" stroke-width="0.8"/>
<line x1="126.2" y1="714.2" x2="126.2" y2="709.7" stroke="#555" stroke-width="0.8"/>
<line x1="133.2" y1="416" x2="133.2" y2="418.2" stroke="#555" stroke-width="0.8"/>
<line x1="133.2" y1="714.2" x2="133.2" y2="712" stroke="#555" stroke-width="0.8"/>
<line x1="140.2" y1="416" x2="140.2" y2="418.2" stroke="#555" stroke-width="0.8"/>
<line x1="140.2" y1="714.2" x2="140.2" y2="712" stroke="#555" stroke-width="0.8"/>
<line x1="147.2" y1="416" x2="147.2" y2="418.2" stroke="#555" stroke-width="0.8"/>
<line x1="147.2" y1="714.2" x2="147.2" y2="712" stroke="#555" stroke-width="0.8"/>
<rect x="41.7" y="416" width="113" height="298.2" fill="none" stroke="#5a5a5a" stroke-width="1"/>
<polyline points="95.68,429.68 95.68,436.4 94.72,446 92.32,458 90.4,467.6 89.2,476 88,486.8 90.4,495.2 94,504.8 97.12,513.2 97.6,522.8 98.32,530 100.48,537.2 101.92,546.8 101.92,560 103.6,564.4 104.32,578.8 101.2,588.4 98.8,598 98.08,610 97.12,626.8 98.8,636.4 102.88,646 105.28,655.6 103.6,665.2 97.6,672.4 88,680.8 82,688 79.6,694 74.8,698.8" fill="none" stroke="#ffa000" stroke-width="1" stroke-linejoin="round"/>
<polyline points="111.52,591.28 107.2,598 102.4,605.2 99.52,614.8 98.08,624.4 100,636.4 102.88,641.2 107.2,648.4 109.6,655.6 109.12,662.8 106,668.8 100,674.8 94,680.8 89.2,685.6 84.4,691.6 82.72,695.2 80.32,699.28" fill="none" stroke="#2a2aff" stroke-width="1" stroke-linejoin="round"/>
<polyline points="48.4,430.4 58,435.92 70,442.4 78.4,448.4 83.92,454.4 86.32,460.4 88,467.6 89.2,476 88,486.8 90.4,498.8 91.6,508.4 91.6,520.4 94,530 96.88,539.6 97.6,551.6 99.52,560 98.8,564.4 100,576.4 97.6,583.6 94,588.4 92.32,598 92.32,612.4 93.28,624.4 96.4,636.4 100,646 102.88,653.2 102.88,661.6 99.52,667.6 95.2,672.4 88,677.2 79.6,686.8 74.8,694 71.2,699.28" fill="none" stroke="#ff1a1a" stroke-width="1" stroke-linejoin="round"/>
<polyline points="79.6,429.68 82,436.4 83.92,446 85.6,458 87.28,470 88,476 87.52,486.8 89.2,494 91.6,501.2 94.72,508.4 97.12,514.4 97.12,520.4 96.88,527.6 98.8,533.6 101.2,540.8 101.92,549.2 102.4,560 100,564.4 102.88,574 101.2,581.2 96.4,586 91.6,590.8 89.2,598 90.4,612.4 91.6,624.4 94,634 98.8,641.2 102.88,648.4 104.8,655.6 104.32,662.8 101.92,670 97.6,676 90.4,682 85.6,686.8 82.72,694 82,698.8" fill="none" stroke="#000" stroke-width="1" stroke-linejoin="round"/>
<path d="M71.73 696.31H74.73M71.73 695.01V697.61M74.73 695.01V697.61M75.74 690.34H78.74M75.74 689.04V691.64M78.74 689.04V691.64M80.22 684.38H83.22M80.22 683.08V685.68M83.22 683.08V685.68M85.44 678.42H88.44M85.44 677.12V679.72M88.44 677.12V679.72M93.62 672.45H96.62M93.62 671.15V673.75M96.62 671.15V673.75M98.64 666.49H101.64M98.64 665.19V667.79M101.64 665.19V667.79M101.38 660.52H104.38M101.38 659.22V661.82M104.38 659.22V661.82M101.38 654.56H104.38M101.38 653.26V655.86M104.38 653.26V655.86M99.54 648.6H102.54M99.54 647.3V649.9M102.54 647.3V649.9M83.26 457.75H87.26M83.26 456.45V459.05M87.26 456.45V459.05M79.51 451.78H83.51M79.51 450.48V453.08M83.51 450.48V453.08M72.79 445.82H76.79M72.79 444.52V447.12M76.79 444.52V447.12M63.29 439.86H67.29M63.29 438.56V441.16M67.29 438.56V441.16M52.47 433.89H56.47M52.47 432.59V435.19M56.47 432.59V435.19" stroke="#ff1a1a" stroke-width="0.8" fill="none"/>
<path d="M80.57 696.31H83.57M80.57 695.01V697.61M83.57 695.01V697.61M83.9 690.34H86.9M83.9 689.04V691.64M86.9 689.04V691.64M88.92 684.38H91.92M88.92 683.08V685.68M91.92 683.08V685.68M94.88 678.42H97.88M94.88 677.12V679.72M97.88 677.12V679.72M100.85 672.45H103.85M100.85 671.15V673.75M103.85 671.15V673.75M105.7 666.49H108.7M105.7 665.19V667.79M108.7 665.19V667.79M107.77 660.52H110.77M107.77 659.22V661.82M110.77 659.22V661.82M107.75 654.56H110.75M107.75 653.26V655.86M110.75 653.26V655.86M105.77 648.6H108.77M105.77 647.3V649.9M108.77 647.3V649.9" stroke="#2a2aff" stroke-width="0.8" fill="none"/>
<text x="37.5" y="715" font-size="10.4" text-anchor="end" fill="#3a3a3a" textLength="11.5" lengthAdjust="spacingAndGlyphs">10</text>
<text x="37.5" y="658.86" font-size="10.4" text-anchor="end" fill="#3a3a3a" textLength="11.5" lengthAdjust="spacingAndGlyphs">20</text>
<text x="37.5" y="599.22" font-size="10.4" text-anchor="end" fill="#3a3a3a" textLength="11.5" lengthAdjust="spacingAndGlyphs">30</text>
<text x="37.5" y="539.58" font-size="10.4" text-anchor="end" fill="#3a3a3a" textLength="11.5" lengthAdjust="spacingAndGlyphs">40</text>
<text x="37.5" y="479.94" font-size="10.4" text-anchor="end" fill="#3a3a3a" textLength="11.5" lengthAdjust="spacingAndGlyphs">50</text>
<text x="37.5" y="423.8" font-size="10.4" text-anchor="end" fill="#3a3a3a" textLength="11.5" lengthAdjust="spacingAndGlyphs">60</text>
<text x="41" y="729.2" font-size="10.6" text-anchor="middle" fill="#3a3a3a" textLength="19" lengthAdjust="spacingAndGlyphs">−40</text>
<text x="69" y="729.2" font-size="10.6" text-anchor="middle" fill="#3a3a3a" textLength="19" lengthAdjust="spacingAndGlyphs">−20</text>
<text x="98.2" y="729.2" font-size="10.6" text-anchor="middle" fill="#3a3a3a" textLength="5.8" lengthAdjust="spacingAndGlyphs">0</text>
<text x="126.2" y="729.2" font-size="10.6" text-anchor="middle" fill="#3a3a3a" textLength="11.5" lengthAdjust="spacingAndGlyphs">20</text>
<text x="154.2" y="729.2" font-size="10.6" text-anchor="middle" fill="#3a3a3a" textLength="11.5" lengthAdjust="spacingAndGlyphs">40</text>
<text x="98.2" y="742.2" font-size="10.4" text-anchor="middle" fill="#3a3a3a" textLength="39.5" lengthAdjust="spacingAndGlyphs">Diff (%)</text>
<text x="98.2" y="412.6" font-size="8.8" text-anchor="middle" fill="#3a3a3a" textLength="46" lengthAdjust="spacingAndGlyphs">60°S−30°S</text>
<text x="42.6" y="464.5" font-size="16" text-anchor="start" fill="#4a4a4a" textLength="19.6" lengthAdjust="spacingAndGlyphs">(d)</text>
<text x="16.8" y="565.5" font-size="9.8" text-anchor="middle" fill="#444" textLength="42" lengthAdjust="spacingAndGlyphs" transform="rotate(-90 16.8 565.5)">Alt (km)</text>
<rect x="208" y="416" width="113" height="298.2" fill="#c8c8c8"/>
<rect x="250.5" y="416" width="28" height="298.2" fill="#ebebeb"/>
<rect x="257.5" y="416" width="14" height="298.2" fill="#fff"/>
<line x1="208" y1="654.56" x2="321" y2="654.56" stroke="#333" stroke-width="1" stroke-dasharray="1.2 2.8"/>
<line x1="208" y1="594.92" x2="321" y2="594.92" stroke="#333" stroke-width="1" stroke-dasharray="1.2 2.8"/>
<line x1="208" y1="535.28" x2="321" y2="535.28" stroke="#333" stroke-width="1" stroke-dasharray="1.2 2.8"/>
<line x1="208" y1="475.64" x2="321" y2="475.64" stroke="#333" stroke-width="1" stroke-dasharray="1.2 2.8"/>
<line x1="264.5" y1="416" x2="264.5" y2="714.2" stroke="#333" stroke-width="1" stroke-dasharray="1.2 2.8"/>
<line x1="208" y1="708.24" x2="209.6" y2="708.24" stroke="#555" stroke-width="0.8"/>
<line x1="321" y1="708.24" x2="319.4" y2="708.24" stroke="#555" stroke-width="0.8"/>
<line x1="208" y1="702.27" x2="209.6" y2="702.27" stroke="#555" stroke-width="0.8"/>
<line x1="321" y1="702.27" x2="319.4" y2="702.27" stroke="#555" stroke-width="0.8"/>
<line x1="208" y1="696.31" x2="209.6" y2="696.31" stroke="#555" stroke-width="0.8"/>
<line x1="321" y1="696.31" x2="319.4" y2="696.31" stroke="#555" stroke-width="0.8"/>
<line x1="208" y1="690.34" x2="209.6" y2="690.34" stroke="#555" stroke-width="0.8"/>
<line x1="321" y1="690.34" x2="319.4" y2="690.34" stroke="#555" stroke-width="0.8"/>
<line x1="208" y1="684.38" x2="209.6" y2="684.38" stroke="#555" stroke-width="0.8"/>
<line x1="321" y1="684.38" x2="319.4" y2="684.38" stroke="#555" stroke-width="0.8"/>
<line x1="208" y1="678.42" x2="209.6" y2="678.42" stroke="#555" stroke-width="0.8"/>
<line x1="321" y1="678.42" x2="319.4" y2="678.42" stroke="#555" stroke-width="0.8"/>
<line x1="208" y1="672.45" x2="209.6" y2="672.45" stroke="#555" stroke-width="0.8"/>
<line x1="321" y1="672.45" x2="319.4" y2="672.45" stroke="#555" stroke-width="0.8"/>
<line x1="208" y1="666.49" x2="209.6" y2="666.49" stroke="#555" stroke-width="0.8"/>
<line x1="321" y1="666.49" x2="319.4" y2="666.49" stroke="#555" stroke-width="0.8"/>
<line x1="208" y1="660.52" x2="209.6" y2="660.52" stroke="#555" stroke-width="0.8"/>
<line x1="321" y1="660.52" x2="319.4" y2="660.52" stroke="#555" stroke-width="0.8"/>
<line x1="208" y1="654.56" x2="211" y2="654.56" stroke="#555" stroke-width="0.8"/>
<line x1="321" y1="654.56" x2="318" y2="654.56" stroke="#555" stroke-width="0.8"/>
<line x1="208" y1="648.6" x2="209.6" y2="648.6" stroke="#555" stroke-width="0.8"/>
<line x1="321" y1="648.6" x2="319.4" y2="648.6" stroke="#555" stroke-width="0.8"/>
<line x1="208" y1="642.63" x2="209.6" y2="642.63" stroke="#555" stroke-width="0.8"/>
<line x1="321" y1="642.63" x2="319.4" y2="642.63" stroke="#555" stroke-width="0.8"/>
<line x1="208" y1="636.67" x2="209.6" y2="636.67" stroke="#555" stroke-width="0.8"/>
<line x1="321" y1="636.67" x2="319.4" y2="636.67" stroke="#555" stroke-width="0.8"/>
<line x1="208" y1="630.7" x2="209.6" y2="630.7" stroke="#555" stroke-width="0.8"/>
<line x1="321" y1="630.7" x2="319.4" y2="630.7" stroke="#555" stroke-width="0.8"/>
<line x1="208" y1="624.74" x2="209.6" y2="624.74" stroke="#555" stroke-width="0.8"/>
<line x1="321" y1="624.74" x2="319.4" y2="624.74" stroke="#555" stroke-width="0.8"/>
<line x1="208" y1="618.78" x2="209.6" y2="618.78" stroke="#555" stroke-width="0.8"/>
<line x1="321" y1="618.78" x2="319.4" y2="618.78" stroke="#555" stroke-width="0.8"/>
<line x1="208" y1="612.81" x2="209.6" y2="612.81" stroke="#555" stroke-width="0.8"/>
<line x1="321" y1="612.81" x2="319.4" y2="612.81" stroke="#555" stroke-width="0.8"/>
<line x1="208" y1="606.85" x2="209.6" y2="606.85" stroke="#555" stroke-width="0.8"/>
<line x1="321" y1="606.85" x2="319.4" y2="606.85" stroke="#555" stroke-width="0.8"/>
<line x1="208" y1="600.88" x2="209.6" y2="600.88" stroke="#555" stroke-width="0.8"/>
<line x1="321" y1="600.88" x2="319.4" y2="600.88" stroke="#555" stroke-width="0.8"/>
<line x1="208" y1="594.92" x2="211" y2="594.92" stroke="#555" stroke-width="0.8"/>
<line x1="321" y1="594.92" x2="318" y2="594.92" stroke="#555" stroke-width="0.8"/>
<line x1="208" y1="588.96" x2="209.6" y2="588.96" stroke="#555" stroke-width="0.8"/>
<line x1="321" y1="588.96" x2="319.4" y2="588.96" stroke="#555" stroke-width="0.8"/>
<line x1="208" y1="582.99" x2="209.6" y2="582.99" stroke="#555" stroke-width="0.8"/>
<line x1="321" y1="582.99" x2="319.4" y2="582.99" stroke="#555" stroke-width="0.8"/>
<line x1="208" y1="577.03" x2="209.6" y2="577.03" stroke="#555" stroke-width="0.8"/>
<line x1="321" y1="577.03" x2="319.4" y2="577.03" stroke="#555" stroke-width="0.8"/>
<line x1="208" y1="571.06" x2="209.6" y2="571.06" stroke="#555" stroke-width="0.8"/>
<line x1="321" y1="571.06" x2="319.4" y2="571.06" stroke="#555" stroke-width="0.8"/>
<line x1="208" y1="565.1" x2="209.6" y2="565.1" stroke="#555" stroke-width="0.8"/>
<line x1="321" y1="565.1" x2="319.4" y2="565.1" stroke="#555" stroke-width="0.8"/>
<line x1="208" y1="559.14" x2="209.6" y2="559.14" stroke="#555" stroke-width="0.8"/>
<line x1="321" y1="559.14" x2="319.4" y2="559.14" stroke="#555" stroke-width="0.8"/>
<line x1="208" y1="553.17" x2="209.6" y2="553.17" stroke="#555" stroke-width="0.8"/>
<line x1="321" y1="553.17" x2="319.4" y2="553.17" stroke="#555" stroke-width="0.8"/>
<line x1="208" y1="547.21" x2="209.6" y2="547.21" stroke="#555" stroke-width="0.8"/>
<line x1="321" y1="547.21" x2="319.4" y2="547.21" stroke="#555" stroke-width="0.8"/>
<line x1="208" y1="541.24" x2="209.6" y2="541.24" stroke="#555" stroke-width="0.8"/>
<line x1="321" y1="541.24" x2="319.4" y2="541.24" stroke="#555" stroke-width="0.8"/>
<line x1="208" y1="535.28" x2="211" y2="535.28" stroke="#555" stroke-width="0.8"/>
<line x1="321" y1="535.28" x2="318" y2="535.28" stroke="#555" stroke-width="0.8"/>
<line x1="208" y1="529.32" x2="209.6" y2="529.32" stroke="#555" stroke-width="0.8"/>
<line x1="321" y1="529.32" x2="319.4" y2="529.32" stroke="#555" stroke-width="0.8"/>
<line x1="208" y1="523.35" x2="209.6" y2="523.35" stroke="#555" stroke-width="0.8"/>
<line x1="321" y1="523.35" x2="319.4" y2="523.35" stroke="#555" stroke-width="0.8"/>
<line x1="208" y1="517.39" x2="209.6" y2="517.39" stroke="#555" stroke-width="0.8"/>
<line x1="321" y1="517.39" x2="319.4" y2="517.39" stroke="#555" stroke-width="0.8"/>
<line x1="208" y1="511.42" x2="209.6" y2="511.42" stroke="#555" stroke-width="0.8"/>
<line x1="321" y1="511.42" x2="319.4" y2="511.42" stroke="#555" stroke-width="0.8"/>
<line x1="208" y1="505.46" x2="209.6" y2="505.46" stroke="#555" stroke-width="0.8"/>
<line x1="321" y1="505.46" x2="319.4" y2="505.46" stroke="#555" stroke-width="0.8"/>
<line x1="208" y1="499.5" x2="209.6" y2="499.5" stroke="#555" stroke-width="0.8"/>
<line x1="321" y1="499.5" x2="319.4" y2="499.5" stroke="#555" stroke-width="0.8"/>
<line x1="208" y1="493.53" x2="209.6" y2="493.53" stroke="#555" stroke-width="0.8"/>
<line x1="321" y1="493.53" x2="319.4" y2="493.53" stroke="#555" stroke-width="0.8"/>
<line x1="208" y1="487.57" x2="209.6" y2="487.57" stroke="#555" stroke-width="0.8"/>
<line x1="321" y1="487.57" x2="319.4" y2="487.57" stroke="#555" stroke-width="0.8"/>
<line x1="208" y1="481.6" x2="209.6" y2="481.6" stroke="#555" stroke-width="0.8"/>
<line x1="321" y1="481.6" x2="319.4" y2="481.6" stroke="#555" stroke-width="0.8"/>
<line x1="208" y1="475.64" x2="211" y2="475.64" stroke="#555" stroke-width="0.8"/>
<line x1="321" y1="475.64" x2="318" y2="475.64" stroke="#555" stroke-width="0.8"/>
<line x1="208" y1="469.68" x2="209.6" y2="469.68" stroke="#555" stroke-width="0.8"/>
<line x1="321" y1="469.68" x2="319.4" y2="469.68" stroke="#555" stroke-width="0.8"/>
<line x1="208" y1="463.71" x2="209.6" y2="463.71" stroke="#555" stroke-width="0.8"/>
<line x1="321" y1="463.71" x2="319.4" y2="463.71" stroke="#555" stroke-width="0.8"/>
<line x1="208" y1="457.75" x2="209.6" y2="457.75" stroke="#555" stroke-width="0.8"/>
<line x1="321" y1="457.75" x2="319.4" y2="457.75" stroke="#555" stroke-width="0.8"/>
<line x1="208" y1="451.78" x2="209.6" y2="451.78" stroke="#555" stroke-width="0.8"/>
<line x1="321" y1="451.78" x2="319.4" y2="451.78" stroke="#555" stroke-width="0.8"/>
<line x1="208" y1="445.82" x2="209.6" y2="445.82" stroke="#555" stroke-width="0.8"/>
<line x1="321" y1="445.82" x2="319.4" y2="445.82" stroke="#555" stroke-width="0.8"/>
<line x1="208" y1="439.86" x2="209.6" y2="439.86" stroke="#555" stroke-width="0.8"/>
<line x1="321" y1="439.86" x2="319.4" y2="439.86" stroke="#555" stroke-width="0.8"/>
<line x1="208" y1="433.89" x2="209.6" y2="433.89" stroke="#555" stroke-width="0.8"/>
<line x1="321" y1="433.89" x2="319.4" y2="433.89" stroke="#555" stroke-width="0.8"/>
<line x1="208" y1="427.93" x2="209.6" y2="427.93" stroke="#555" stroke-width="0.8"/>
<line x1="321" y1="427.93" x2="319.4" y2="427.93" stroke="#555" stroke-width="0.8"/>
<line x1="208" y1="421.96" x2="209.6" y2="421.96" stroke="#555" stroke-width="0.8"/>
<line x1="321" y1="421.96" x2="319.4" y2="421.96" stroke="#555" stroke-width="0.8"/>
<line x1="215.5" y1="416" x2="215.5" y2="418.2" stroke="#555" stroke-width="0.8"/>
<line x1="215.5" y1="714.2" x2="215.5" y2="712" stroke="#555" stroke-width="0.8"/>
<line x1="222.5" y1="416" x2="222.5" y2="418.2" stroke="#555" stroke-width="0.8"/>
<line x1="222.5" y1="714.2" x2="222.5" y2="712" stroke="#555" stroke-width="0.8"/>
<line x1="229.5" y1="416" x2="229.5" y2="418.2" stroke="#555" stroke-width="0.8"/>
<line x1="229.5" y1="714.2" x2="229.5" y2="712" stroke="#555" stroke-width="0.8"/>
<line x1="236.5" y1="416" x2="236.5" y2="420.5" stroke="#555" stroke-width="0.8"/>
<line x1="236.5" y1="714.2" x2="236.5" y2="709.7" stroke="#555" stroke-width="0.8"/>
<line x1="243.5" y1="416" x2="243.5" y2="418.2" stroke="#555" stroke-width="0.8"/>
<line x1="243.5" y1="714.2" x2="243.5" y2="712" stroke="#555" stroke-width="0.8"/>
<line x1="250.5" y1="416" x2="250.5" y2="418.2" stroke="#555" stroke-width="0.8"/>
<line x1="250.5" y1="714.2" x2="250.5" y2="712" stroke="#555" stroke-width="0.8"/>
<line x1="257.5" y1="416" x2="257.5" y2="418.2" stroke="#555" stroke-width="0.8"/>
<line x1="257.5" y1="714.2" x2="257.5" y2="712" stroke="#555" stroke-width="0.8"/>
<line x1="264.5" y1="416" x2="264.5" y2="420.5" stroke="#555" stroke-width="0.8"/>
<line x1="264.5" y1="714.2" x2="264.5" y2="709.7" stroke="#555" stroke-width="0.8"/>
<line x1="271.5" y1="416" x2="271.5" y2="418.2" stroke="#555" stroke-width="0.8"/>
<line x1="271.5" y1="714.2" x2="271.5" y2="712" stroke="#555" stroke-width="0.8"/>
<line x1="278.5" y1="416" x2="278.5" y2="418.2" stroke="#555" stroke-width="0.8"/>
<line x1="278.5" y1="714.2" x2="278.5" y2="712" stroke="#555" stroke-width="0.8"/>
<line x1="285.5" y1="416" x2="285.5" y2="418.2" stroke="#555" stroke-width="0.8"/>
<line x1="285.5" y1="714.2" x2="285.5" y2="712" stroke="#555" stroke-width="0.8"/>
<line x1="292.5" y1="416" x2="292.5" y2="420.5" stroke="#555" stroke-width="0.8"/>
<line x1="292.5" y1="714.2" x2="292.5" y2="709.7" stroke="#555" stroke-width="0.8"/>
<line x1="299.5" y1="416" x2="299.5" y2="418.2" stroke="#555" stroke-width="0.8"/>
<line x1="299.5" y1="714.2" x2="299.5" y2="712" stroke="#555" stroke-width="0.8"/>
<line x1="306.5" y1="416" x2="306.5" y2="418.2" stroke="#555" stroke-width="0.8"/>
<line x1="306.5" y1="714.2" x2="306.5" y2="712" stroke="#555" stroke-width="0.8"/>
<line x1="313.5" y1="416" x2="313.5" y2="418.2" stroke="#555" stroke-width="0.8"/>
<line x1="313.5" y1="714.2" x2="313.5" y2="712" stroke="#555" stroke-width="0.8"/>
<rect x="208" y="416" width="113" height="298.2" fill="none" stroke="#5a5a5a" stroke-width="1"/>
<polyline points="258.28,429.68 259.72,436.4 261.4,446 259,455.6 256.6,465.2 255.4,474.8 254.2,486.8 256.6,498.8 262.6,508.4 266.2,518 265,527.6 266.2,537.2 267.4,546.8 268.6,560 269.8,564.4 269.32,574 265,581.2 259,586 259.72,593.2 265,600.4 269.32,610 266.2,622 262.6,634 262.6,646 265,653.2 272.2,658 284.2,661.6 277,668.8 292.6,671.2 310.6,673.6 319,674.8" fill="none" stroke="#ffa000" stroke-width="1" stroke-linejoin="round"/>
<polyline points="267.88,590.8 270.28,596.8 272.92,604 269.8,612.4 265,622 261.88,631.6 261.4,640 266.2,646 277,650.8 291.4,658 305.8,665.2 315.4,669.28 308.68,674.8 299.8,675.28" fill="none" stroke="#2a2aff" stroke-width="1" stroke-linejoin="round"/>
<polyline points="219.88,430.4 231.4,435.92 241,442.4 249.4,448.4 253,455.6 255.4,465.2 254.2,474.8 253,486.8 255.4,496.4 260.2,506 262.6,515.6 262.6,525.2 262.6,534.8 263.8,544.4 266.2,560 266.92,562 268.6,569.2 265,576.4 259,583.6 253,590.8 257.8,600.4 262.6,605.2 260.68,619.6 257.8,631.6 258.28,641.2 262.6,650.8 272.2,658 286.6,662.8 299.8,668.8 289,674.8" fill="none" stroke="#ff1a1a" stroke-width="1" stroke-linejoin="round"/>
<polyline points="243.4,429.68 247,436.4 250.6,446 251.32,458 251.08,472.4 250.6,484.4 253,494 257.8,503.6 262.6,513.2 265,522.8 263.8,532.4 263.8,542 266.2,554 267.4,560 267.88,562 269.32,569.2 266.2,576.4 261.4,581.2 254.2,584.8 253,590.8 256.6,598 261.4,605.2 262.6,614.8 260.2,626.8 260.68,638.8 265,646 274.6,653.2 289,660.4 303.4,665.2 314.2,668.8 318.28,674.8" fill="none" stroke="#000" stroke-width="1" stroke-linejoin="round"/>
<path d="M291.73 672.45H294.73M291.73 671.15V673.75M294.73 671.15V673.75M293.21 666.49H296.21M293.21 665.19V667.79M296.21 665.19V667.79M278.27 660.52H281.27M278.27 659.22V661.82M281.27 659.22V661.82M266.11 654.56H269.11M266.11 653.26V655.86M269.11 653.26V655.86M260.11 648.6H263.11M260.11 647.3V649.9M263.11 647.3V649.9M251.54 457.75H255.54M251.54 456.45V459.05M255.54 456.45V459.05M249.09 451.78H253.09M249.09 450.48V453.08M253.09 450.48V453.08M243.79 445.82H247.79M243.79 444.52V447.12M247.79 444.52V447.12M235.23 439.86H239.23M235.23 438.56V441.16M239.23 438.56V441.16M225.17 433.89H229.17M225.17 432.59V435.19M229.17 432.59V435.19" stroke="#ff1a1a" stroke-width="0.8" fill="none"/>
<path d="M310.04 672.45H313.04M310.04 671.15V673.75M313.04 671.15V673.75M307.33 666.49H310.33M307.33 665.19V667.79M310.33 665.19V667.79M294.95 660.52H297.95M294.95 659.22V661.82M297.95 659.22V661.82M283.02 654.56H286.02M283.02 653.26V655.86M286.02 653.26V655.86M270.54 648.6H273.54M270.54 647.3V649.9M273.54 647.3V649.9" stroke="#2a2aff" stroke-width="0.8" fill="none"/>
<text x="203.8" y="715" font-size="10.4" text-anchor="end" fill="#3a3a3a" textLength="11.5" lengthAdjust="spacingAndGlyphs">10</text>
<text x="203.8" y="658.86" font-size="10.4" text-anchor="end" fill="#3a3a3a" textLength="11.5" lengthAdjust="spacingAndGlyphs">20</text>
<text x="203.8" y="599.22" font-size="10.4" text-anchor="end" fill="#3a3a3a" textLength="11.5" lengthAdjust="spacingAndGlyphs">30</text>
<text x="203.8" y="539.58" font-size="10.4" text-anchor="end" fill="#3a3a3a" textLength="11.5" lengthAdjust="spacingAndGlyphs">40</text>
<text x="203.8" y="479.94" font-size="10.4" text-anchor="end" fill="#3a3a3a" textLength="11.5" lengthAdjust="spacingAndGlyphs">50</text>
<text x="203.8" y="423.8" font-size="10.4" text-anchor="end" fill="#3a3a3a" textLength="11.5" lengthAdjust="spacingAndGlyphs">60</text>
<text x="207.3" y="729.2" font-size="10.6" text-anchor="middle" fill="#3a3a3a" textLength="19" lengthAdjust="spacingAndGlyphs">−40</text>
<text x="235.3" y="729.2" font-size="10.6" text-anchor="middle" fill="#3a3a3a" textLength="19" lengthAdjust="spacingAndGlyphs">−20</text>
<text x="264.5" y="729.2" font-size="10.6" text-anchor="middle" fill="#3a3a3a" textLength="5.8" lengthAdjust="spacingAndGlyphs">0</text>
<text x="292.5" y="729.2" font-size="10.6" text-anchor="middle" fill="#3a3a3a" textLength="11.5" lengthAdjust="spacingAndGlyphs">20</text>
<text x="320.5" y="729.2" font-size="10.6" text-anchor="middle" fill="#3a3a3a" textLength="11.5" lengthAdjust="spacingAndGlyphs">40</text>
<text x="264.5" y="742.2" font-size="10.4" text-anchor="middle" fill="#3a3a3a" textLength="39.5" lengthAdjust="spacingAndGlyphs">Diff (%)</text>
<text x="264.5" y="412.6" font-size="8.8" text-anchor="middle" fill="#3a3a3a" textLength="46" lengthAdjust="spacingAndGlyphs">30°S−30°N</text>
<text x="208.9" y="464.5" font-size="16" text-anchor="start" fill="#4a4a4a" textLength="19.6" lengthAdjust="spacingAndGlyphs">(e)</text>
<text x="16.8" y="565.5" font-size="9.8" text-anchor="middle" fill="#444" textLength="42" lengthAdjust="spacingAndGlyphs" transform="rotate(-90 16.8 565.5)">Alt (km)</text>
<rect x="374.3" y="416" width="113" height="298.2" fill="#c8c8c8"/>
<rect x="416.8" y="416" width="28" height="298.2" fill="#ebebeb"/>
<rect x="423.8" y="416" width="14" height="298.2" fill="#fff"/>
<line x1="374.3" y1="654.56" x2="487.3" y2="654.56" stroke="#333" stroke-width="1" stroke-dasharray="1.2 2.8"/>
<line x1="374.3" y1="594.92" x2="487.3" y2="594.92" stroke="#333" stroke-width="1" stroke-dasharray="1.2 2.8"/>
<line x1="374.3" y1="535.28" x2="487.3" y2="535.28" stroke="#333" stroke-width="1" stroke-dasharray="1.2 2.8"/>
<line x1="374.3" y1="475.64" x2="487.3" y2="475.64" stroke="#333" stroke-width="1" stroke-dasharray="1.2 2.8"/>
<line x1="430.8" y1="416" x2="430.8" y2="714.2" stroke="#333" stroke-width="1" stroke-dasharray="1.2 2.8"/>
<line x1="374.3" y1="708.24" x2="375.9" y2="708.24" stroke="#555" stroke-width="0.8"/>
<line x1="487.3" y1="708.24" x2="485.7" y2="708.24" stroke="#555" stroke-width="0.8"/>
<line x1="374.3" y1="702.27" x2="375.9" y2="702.27" stroke="#555" stroke-width="0.8"/>
<line x1="487.3" y1="702.27" x2="485.7" y2="702.27" stroke="#555" stroke-width="0.8"/>
<line x1="374.3" y1="696.31" x2="375.9" y2="696.31" stroke="#555" stroke-width="0.8"/>
<line x1="487.3" y1="696.31" x2="485.7" y2="696.31" stroke="#555" stroke-width="0.8"/>
<line x1="374.3" y1="690.34" x2="375.9" y2="690.34" stroke="#555" stroke-width="0.8"/>
<line x1="487.3" y1="690.34" x2="485.7" y2="690.34" stroke="#555" stroke-width="0.8"/>
<line x1="374.3" y1="684.38" x2="375.9" y2="684.38" stroke="#555" stroke-width="0.8"/>
<line x1="487.3" y1="684.38" x2="485.7" y2="684.38" stroke="#555" stroke-width="0.8"/>
<line x1="374.3" y1="678.42" x2="375.9" y2="678.42" stroke="#555" stroke-width="0.8"/>
<line x1="487.3" y1="678.42" x2="485.7" y2="678.42" stroke="#555" stroke-width="0.8"/>
<line x1="374.3" y1="672.45" x2="375.9" y2="672.45" stroke="#555" stroke-width="0.8"/>
<line x1="487.3" y1="672.45" x2="485.7" y2="672.45" stroke="#555" stroke-width="0.8"/>
<line x1="374.3" y1="666.49" x2="375.9" y2="666.49" stroke="#555" stroke-width="0.8"/>
<line x1="487.3" y1="666.49" x2="485.7" y2="666.49" stroke="#555" stroke-width="0.8"/>
<line x1="374.3" y1="660.52" x2="375.9" y2="660.52" stroke="#555" stroke-width="0.8"/>
<line x1="487.3" y1="660.52" x2="485.7" y2="660.52" stroke="#555" stroke-width="0.8"/>
<line x1="374.3" y1="654.56" x2="377.3" y2="654.56" stroke="#555" stroke-width="0.8"/>
<line x1="487.3" y1="654.56" x2="484.3" y2="654.56" stroke="#555" stroke-width="0.8"/>
<line x1="374.3" y1="648.6" x2="375.9" y2="648.6" stroke="#555" stroke-width="0.8"/>
<line x1="487.3" y1="648.6" x2="485.7" y2="648.6" stroke="#555" stroke-width="0.8"/>
<line x1="374.3" y1="642.63" x2="375.9" y2="642.63" stroke="#555" stroke-width="0.8"/>
<line x1="487.3" y1="642.63" x2="485.7" y2="642.63" stroke="#555" stroke-width="0.8"/>
<line x1="374.3" y1="636.67" x2="375.9" y2="636.67" stroke="#555" stroke-width="0.8"/>
<line x1="487.3" y1="636.67" x2="485.7" y2="636.67" stroke="#555" stroke-width="0.8"/>
<line x1="374.3" y1="630.7" x2="375.9" y2="630.7" stroke="#555" stroke-width="0.8"/>
<line x1="487.3" y1="630.7" x2="485.7" y2="630.7" stroke="#555" stroke-width="0.8"/>
<line x1="374.3" y1="624.74" x2="375.9" y2="624.74" stroke="#555" stroke-width="0.8"/>
<line x1="487.3" y1="624.74" x2="485.7" y2="624.74" stroke="#555" stroke-width="0.8"/>
<line x1="374.3" y1="618.78" x2="375.9" y2="618.78" stroke="#555" stroke-width="0.8"/>
<line x1="487.3" y1="618.78" x2="485.7" y2="618.78" stroke="#555" stroke-width="0.8"/>
<line x1="374.3" y1="612.81" x2="375.9" y2="612.81" stroke="#555" stroke-width="0.8"/>
<line x1="487.3" y1="612.81" x2="485.7" y2="612.81" stroke="#555" stroke-width="0.8"/>
<line x1="374.3" y1="606.85" x2="375.9" y2="606.85" stroke="#555" stroke-width="0.8"/>
<line x1="487.3" y1="606.85" x2="485.7" y2="606.85" stroke="#555" stroke-width="0.8"/>
<line x1="374.3" y1="600.88" x2="375.9" y2="600.88" stroke="#555" stroke-width="0.8"/>
<line x1="487.3" y1="600.88" x2="485.7" y2="600.88" stroke="#555" stroke-width="0.8"/>
<line x1="374.3" y1="594.92" x2="377.3" y2="594.92" stroke="#555" stroke-width="0.8"/>
<line x1="487.3" y1="594.92" x2="484.3" y2="594.92" stroke="#555" stroke-width="0.8"/>
<line x1="374.3" y1="588.96" x2="375.9" y2="588.96" stroke="#555" stroke-width="0.8"/>
<line x1="487.3" y1="588.96" x2="485.7" y2="588.96" stroke="#555" stroke-width="0.8"/>
<line x1="374.3" y1="582.99" x2="375.9" y2="582.99" stroke="#555" stroke-width="0.8"/>
<line x1="487.3" y1="582.99" x2="485.7" y2="582.99" stroke="#555" stroke-width="0.8"/>
<line x1="374.3" y1="577.03" x2="375.9" y2="577.03" stroke="#555" stroke-width="0.8"/>
<line x1="487.3" y1="577.03" x2="485.7" y2="577.03" stroke="#555" stroke-width="0.8"/>
<line x1="374.3" y1="571.06" x2="375.9" y2="571.06" stroke="#555" stroke-width="0.8"/>
<line x1="487.3" y1="571.06" x2="485.7" y2="571.06" stroke="#555" stroke-width="0.8"/>
<line x1="374.3" y1="565.1" x2="375.9" y2="565.1" stroke="#555" stroke-width="0.8"/>
<line x1="487.3" y1="565.1" x2="485.7" y2="565.1" stroke="#555" stroke-width="0.8"/>
<line x1="374.3" y1="559.14" x2="375.9" y2="559.14" stroke="#555" stroke-width="0.8"/>
<line x1="487.3" y1="559.14" x2="485.7" y2="559.14" stroke="#555" stroke-width="0.8"/>
<line x1="374.3" y1="553.17" x2="375.9" y2="553.17" stroke="#555" stroke-width="0.8"/>
<line x1="487.3" y1="553.17" x2="485.7" y2="553.17" stroke="#555" stroke-width="0.8"/>
<line x1="374.3" y1="547.21" x2="375.9" y2="547.21" stroke="#555" stroke-width="0.8"/>
<line x1="487.3" y1="547.21" x2="485.7" y2="547.21" stroke="#555" stroke-width="0.8"/>
<line x1="374.3" y1="541.24" x2="375.9" y2="541.24" stroke="#555" stroke-width="0.8"/>
<line x1="487.3" y1="541.24" x2="485.7" y2="541.24" stroke="#555" stroke-width="0.8"/>
<line x1="374.3" y1="535.28" x2="377.3" y2="535.28" stroke="#555" stroke-width="0.8"/>
<line x1="487.3" y1="535.28" x2="484.3" y2="535.28" stroke="#555" stroke-width="0.8"/>
<line x1="374.3" y1="529.32" x2="375.9" y2="529.32" stroke="#555" stroke-width="0.8"/>
<line x1="487.3" y1="529.32" x2="485.7" y2="529.32" stroke="#555" stroke-width="0.8"/>
<line x1="374.3" y1="523.35" x2="375.9" y2="523.35" stroke="#555" stroke-width="0.8"/>
<line x1="487.3" y1="523.35" x2="485.7" y2="523.35" stroke="#555" stroke-width="0.8"/>
<line x1="374.3" y1="517.39" x2="375.9" y2="517.39" stroke="#555" stroke-width="0.8"/>
<line x1="487.3" y1="517.39" x2="485.7" y2="517.39" stroke="#555" stroke-width="0.8"/>
<line x1="374.3" y1="511.42" x2="375.9" y2="511.42" stroke="#555" stroke-width="0.8"/>
<line x1="487.3" y1="511.42" x2="485.7" y2="511.42" stroke="#555" stroke-width="0.8"/>
<line x1="374.3" y1="505.46" x2="375.9" y2="505.46" stroke="#555" stroke-width="0.8"/>
<line x1="487.3" y1="505.46" x2="485.7" y2="505.46" stroke="#555" stroke-width="0.8"/>
<line x1="374.3" y1="499.5" x2="375.9" y2="499.5" stroke="#555" stroke-width="0.8"/>
<line x1="487.3" y1="499.5" x2="485.7" y2="499.5" stroke="#555" stroke-width="0.8"/>
<line x1="374.3" y1="493.53" x2="375.9" y2="493.53" stroke="#555" stroke-width="0.8"/>
<line x1="487.3" y1="493.53" x2="485.7" y2="493.53" stroke="#555" stroke-width="0.8"/>
<line x1="374.3" y1="487.57" x2="375.9" y2="487.57" stroke="#555" stroke-width="0.8"/>
<line x1="487.3" y1="487.57" x2="485.7" y2="487.57" stroke="#555" stroke-width="0.8"/>
<line x1="374.3" y1="481.6" x2="375.9" y2="481.6" stroke="#555" stroke-width="0.8"/>
<line x1="487.3" y1="481.6" x2="485.7" y2="481.6" stroke="#555" stroke-width="0.8"/>
<line x1="374.3" y1="475.64" x2="377.3" y2="475.64" stroke="#555" stroke-width="0.8"/>
<line x1="487.3" y1="475.64" x2="484.3" y2="475.64" stroke="#555" stroke-width="0.8"/>
<line x1="374.3" y1="469.68" x2="375.9" y2="469.68" stroke="#555" stroke-width="0.8"/>
<line x1="487.3" y1="469.68" x2="485.7" y2="469.68" stroke="#555" stroke-width="0.8"/>
<line x1="374.3" y1="463.71" x2="375.9" y2="463.71" stroke="#555" stroke-width="0.8"/>
<line x1="487.3" y1="463.71" x2="485.7" y2="463.71" stroke="#555" stroke-width="0.8"/>
<line x1="374.3" y1="457.75" x2="375.9" y2="457.75" stroke="#555" stroke-width="0.8"/>
<line x1="487.3" y1="457.75" x2="485.7" y2="457.75" stroke="#555" stroke-width="0.8"/>
<line x1="374.3" y1="451.78" x2="375.9" y2="451.78" stroke="#555" stroke-width="0.8"/>
<line x1="487.3" y1="451.78" x2="485.7" y2="451.78" stroke="#555" stroke-width="0.8"/>
<line x1="374.3" y1="445.82" x2="375.9" y2="445.82" stroke="#555" stroke-width="0.8"/>
<line x1="487.3" y1="445.82" x2="485.7" y2="445.82" stroke="#555" stroke-width="0.8"/>
<line x1="374.3" y1="439.86" x2="375.9" y2="439.86" stroke="#555" stroke-width="0.8"/>
<line x1="487.3" y1="439.86" x2="485.7" y2="439.86" stroke="#555" stroke-width="0.8"/>
<line x1="374.3" y1="433.89" x2="375.9" y2="433.89" stroke="#555" stroke-width="0.8"/>
<line x1="487.3" y1="433.89" x2="485.7" y2="433.89" stroke="#555" stroke-width="0.8"/>
<line x1="374.3" y1="427.93" x2="375.9" y2="427.93" stroke="#555" stroke-width="0.8"/>
<line x1="487.3" y1="427.93" x2="485.7" y2="427.93" stroke="#555" stroke-width="0.8"/>
<line x1="374.3" y1="421.96" x2="375.9" y2="421.96" stroke="#555" stroke-width="0.8"/>
<line x1="487.3" y1="421.96" x2="485.7" y2="421.96" stroke="#555" stroke-width="0.8"/>
<line x1="381.8" y1="416" x2="381.8" y2="418.2" stroke="#555" stroke-width="0.8"/>
<line x1="381.8" y1="714.2" x2="381.8" y2="712" stroke="#555" stroke-width="0.8"/>
<line x1="388.8" y1="416" x2="388.8" y2="418.2" stroke="#555" stroke-width="0.8"/>
<line x1="388.8" y1="714.2" x2="388.8" y2="712" stroke="#555" stroke-width="0.8"/>
<line x1="395.8" y1="416" x2="395.8" y2="418.2" stroke="#555" stroke-width="0.8"/>
<line x1="395.8" y1="714.2" x2="395.8" y2="712" stroke="#555" stroke-width="0.8"/>
<line x1="402.8" y1="416" x2="402.8" y2="420.5" stroke="#555" stroke-width="0.8"/>
<line x1="402.8" y1="714.2" x2="402.8" y2="709.7" stroke="#555" stroke-width="0.8"/>
<line x1="409.8" y1="416" x2="409.8" y2="418.2" stroke="#555" stroke-width="0.8"/>
<line x1="409.8" y1="714.2" x2="409.8" y2="712" stroke="#555" stroke-width="0.8"/>
<line x1="416.8" y1="416" x2="416.8" y2="418.2" stroke="#555" stroke-width="0.8"/>
<line x1="416.8" y1="714.2" x2="416.8" y2="712" stroke="#555" stroke-width="0.8"/>
<line x1="423.8" y1="416" x2="423.8" y2="418.2" stroke="#555" stroke-width="0.8"/>
<line x1="423.8" y1="714.2" x2="423.8" y2="712" stroke="#555" stroke-width="0.8"/>
<line x1="430.8" y1="416" x2="430.8" y2="420.5" stroke="#555" stroke-width="0.8"/>
<line x1="430.8" y1="714.2" x2="430.8" y2="709.7" stroke="#555" stroke-width="0.8"/>
<line x1="437.8" y1="416" x2="437.8" y2="418.2" stroke="#555" stroke-width="0.8"/>
<line x1="437.8" y1="714.2" x2="437.8" y2="712" stroke="#555" stroke-width="0.8"/>
<line x1="444.8" y1="416" x2="444.8" y2="418.2" stroke="#555" stroke-width="0.8"/>
<line x1="444.8" y1="714.2" x2="444.8" y2="712" stroke="#555" stroke-width="0.8"/>
<line x1="451.8" y1="416" x2="451.8" y2="418.2" stroke="#555" stroke-width="0.8"/>
<line x1="451.8" y1="714.2" x2="451.8" y2="712" stroke="#555" stroke-width="0.8"/>
<line x1="458.8" y1="416" x2="458.8" y2="420.5" stroke="#555" stroke-width="0.8"/>
<line x1="458.8" y1="714.2" x2="458.8" y2="709.7" stroke="#555" stroke-width="0.8"/>
<line x1="465.8" y1="416" x2="465.8" y2="418.2" stroke="#555" stroke-width="0.8"/>
<line x1="465.8" y1="714.2" x2="465.8" y2="712" stroke="#555" stroke-width="0.8"/>
<line x1="472.8" y1="416" x2="472.8" y2="418.2" stroke="#555" stroke-width="0.8"/>
<line x1="472.8" y1="714.2" x2="472.8" y2="712" stroke="#555" stroke-width="0.8"/>
<line x1="479.8" y1="416" x2="479.8" y2="418.2" stroke="#555" stroke-width="0.8"/>
<line x1="479.8" y1="714.2" x2="479.8" y2="712" stroke="#555" stroke-width="0.8"/>
<rect x="374.3" y="416" width="113" height="298.2" fill="none" stroke="#5a5a5a" stroke-width="1"/>
<polyline points="425.68,429.68 425.2,438.8 424,448.4 421.6,460.4 419.2,470 417.52,482 420.4,491.6 424,503.6 427.12,515.6 427.6,522.8 431.2,530 434.32,537.2 430,544.4 429.52,554 430,560 432.4,562 432.88,574 427.6,586 422.8,598 421.6,612.4 424,626.8 428.8,638.8 434.32,648.4 439.6,655.6 444.4,660.4 443.2,665.2 440.8,670 442,672.4 437.2,679.6 432.4,686.8 429.52,694 427.6,698.8" fill="none" stroke="#ffa000" stroke-width="1" stroke-linejoin="round"/>
<polyline points="431.92,591.28 426.4,599.2 421.6,607.6 420.4,619.6 422.8,631.6 427.6,641.2 434.8,648.4 442,655.6 444.88,662.8 443.2,670 437.2,676 431.2,682 427.6,689.2 426.4,695.2 425.68,699.28" fill="none" stroke="#2a2aff" stroke-width="1" stroke-linejoin="round"/>
<polyline points="380.8,430.4 391.6,436.4 401.2,442.4 408.88,448.4 414.4,455.6 416.8,465.2 417.52,473.6 416.8,482 419.2,494 420.88,506 423.28,515.6 419.92,526.4 425.2,532.4 429.52,537.2 427.12,544.4 427.12,560 427.6,559.6 429.52,569.2 426.4,578.8 420.4,586 415.6,598 416.08,612.4 418,626.8 422.8,638.8 431.2,646 439.6,653.2 444.88,659.2 446.32,664 442,670 436,677.2 430,686.8 425.68,694 421.6,699.28" fill="none" stroke="#ff1a1a" stroke-width="1" stroke-linejoin="round"/>
<polyline points="409.6,429.68 410.32,438.8 413.2,450.8 415.6,460.4 416.32,474.8 417.52,486.8 419.2,498.8 421.6,510.8 422.32,518 420.88,525.2 425.2,530 428.8,534.8 427.6,540.8 426.4,549.2 427.12,560 428.8,559.6 430,569.2 427.6,578.8 421.6,583.6 416.8,589.6 414.4,598 414.4,612.4 416.8,626.8 421.6,638.8 430,646 438.4,653.2 445.6,659.2 448.72,664 446.8,670 440.8,676 433.6,684.4 430,691.6 428.8,698.8" fill="none" stroke="#000" stroke-width="1" stroke-linejoin="round"/>
<path d="M422.4 696.31H425.4M422.4 695.01V697.61M425.4 695.01V697.61M426.37 690.34H429.37M426.37 689.04V691.64M429.37 689.04V691.64M430.01 684.38H433.01M430.01 683.08V685.68M433.01 683.08V685.68M433.74 678.42H436.74M433.74 677.12V679.72M436.74 677.12V679.72M438.46 672.45H441.46M438.46 671.15V673.75M441.46 671.15V673.75M443.03 666.49H446.03M443.03 665.19V667.79M446.03 665.19V667.79M443.78 660.52H446.78M443.78 659.22V661.82M446.78 659.22V661.82M439.3 654.56H442.3M439.3 653.26V655.86M442.3 653.26V655.86M432.73 648.6H435.73M432.73 647.3V649.9M435.73 647.3V649.9M412.94 457.75H416.94M412.94 456.45V459.05M416.94 456.45V459.05M409.47 451.78H413.47M409.47 450.48V453.08M413.47 450.48V453.08M403.58 445.82H407.58M403.58 444.52V447.12M407.58 444.52V447.12M395.13 439.86H399.13M395.13 438.56V441.16M399.13 438.56V441.16M385.09 433.89H389.09M385.09 432.59V435.19M389.09 432.59V435.19" stroke="#ff1a1a" stroke-width="0.8" fill="none"/>
<path d="M424.7 696.31H427.7M424.7 695.01V697.61M427.7 695.01V697.61M425.87 690.34H428.87M425.87 689.04V691.64M428.87 689.04V691.64M428.51 684.38H431.51M428.51 683.08V685.68M431.51 683.08V685.68M433.28 678.42H436.28M433.28 677.12V679.72M436.28 677.12V679.72M439.25 672.45H442.25M439.25 671.15V673.75M442.25 671.15V673.75M442.52 666.49H445.52M442.52 665.19V667.79M445.52 665.19V667.79M442.47 660.52H445.47M442.47 659.22V661.82M445.47 659.22V661.82M439.46 654.56H442.46M439.46 653.26V655.86M442.46 653.26V655.86M433.5 648.6H436.5M433.5 647.3V649.9M436.5 647.3V649.9" stroke="#2a2aff" stroke-width="0.8" fill="none"/>
<text x="370.1" y="715" font-size="10.4" text-anchor="end" fill="#3a3a3a" textLength="11.5" lengthAdjust="spacingAndGlyphs">10</text>
<text x="370.1" y="658.86" font-size="10.4" text-anchor="end" fill="#3a3a3a" textLength="11.5" lengthAdjust="spacingAndGlyphs">20</text>
<text x="370.1" y="599.22" font-size="10.4" text-anchor="end" fill="#3a3a3a" textLength="11.5" lengthAdjust="spacingAndGlyphs">30</text>
<text x="370.1" y="539.58" font-size="10.4" text-anchor="end" fill="#3a3a3a" textLength="11.5" lengthAdjust="spacingAndGlyphs">40</text>
<text x="370.1" y="479.94" font-size="10.4" text-anchor="end" fill="#3a3a3a" textLength="11.5" lengthAdjust="spacingAndGlyphs">50</text>
<text x="370.1" y="423.8" font-size="10.4" text-anchor="end" fill="#3a3a3a" textLength="11.5" lengthAdjust="spacingAndGlyphs">60</text>
<text x="373.6" y="729.2" font-size="10.6" text-anchor="middle" fill="#3a3a3a" textLength="19" lengthAdjust="spacingAndGlyphs">−40</text>
<text x="401.6" y="729.2" font-size="10.6" text-anchor="middle" fill="#3a3a3a" textLength="19" lengthAdjust="spacingAndGlyphs">−20</text>
<text x="430.8" y="729.2" font-size="10.6" text-anchor="middle" fill="#3a3a3a" textLength="5.8" lengthAdjust="spacingAndGlyphs">0</text>
<text x="458.8" y="729.2" font-size="10.6" text-anchor="middle" fill="#3a3a3a" textLength="11.5" lengthAdjust="spacingAndGlyphs">20</text>
<text x="486.8" y="729.2" font-size="10.6" text-anchor="middle" fill="#3a3a3a" textLength="11.5" lengthAdjust="spacingAndGlyphs">40</text>
<text x="430.8" y="742.2" font-size="10.4" text-anchor="middle" fill="#3a3a3a" textLength="39.5" lengthAdjust="spacingAndGlyphs">Diff (%)</text>
<text x="430.8" y="412.6" font-size="8.8" text-anchor="middle" fill="#3a3a3a" textLength="46" lengthAdjust="spacingAndGlyphs">30°N−60°N</text>
<text x="375.2" y="464.5" font-size="16" text-anchor="start" fill="#4a4a4a" textLength="19.6" lengthAdjust="spacingAndGlyphs">(f)</text>
<text x="16.8" y="565.5" font-size="9.8" text-anchor="middle" fill="#444" textLength="42" lengthAdjust="spacingAndGlyphs" transform="rotate(-90 16.8 565.5)">Alt (km)</text>
<text x="26" y="757.9" font-size="12.5" text-anchor="start" fill="#222" textLength="70.5" lengthAdjust="spacingAndGlyphs" stroke="#fff" stroke-width="0.15">OMPS−ACE</text>
<text x="150.1" y="757.9" font-size="12.5" text-anchor="start" fill="#ff1010" textLength="80.6" lengthAdjust="spacingAndGlyphs" stroke="#fff" stroke-width="0.15">OMPS−SAGE</text>
<text x="274.9" y="757.9" font-size="12.5" text-anchor="start" fill="#2a2aff" textLength="87.1" lengthAdjust="spacingAndGlyphs" stroke="#fff" stroke-width="0.15">OMPS−Sonde</text>
<text x="399.7" y="757.9" font-size="12.5" text-anchor="start" fill="#ffa000" textLength="72.7" lengthAdjust="spacingAndGlyphs" stroke="#fff" stroke-width="0.15">OMPS−MLS</text>
</svg></body></html>
